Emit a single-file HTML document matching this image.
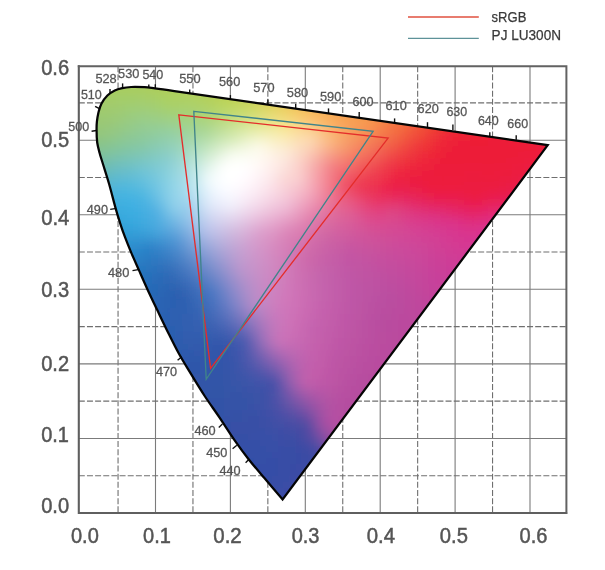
<!DOCTYPE html>
<html><head><meta charset="utf-8"><title>CIE 1976 chromaticity</title>
<style>
html,body{margin:0;padding:0;background:#fff;}
svg{display:block;font-family:"Liberation Sans",sans-serif;will-change:transform;}
.gs{stroke:#7b7b7b;stroke-width:1.1;fill:none}
.gd{stroke:#6f6f6f;stroke-width:1.1;fill:none;stroke-dasharray:6 2.15}
</style></head><body>
<svg width="605" height="570" viewBox="0 0 605 570">
<defs>
<clipPath id="hs"><path d="M174.4 91.1C171.2 90.6 160.0 88.9 155.0 88.3C150.0 87.7 148.6 87.4 144.6 87.2C140.6 87.0 134.9 86.8 131.2 87.0C127.5 87.2 125.0 87.5 122.3 88.1C119.6 88.7 117.3 89.2 114.8 90.4C112.3 91.6 109.6 93.3 107.4 95.5C105.2 97.7 102.9 100.8 101.4 103.7C99.9 106.6 99.2 109.7 98.4 112.7C97.7 115.7 97.2 118.6 96.9 121.6C96.6 124.6 96.5 127.0 96.6 130.5C96.6 134.0 96.7 138.8 97.2 142.5C97.7 146.2 98.7 149.5 99.6 153.0C100.5 156.5 101.2 158.3 102.8 163.5C104.4 168.7 107.0 176.6 109.1 184.0C111.2 191.4 113.7 201.4 115.5 207.9C117.3 214.4 118.4 217.8 120.0 222.8C121.6 227.8 123.3 232.7 125.2 237.7C127.1 242.7 128.8 246.9 131.2 252.6C133.6 258.3 137.0 265.7 139.7 271.9C142.4 278.1 144.7 283.4 147.6 289.7C150.5 296.0 153.9 303.1 157.0 309.6C160.1 316.1 162.7 321.7 166.3 328.9C169.9 336.1 174.3 345.3 178.4 352.8C182.5 360.3 186.4 366.4 190.8 373.7C195.2 381.0 200.2 389.2 205.0 396.5C209.8 403.8 214.4 409.9 219.4 417.3C224.4 424.7 230.3 434.1 235.2 441.1C240.1 448.1 243.7 453.0 248.6 459.2C253.5 465.4 258.7 471.4 264.4 478.1C270.1 484.8 279.6 495.9 282.6 499.5L547.7 145.2Z"/></clipPath>
<filter id="bl" x="-5%" y="-5%" width="110%" height="110%"><feGaussianBlur stdDeviation="4"/></filter>
</defs>
<rect width="605" height="570" fill="#fff"/>
<g id="grid">
<line x1="118.05" y1="66.2" x2="118.05" y2="513.0" class="gd"/>
<line x1="155.50" y1="66.2" x2="155.50" y2="513.0" class="gs"/>
<line x1="192.95" y1="66.2" x2="192.95" y2="513.0" class="gd"/>
<line x1="230.40" y1="66.2" x2="230.40" y2="513.0" class="gs"/>
<line x1="267.85" y1="66.2" x2="267.85" y2="513.0" class="gd"/>
<line x1="305.30" y1="66.2" x2="305.30" y2="513.0" class="gs"/>
<line x1="342.75" y1="66.2" x2="342.75" y2="513.0" class="gd"/>
<line x1="380.20" y1="66.2" x2="380.20" y2="513.0" class="gs"/>
<line x1="417.65" y1="66.2" x2="417.65" y2="513.0" class="gd"/>
<line x1="455.10" y1="66.2" x2="455.10" y2="513.0" class="gs"/>
<line x1="492.55" y1="66.2" x2="492.55" y2="513.0" class="gd"/>
<line x1="530.00" y1="66.2" x2="530.00" y2="513.0" class="gs"/>
<line x1="78.8" y1="475.72" x2="566.3" y2="475.72" class="gd"/>
<line x1="78.8" y1="438.44" x2="566.3" y2="438.44" class="gs"/>
<line x1="78.8" y1="401.16" x2="566.3" y2="401.16" class="gd"/>
<line x1="78.8" y1="363.88" x2="566.3" y2="363.88" class="gs"/>
<line x1="78.8" y1="326.60" x2="566.3" y2="326.60" class="gd"/>
<line x1="78.8" y1="289.32" x2="566.3" y2="289.32" class="gs"/>
<line x1="78.8" y1="252.04" x2="566.3" y2="252.04" class="gd"/>
<line x1="78.8" y1="214.76" x2="566.3" y2="214.76" class="gs"/>
<line x1="78.8" y1="177.48" x2="566.3" y2="177.48" class="gd"/>
<line x1="78.8" y1="140.20" x2="566.3" y2="140.20" class="gs"/>
<line x1="78.8" y1="102.92" x2="566.3" y2="102.92" class="gd"/>
</g>
<g clip-path="url(#hs)"><g filter="url(#bl)">
<rect x="116" y="68" width="7" height="7" fill="#abcc55"/>
<rect x="122" y="68" width="7" height="7" fill="#accd55"/>
<rect x="128" y="68" width="7" height="7" fill="#adcd54"/>
<rect x="134" y="68" width="7" height="7" fill="#aecd53"/>
<rect x="140" y="68" width="7" height="7" fill="#aecd52"/>
<rect x="146" y="68" width="7" height="7" fill="#afcd51"/>
<rect x="152" y="68" width="7" height="7" fill="#b0cd50"/>
<rect x="104" y="74" width="7" height="7" fill="#a9cc5a"/>
<rect x="110" y="74" width="7" height="7" fill="#a9cc59"/>
<rect x="116" y="74" width="7" height="7" fill="#aacd59"/>
<rect x="122" y="74" width="7" height="7" fill="#abcd58"/>
<rect x="128" y="74" width="7" height="7" fill="#abcd58"/>
<rect x="134" y="74" width="7" height="7" fill="#accd57"/>
<rect x="140" y="74" width="7" height="7" fill="#adcd56"/>
<rect x="146" y="74" width="7" height="7" fill="#aece55"/>
<rect x="152" y="74" width="7" height="7" fill="#afce54"/>
<rect x="158" y="74" width="7" height="7" fill="#b0ce53"/>
<rect x="164" y="74" width="7" height="7" fill="#b1ce51"/>
<rect x="170" y="74" width="7" height="7" fill="#b2ce50"/>
<rect x="176" y="74" width="7" height="7" fill="#b3ce4f"/>
<rect x="182" y="74" width="7" height="7" fill="#b4ce4e"/>
<rect x="188" y="74" width="7" height="7" fill="#b5ce4d"/>
<rect x="194" y="74" width="7" height="7" fill="#b6ce4b"/>
<rect x="98" y="80" width="7" height="7" fill="#a7cc5e"/>
<rect x="104" y="80" width="7" height="7" fill="#a8cc5d"/>
<rect x="110" y="80" width="7" height="7" fill="#a8cd5d"/>
<rect x="116" y="80" width="7" height="7" fill="#a9cd5d"/>
<rect x="122" y="80" width="7" height="7" fill="#a9cd5d"/>
<rect x="128" y="80" width="7" height="7" fill="#aacd5c"/>
<rect x="134" y="80" width="7" height="7" fill="#aacd5c"/>
<rect x="140" y="80" width="7" height="7" fill="#abce5b"/>
<rect x="146" y="80" width="7" height="7" fill="#acce5a"/>
<rect x="152" y="80" width="7" height="7" fill="#adce59"/>
<rect x="158" y="80" width="7" height="7" fill="#aece57"/>
<rect x="164" y="80" width="7" height="7" fill="#afce56"/>
<rect x="170" y="80" width="7" height="7" fill="#b0ce55"/>
<rect x="176" y="80" width="7" height="7" fill="#b1ce54"/>
<rect x="182" y="80" width="7" height="7" fill="#b2ce53"/>
<rect x="188" y="80" width="7" height="7" fill="#b4ce52"/>
<rect x="194" y="80" width="7" height="7" fill="#b5ce50"/>
<rect x="200" y="80" width="7" height="7" fill="#b6ce4f"/>
<rect x="206" y="80" width="7" height="7" fill="#b8ce4d"/>
<rect x="212" y="80" width="7" height="7" fill="#bace4b"/>
<rect x="218" y="80" width="7" height="7" fill="#bcce49"/>
<rect x="224" y="80" width="7" height="7" fill="#bfce48"/>
<rect x="230" y="80" width="7" height="7" fill="#c1ce47"/>
<rect x="236" y="80" width="7" height="7" fill="#c4cd46"/>
<rect x="92" y="86" width="7" height="7" fill="#a4cb61"/>
<rect x="98" y="86" width="7" height="7" fill="#a6cc61"/>
<rect x="104" y="86" width="7" height="7" fill="#a7cc61"/>
<rect x="110" y="86" width="7" height="7" fill="#a7cd61"/>
<rect x="116" y="86" width="7" height="7" fill="#a7cd61"/>
<rect x="122" y="86" width="7" height="7" fill="#a7cd61"/>
<rect x="128" y="86" width="7" height="7" fill="#a8cd61"/>
<rect x="134" y="86" width="7" height="7" fill="#a8cd61"/>
<rect x="140" y="86" width="7" height="7" fill="#a9ce60"/>
<rect x="146" y="86" width="7" height="7" fill="#aace5f"/>
<rect x="152" y="86" width="7" height="7" fill="#abce5e"/>
<rect x="158" y="86" width="7" height="7" fill="#adcf5c"/>
<rect x="164" y="86" width="7" height="7" fill="#aecf5b"/>
<rect x="170" y="86" width="7" height="7" fill="#afcf5a"/>
<rect x="176" y="86" width="7" height="7" fill="#b0cf59"/>
<rect x="182" y="86" width="7" height="7" fill="#b1cf59"/>
<rect x="188" y="86" width="7" height="7" fill="#b2cf58"/>
<rect x="194" y="86" width="7" height="7" fill="#b3cf56"/>
<rect x="200" y="86" width="7" height="7" fill="#b5cf54"/>
<rect x="206" y="86" width="7" height="7" fill="#b6cf52"/>
<rect x="212" y="86" width="7" height="7" fill="#b9cf50"/>
<rect x="218" y="86" width="7" height="7" fill="#bbd04e"/>
<rect x="224" y="86" width="7" height="7" fill="#bed04d"/>
<rect x="230" y="86" width="7" height="7" fill="#c0d04c"/>
<rect x="236" y="86" width="7" height="7" fill="#c3cf4b"/>
<rect x="242" y="86" width="7" height="7" fill="#c7cf4b"/>
<rect x="248" y="86" width="7" height="7" fill="#cbce4b"/>
<rect x="254" y="86" width="7" height="7" fill="#cfcd4b"/>
<rect x="260" y="86" width="7" height="7" fill="#d4cc4a"/>
<rect x="266" y="86" width="7" height="7" fill="#d8ca49"/>
<rect x="272" y="86" width="7" height="7" fill="#ddc849"/>
<rect x="278" y="86" width="7" height="7" fill="#e1c648"/>
<rect x="86" y="92" width="7" height="7" fill="#a1ca65"/>
<rect x="92" y="92" width="7" height="7" fill="#a3cb65"/>
<rect x="98" y="92" width="7" height="7" fill="#a5cc65"/>
<rect x="104" y="92" width="7" height="7" fill="#a5cc65"/>
<rect x="110" y="92" width="7" height="7" fill="#a5cc65"/>
<rect x="116" y="92" width="7" height="7" fill="#a5cd66"/>
<rect x="122" y="92" width="7" height="7" fill="#a5cd66"/>
<rect x="128" y="92" width="7" height="7" fill="#a5cd66"/>
<rect x="134" y="92" width="7" height="7" fill="#a6cd66"/>
<rect x="140" y="92" width="7" height="7" fill="#a7ce66"/>
<rect x="146" y="92" width="7" height="7" fill="#a8ce65"/>
<rect x="152" y="92" width="7" height="7" fill="#a9cf63"/>
<rect x="158" y="92" width="7" height="7" fill="#abcf61"/>
<rect x="164" y="92" width="7" height="7" fill="#accf5f"/>
<rect x="170" y="92" width="7" height="7" fill="#adcf5f"/>
<rect x="176" y="92" width="7" height="7" fill="#aed05f"/>
<rect x="182" y="92" width="7" height="7" fill="#afd05f"/>
<rect x="188" y="92" width="7" height="7" fill="#b0d05f"/>
<rect x="194" y="92" width="7" height="7" fill="#b1d05d"/>
<rect x="200" y="92" width="7" height="7" fill="#b3d05a"/>
<rect x="206" y="92" width="7" height="7" fill="#b5d058"/>
<rect x="212" y="92" width="7" height="7" fill="#b7d155"/>
<rect x="218" y="92" width="7" height="7" fill="#bad154"/>
<rect x="224" y="92" width="7" height="7" fill="#bdd252"/>
<rect x="230" y="92" width="7" height="7" fill="#c0d252"/>
<rect x="236" y="92" width="7" height="7" fill="#c3d252"/>
<rect x="242" y="92" width="7" height="7" fill="#c6d152"/>
<rect x="248" y="92" width="7" height="7" fill="#cad152"/>
<rect x="254" y="92" width="7" height="7" fill="#cfd052"/>
<rect x="260" y="92" width="7" height="7" fill="#d4cf51"/>
<rect x="266" y="92" width="7" height="7" fill="#d9cd50"/>
<rect x="272" y="92" width="7" height="7" fill="#decb50"/>
<rect x="278" y="92" width="7" height="7" fill="#e3c84f"/>
<rect x="284" y="92" width="7" height="7" fill="#e7c54d"/>
<rect x="290" y="92" width="7" height="7" fill="#eac24c"/>
<rect x="296" y="92" width="7" height="7" fill="#edbe4b"/>
<rect x="302" y="92" width="7" height="7" fill="#f0ba49"/>
<rect x="308" y="92" width="7" height="7" fill="#f2b648"/>
<rect x="314" y="92" width="7" height="7" fill="#f3b246"/>
<rect x="320" y="92" width="7" height="7" fill="#f4af45"/>
<rect x="86" y="98" width="7" height="7" fill="#a0ca68"/>
<rect x="92" y="98" width="7" height="7" fill="#a2cb68"/>
<rect x="98" y="98" width="7" height="7" fill="#a4cc69"/>
<rect x="104" y="98" width="7" height="7" fill="#a4cc69"/>
<rect x="110" y="98" width="7" height="7" fill="#a3cc69"/>
<rect x="116" y="98" width="7" height="7" fill="#a3cc6a"/>
<rect x="122" y="98" width="7" height="7" fill="#a3cd6b"/>
<rect x="128" y="98" width="7" height="7" fill="#a3cd6c"/>
<rect x="134" y="98" width="7" height="7" fill="#a3cd6d"/>
<rect x="140" y="98" width="7" height="7" fill="#a4ce6d"/>
<rect x="146" y="98" width="7" height="7" fill="#a5ce6c"/>
<rect x="152" y="98" width="7" height="7" fill="#a6cf6a"/>
<rect x="158" y="98" width="7" height="7" fill="#a8cf68"/>
<rect x="164" y="98" width="7" height="7" fill="#aad065"/>
<rect x="170" y="98" width="7" height="7" fill="#acd064"/>
<rect x="176" y="98" width="7" height="7" fill="#acd065"/>
<rect x="182" y="98" width="7" height="7" fill="#add066"/>
<rect x="188" y="98" width="7" height="7" fill="#aed066"/>
<rect x="194" y="98" width="7" height="7" fill="#afd164"/>
<rect x="200" y="98" width="7" height="7" fill="#b1d161"/>
<rect x="206" y="98" width="7" height="7" fill="#b3d15e"/>
<rect x="212" y="98" width="7" height="7" fill="#b6d25c"/>
<rect x="218" y="98" width="7" height="7" fill="#b9d35b"/>
<rect x="224" y="98" width="7" height="7" fill="#bcd459"/>
<rect x="230" y="98" width="7" height="7" fill="#bfd459"/>
<rect x="236" y="98" width="7" height="7" fill="#c2d459"/>
<rect x="242" y="98" width="7" height="7" fill="#c6d45a"/>
<rect x="248" y="98" width="7" height="7" fill="#cad45a"/>
<rect x="254" y="98" width="7" height="7" fill="#d0d35a"/>
<rect x="260" y="98" width="7" height="7" fill="#d5d259"/>
<rect x="266" y="98" width="7" height="7" fill="#dbd059"/>
<rect x="272" y="98" width="7" height="7" fill="#e0ce58"/>
<rect x="278" y="98" width="7" height="7" fill="#e5cc57"/>
<rect x="284" y="98" width="7" height="7" fill="#e9c855"/>
<rect x="290" y="98" width="7" height="7" fill="#edc553"/>
<rect x="296" y="98" width="7" height="7" fill="#f0c052"/>
<rect x="302" y="98" width="7" height="7" fill="#f2bc50"/>
<rect x="308" y="98" width="7" height="7" fill="#f4b84e"/>
<rect x="314" y="98" width="7" height="7" fill="#f5b34c"/>
<rect x="320" y="98" width="7" height="7" fill="#f5b04a"/>
<rect x="326" y="98" width="7" height="7" fill="#f6ac48"/>
<rect x="332" y="98" width="7" height="7" fill="#f6a847"/>
<rect x="338" y="98" width="7" height="7" fill="#f6a546"/>
<rect x="344" y="98" width="7" height="7" fill="#f6a245"/>
<rect x="350" y="98" width="7" height="7" fill="#f69f44"/>
<rect x="356" y="98" width="7" height="7" fill="#f69b42"/>
<rect x="362" y="98" width="7" height="7" fill="#f69741"/>
<rect x="80" y="104" width="7" height="7" fill="#9bc86c"/>
<rect x="86" y="104" width="7" height="7" fill="#9ec96b"/>
<rect x="92" y="104" width="7" height="7" fill="#a0ca6b"/>
<rect x="98" y="104" width="7" height="7" fill="#a1cb6c"/>
<rect x="104" y="104" width="7" height="7" fill="#a1cb6d"/>
<rect x="110" y="104" width="7" height="7" fill="#a1cb6e"/>
<rect x="116" y="104" width="7" height="7" fill="#a1cc6f"/>
<rect x="122" y="104" width="7" height="7" fill="#a0cc71"/>
<rect x="128" y="104" width="7" height="7" fill="#a0cd73"/>
<rect x="134" y="104" width="7" height="7" fill="#a0cd74"/>
<rect x="140" y="104" width="7" height="7" fill="#a1ce75"/>
<rect x="146" y="104" width="7" height="7" fill="#a2ce74"/>
<rect x="152" y="104" width="7" height="7" fill="#a3cf72"/>
<rect x="158" y="104" width="7" height="7" fill="#a5cf70"/>
<rect x="164" y="104" width="7" height="7" fill="#a8d06c"/>
<rect x="170" y="104" width="7" height="7" fill="#a9d06b"/>
<rect x="176" y="104" width="7" height="7" fill="#a9d06d"/>
<rect x="182" y="104" width="7" height="7" fill="#aad16d"/>
<rect x="188" y="104" width="7" height="7" fill="#abd16d"/>
<rect x="194" y="104" width="7" height="7" fill="#add16b"/>
<rect x="200" y="104" width="7" height="7" fill="#afd269"/>
<rect x="206" y="104" width="7" height="7" fill="#b2d266"/>
<rect x="212" y="104" width="7" height="7" fill="#b5d365"/>
<rect x="218" y="104" width="7" height="7" fill="#b9d564"/>
<rect x="224" y="104" width="7" height="7" fill="#bcd663"/>
<rect x="230" y="104" width="7" height="7" fill="#c0d763"/>
<rect x="236" y="104" width="7" height="7" fill="#c3d764"/>
<rect x="242" y="104" width="7" height="7" fill="#c6d764"/>
<rect x="248" y="104" width="7" height="7" fill="#cad764"/>
<rect x="254" y="104" width="7" height="7" fill="#d1d764"/>
<rect x="260" y="104" width="7" height="7" fill="#d8d664"/>
<rect x="266" y="104" width="7" height="7" fill="#ded462"/>
<rect x="272" y="104" width="7" height="7" fill="#e3d362"/>
<rect x="278" y="104" width="7" height="7" fill="#e8d061"/>
<rect x="284" y="104" width="7" height="7" fill="#eccc5e"/>
<rect x="290" y="104" width="7" height="7" fill="#f0c85c"/>
<rect x="296" y="104" width="7" height="7" fill="#f3c35b"/>
<rect x="302" y="104" width="7" height="7" fill="#f5be58"/>
<rect x="308" y="104" width="7" height="7" fill="#f6b956"/>
<rect x="314" y="104" width="7" height="7" fill="#f7b553"/>
<rect x="320" y="104" width="7" height="7" fill="#f7b151"/>
<rect x="326" y="104" width="7" height="7" fill="#f7ac4e"/>
<rect x="332" y="104" width="7" height="7" fill="#f7a94c"/>
<rect x="338" y="104" width="7" height="7" fill="#f7a54b"/>
<rect x="344" y="104" width="7" height="7" fill="#f7a249"/>
<rect x="350" y="104" width="7" height="7" fill="#f69f48"/>
<rect x="356" y="104" width="7" height="7" fill="#f69c47"/>
<rect x="362" y="104" width="7" height="7" fill="#f69845"/>
<rect x="368" y="104" width="7" height="7" fill="#f69443"/>
<rect x="374" y="104" width="7" height="7" fill="#f68e41"/>
<rect x="380" y="104" width="7" height="7" fill="#f5883f"/>
<rect x="386" y="104" width="7" height="7" fill="#f5823d"/>
<rect x="392" y="104" width="7" height="7" fill="#f57b3b"/>
<rect x="398" y="104" width="7" height="7" fill="#f47439"/>
<rect x="404" y="104" width="7" height="7" fill="#f46d37"/>
<rect x="80" y="110" width="7" height="7" fill="#99c76f"/>
<rect x="86" y="110" width="7" height="7" fill="#9bc86f"/>
<rect x="92" y="110" width="7" height="7" fill="#9dc96f"/>
<rect x="98" y="110" width="7" height="7" fill="#9eca6f"/>
<rect x="104" y="110" width="7" height="7" fill="#9fca70"/>
<rect x="110" y="110" width="7" height="7" fill="#9eca72"/>
<rect x="116" y="110" width="7" height="7" fill="#9ecb74"/>
<rect x="122" y="110" width="7" height="7" fill="#9dcc77"/>
<rect x="128" y="110" width="7" height="7" fill="#9dcc7a"/>
<rect x="134" y="110" width="7" height="7" fill="#9dcd7d"/>
<rect x="140" y="110" width="7" height="7" fill="#9dcd7e"/>
<rect x="146" y="110" width="7" height="7" fill="#9ece7e"/>
<rect x="152" y="110" width="7" height="7" fill="#9fce7c"/>
<rect x="158" y="110" width="7" height="7" fill="#a1cf7a"/>
<rect x="164" y="110" width="7" height="7" fill="#a3cf78"/>
<rect x="170" y="110" width="7" height="7" fill="#a5d077"/>
<rect x="176" y="110" width="7" height="7" fill="#a6d077"/>
<rect x="182" y="110" width="7" height="7" fill="#a7d177"/>
<rect x="188" y="110" width="7" height="7" fill="#a8d176"/>
<rect x="194" y="110" width="7" height="7" fill="#aad274"/>
<rect x="200" y="110" width="7" height="7" fill="#add372"/>
<rect x="206" y="110" width="7" height="7" fill="#b0d471"/>
<rect x="212" y="110" width="7" height="7" fill="#b4d570"/>
<rect x="218" y="110" width="7" height="7" fill="#b9d770"/>
<rect x="224" y="110" width="7" height="7" fill="#bed870"/>
<rect x="230" y="110" width="7" height="7" fill="#c2da70"/>
<rect x="236" y="110" width="7" height="7" fill="#c6db71"/>
<rect x="242" y="110" width="7" height="7" fill="#cadb71"/>
<rect x="248" y="110" width="7" height="7" fill="#cfdc71"/>
<rect x="254" y="110" width="7" height="7" fill="#d5dc71"/>
<rect x="260" y="110" width="7" height="7" fill="#dbdb71"/>
<rect x="266" y="110" width="7" height="7" fill="#e1da70"/>
<rect x="272" y="110" width="7" height="7" fill="#e7d86f"/>
<rect x="278" y="110" width="7" height="7" fill="#ebd66d"/>
<rect x="284" y="110" width="7" height="7" fill="#efd26a"/>
<rect x="290" y="110" width="7" height="7" fill="#f3cd68"/>
<rect x="296" y="110" width="7" height="7" fill="#f5c866"/>
<rect x="302" y="110" width="7" height="7" fill="#f8c162"/>
<rect x="308" y="110" width="7" height="7" fill="#f9bc5f"/>
<rect x="314" y="110" width="7" height="7" fill="#f9b85c"/>
<rect x="320" y="110" width="7" height="7" fill="#f8b258"/>
<rect x="326" y="110" width="7" height="7" fill="#f8ae55"/>
<rect x="332" y="110" width="7" height="7" fill="#f8a953"/>
<rect x="338" y="110" width="7" height="7" fill="#f7a550"/>
<rect x="344" y="110" width="7" height="7" fill="#f7a24f"/>
<rect x="350" y="110" width="7" height="7" fill="#f79f4d"/>
<rect x="356" y="110" width="7" height="7" fill="#f69c4b"/>
<rect x="362" y="110" width="7" height="7" fill="#f6994a"/>
<rect x="368" y="110" width="7" height="7" fill="#f69448"/>
<rect x="374" y="110" width="7" height="7" fill="#f68e45"/>
<rect x="380" y="110" width="7" height="7" fill="#f58742"/>
<rect x="386" y="110" width="7" height="7" fill="#f58040"/>
<rect x="392" y="110" width="7" height="7" fill="#f5793d"/>
<rect x="398" y="110" width="7" height="7" fill="#f4723b"/>
<rect x="404" y="110" width="7" height="7" fill="#f46b39"/>
<rect x="410" y="110" width="7" height="7" fill="#f36337"/>
<rect x="416" y="110" width="7" height="7" fill="#f25c35"/>
<rect x="422" y="110" width="7" height="7" fill="#f25534"/>
<rect x="428" y="110" width="7" height="7" fill="#f14e33"/>
<rect x="434" y="110" width="7" height="7" fill="#f14732"/>
<rect x="440" y="110" width="7" height="7" fill="#f04132"/>
<rect x="446" y="110" width="7" height="7" fill="#f03c31"/>
<rect x="80" y="116" width="7" height="7" fill="#96c672"/>
<rect x="86" y="116" width="7" height="7" fill="#99c772"/>
<rect x="92" y="116" width="7" height="7" fill="#9ac872"/>
<rect x="98" y="116" width="7" height="7" fill="#9bc973"/>
<rect x="104" y="116" width="7" height="7" fill="#9cc974"/>
<rect x="110" y="116" width="7" height="7" fill="#9bc976"/>
<rect x="116" y="116" width="7" height="7" fill="#9bca7a"/>
<rect x="122" y="116" width="7" height="7" fill="#9acb7d"/>
<rect x="128" y="116" width="7" height="7" fill="#99cc81"/>
<rect x="134" y="116" width="7" height="7" fill="#99cc85"/>
<rect x="140" y="116" width="7" height="7" fill="#99cd88"/>
<rect x="146" y="116" width="7" height="7" fill="#9acd87"/>
<rect x="152" y="116" width="7" height="7" fill="#9bce86"/>
<rect x="158" y="116" width="7" height="7" fill="#9ccf85"/>
<rect x="164" y="116" width="7" height="7" fill="#9ecf84"/>
<rect x="170" y="116" width="7" height="7" fill="#a0d083"/>
<rect x="176" y="116" width="7" height="7" fill="#a2d183"/>
<rect x="182" y="116" width="7" height="7" fill="#a4d182"/>
<rect x="188" y="116" width="7" height="7" fill="#a6d280"/>
<rect x="194" y="116" width="7" height="7" fill="#a8d37f"/>
<rect x="200" y="116" width="7" height="7" fill="#abd47d"/>
<rect x="206" y="116" width="7" height="7" fill="#afd57c"/>
<rect x="212" y="116" width="7" height="7" fill="#b4d77c"/>
<rect x="218" y="116" width="7" height="7" fill="#bad97d"/>
<rect x="224" y="116" width="7" height="7" fill="#c0db7e"/>
<rect x="230" y="116" width="7" height="7" fill="#c5dd7f"/>
<rect x="236" y="116" width="7" height="7" fill="#cadf80"/>
<rect x="242" y="116" width="7" height="7" fill="#cfe081"/>
<rect x="248" y="116" width="7" height="7" fill="#d5e181"/>
<rect x="254" y="116" width="7" height="7" fill="#dae180"/>
<rect x="260" y="116" width="7" height="7" fill="#e0e080"/>
<rect x="266" y="116" width="7" height="7" fill="#e6e07f"/>
<rect x="272" y="116" width="7" height="7" fill="#ebde7e"/>
<rect x="278" y="116" width="7" height="7" fill="#efdc7c"/>
<rect x="284" y="116" width="7" height="7" fill="#f3d97a"/>
<rect x="290" y="116" width="7" height="7" fill="#f5d478"/>
<rect x="296" y="116" width="7" height="7" fill="#f8ce75"/>
<rect x="302" y="116" width="7" height="7" fill="#f9c872"/>
<rect x="308" y="116" width="7" height="7" fill="#fac26e"/>
<rect x="314" y="116" width="7" height="7" fill="#fabc69"/>
<rect x="320" y="116" width="7" height="7" fill="#fab663"/>
<rect x="326" y="116" width="7" height="7" fill="#f9b05e"/>
<rect x="332" y="116" width="7" height="7" fill="#f8aa5a"/>
<rect x="338" y="116" width="7" height="7" fill="#f8a556"/>
<rect x="344" y="116" width="7" height="7" fill="#f7a254"/>
<rect x="350" y="116" width="7" height="7" fill="#f79f52"/>
<rect x="356" y="116" width="7" height="7" fill="#f79c50"/>
<rect x="362" y="116" width="7" height="7" fill="#f6994e"/>
<rect x="368" y="116" width="7" height="7" fill="#f6954c"/>
<rect x="374" y="116" width="7" height="7" fill="#f68d49"/>
<rect x="380" y="116" width="7" height="7" fill="#f58645"/>
<rect x="386" y="116" width="7" height="7" fill="#f57e42"/>
<rect x="392" y="116" width="7" height="7" fill="#f5773f"/>
<rect x="398" y="116" width="7" height="7" fill="#f4703d"/>
<rect x="404" y="116" width="7" height="7" fill="#f3683a"/>
<rect x="410" y="116" width="7" height="7" fill="#f36038"/>
<rect x="416" y="116" width="7" height="7" fill="#f25937"/>
<rect x="422" y="116" width="7" height="7" fill="#f15135"/>
<rect x="428" y="116" width="7" height="7" fill="#f14934"/>
<rect x="434" y="116" width="7" height="7" fill="#f04234"/>
<rect x="440" y="116" width="7" height="7" fill="#f03c33"/>
<rect x="446" y="116" width="7" height="7" fill="#ef3733"/>
<rect x="452" y="116" width="7" height="7" fill="#ef3332"/>
<rect x="458" y="116" width="7" height="7" fill="#ef2f32"/>
<rect x="464" y="116" width="7" height="7" fill="#ef2d32"/>
<rect x="470" y="116" width="7" height="7" fill="#ef2b32"/>
<rect x="476" y="116" width="7" height="7" fill="#ef2932"/>
<rect x="482" y="116" width="7" height="7" fill="#ef2832"/>
<rect x="488" y="116" width="7" height="7" fill="#ef2632"/>
<rect x="80" y="122" width="7" height="7" fill="#93c576"/>
<rect x="86" y="122" width="7" height="7" fill="#96c676"/>
<rect x="92" y="122" width="7" height="7" fill="#98c776"/>
<rect x="98" y="122" width="7" height="7" fill="#99c876"/>
<rect x="104" y="122" width="7" height="7" fill="#99c879"/>
<rect x="110" y="122" width="7" height="7" fill="#98c97c"/>
<rect x="116" y="122" width="7" height="7" fill="#97c97f"/>
<rect x="122" y="122" width="7" height="7" fill="#96ca83"/>
<rect x="128" y="122" width="7" height="7" fill="#96cb87"/>
<rect x="134" y="122" width="7" height="7" fill="#95cb8b"/>
<rect x="140" y="122" width="7" height="7" fill="#95cc8f"/>
<rect x="146" y="122" width="7" height="7" fill="#96cd90"/>
<rect x="152" y="122" width="7" height="7" fill="#97cd90"/>
<rect x="158" y="122" width="7" height="7" fill="#98ce91"/>
<rect x="164" y="122" width="7" height="7" fill="#99cf91"/>
<rect x="170" y="122" width="7" height="7" fill="#9bd091"/>
<rect x="176" y="122" width="7" height="7" fill="#9ed18f"/>
<rect x="182" y="122" width="7" height="7" fill="#a1d28e"/>
<rect x="188" y="122" width="7" height="7" fill="#a4d38c"/>
<rect x="194" y="122" width="7" height="7" fill="#a6d48a"/>
<rect x="200" y="122" width="7" height="7" fill="#a9d589"/>
<rect x="206" y="122" width="7" height="7" fill="#aed788"/>
<rect x="212" y="122" width="7" height="7" fill="#b5da8a"/>
<rect x="218" y="122" width="7" height="7" fill="#bcdc8b"/>
<rect x="224" y="122" width="7" height="7" fill="#c3df8d"/>
<rect x="230" y="122" width="7" height="7" fill="#c9e18f"/>
<rect x="236" y="122" width="7" height="7" fill="#cfe391"/>
<rect x="242" y="122" width="7" height="7" fill="#d5e593"/>
<rect x="248" y="122" width="7" height="7" fill="#dbe693"/>
<rect x="254" y="122" width="7" height="7" fill="#e0e691"/>
<rect x="260" y="122" width="7" height="7" fill="#e6e691"/>
<rect x="266" y="122" width="7" height="7" fill="#ebe692"/>
<rect x="272" y="122" width="7" height="7" fill="#efe590"/>
<rect x="278" y="122" width="7" height="7" fill="#f3e38d"/>
<rect x="284" y="122" width="7" height="7" fill="#f6e08a"/>
<rect x="290" y="122" width="7" height="7" fill="#f8db89"/>
<rect x="296" y="122" width="7" height="7" fill="#f9d587"/>
<rect x="302" y="122" width="7" height="7" fill="#facf84"/>
<rect x="308" y="122" width="7" height="7" fill="#fbc97f"/>
<rect x="314" y="122" width="7" height="7" fill="#fbc379"/>
<rect x="320" y="122" width="7" height="7" fill="#fabc71"/>
<rect x="326" y="122" width="7" height="7" fill="#fab569"/>
<rect x="332" y="122" width="7" height="7" fill="#f9ad63"/>
<rect x="338" y="122" width="7" height="7" fill="#f8a75e"/>
<rect x="344" y="122" width="7" height="7" fill="#f8a35a"/>
<rect x="350" y="122" width="7" height="7" fill="#f79f57"/>
<rect x="356" y="122" width="7" height="7" fill="#f79b55"/>
<rect x="362" y="122" width="7" height="7" fill="#f69852"/>
<rect x="368" y="122" width="7" height="7" fill="#f69450"/>
<rect x="374" y="122" width="7" height="7" fill="#f68b4c"/>
<rect x="380" y="122" width="7" height="7" fill="#f58248"/>
<rect x="386" y="122" width="7" height="7" fill="#f57b45"/>
<rect x="392" y="122" width="7" height="7" fill="#f47341"/>
<rect x="398" y="122" width="7" height="7" fill="#f46c3f"/>
<rect x="404" y="122" width="7" height="7" fill="#f3653c"/>
<rect x="410" y="122" width="7" height="7" fill="#f25c3a"/>
<rect x="416" y="122" width="7" height="7" fill="#f25438"/>
<rect x="422" y="122" width="7" height="7" fill="#f14d36"/>
<rect x="428" y="122" width="7" height="7" fill="#f04535"/>
<rect x="434" y="122" width="7" height="7" fill="#f03d35"/>
<rect x="440" y="122" width="7" height="7" fill="#ef3634"/>
<rect x="446" y="122" width="7" height="7" fill="#ef3134"/>
<rect x="452" y="122" width="7" height="7" fill="#ef2e34"/>
<rect x="458" y="122" width="7" height="7" fill="#ee2b34"/>
<rect x="464" y="122" width="7" height="7" fill="#ee2933"/>
<rect x="470" y="122" width="7" height="7" fill="#ee2733"/>
<rect x="476" y="122" width="7" height="7" fill="#ee2633"/>
<rect x="482" y="122" width="7" height="7" fill="#ee2533"/>
<rect x="488" y="122" width="7" height="7" fill="#ee2433"/>
<rect x="494" y="122" width="7" height="7" fill="#ee2333"/>
<rect x="500" y="122" width="7" height="7" fill="#ee2233"/>
<rect x="506" y="122" width="7" height="7" fill="#ee2133"/>
<rect x="512" y="122" width="7" height="7" fill="#ef2133"/>
<rect x="518" y="122" width="7" height="7" fill="#ef2133"/>
<rect x="524" y="122" width="7" height="7" fill="#ef2133"/>
<rect x="80" y="128" width="7" height="7" fill="#8fc47b"/>
<rect x="86" y="128" width="7" height="7" fill="#92c57a"/>
<rect x="92" y="128" width="7" height="7" fill="#95c679"/>
<rect x="98" y="128" width="7" height="7" fill="#96c77b"/>
<rect x="104" y="128" width="7" height="7" fill="#95c87e"/>
<rect x="110" y="128" width="7" height="7" fill="#94c881"/>
<rect x="116" y="128" width="7" height="7" fill="#93c986"/>
<rect x="122" y="128" width="7" height="7" fill="#92c98a"/>
<rect x="128" y="128" width="7" height="7" fill="#92ca8e"/>
<rect x="134" y="128" width="7" height="7" fill="#91ca92"/>
<rect x="140" y="128" width="7" height="7" fill="#91cb95"/>
<rect x="146" y="128" width="7" height="7" fill="#92cc97"/>
<rect x="152" y="128" width="7" height="7" fill="#92cd9a"/>
<rect x="158" y="128" width="7" height="7" fill="#93ce9c"/>
<rect x="164" y="128" width="7" height="7" fill="#95cf9e"/>
<rect x="170" y="128" width="7" height="7" fill="#97d09e"/>
<rect x="176" y="128" width="7" height="7" fill="#9bd19c"/>
<rect x="182" y="128" width="7" height="7" fill="#9fd39a"/>
<rect x="188" y="128" width="7" height="7" fill="#a3d498"/>
<rect x="194" y="128" width="7" height="7" fill="#a6d596"/>
<rect x="200" y="128" width="7" height="7" fill="#a9d695"/>
<rect x="206" y="128" width="7" height="7" fill="#afd995"/>
<rect x="212" y="128" width="7" height="7" fill="#b8dc98"/>
<rect x="218" y="128" width="7" height="7" fill="#c0e09b"/>
<rect x="224" y="128" width="7" height="7" fill="#c7e29d"/>
<rect x="230" y="128" width="7" height="7" fill="#cee5a0"/>
<rect x="236" y="128" width="7" height="7" fill="#d5e7a3"/>
<rect x="242" y="128" width="7" height="7" fill="#dceaa6"/>
<rect x="248" y="128" width="7" height="7" fill="#e2eba8"/>
<rect x="254" y="128" width="7" height="7" fill="#e7eca8"/>
<rect x="260" y="128" width="7" height="7" fill="#ececa8"/>
<rect x="266" y="128" width="7" height="7" fill="#f0eba7"/>
<rect x="272" y="128" width="7" height="7" fill="#f3eaa4"/>
<rect x="278" y="128" width="7" height="7" fill="#f6e9a0"/>
<rect x="284" y="128" width="7" height="7" fill="#f9e69c"/>
<rect x="290" y="128" width="7" height="7" fill="#fae09b"/>
<rect x="296" y="128" width="7" height="7" fill="#fbdb99"/>
<rect x="302" y="128" width="7" height="7" fill="#fbd697"/>
<rect x="308" y="128" width="7" height="7" fill="#fcd092"/>
<rect x="314" y="128" width="7" height="7" fill="#fbc98a"/>
<rect x="320" y="128" width="7" height="7" fill="#fbc17f"/>
<rect x="326" y="128" width="7" height="7" fill="#fab974"/>
<rect x="332" y="128" width="7" height="7" fill="#f9b16c"/>
<rect x="338" y="128" width="7" height="7" fill="#f9a965"/>
<rect x="344" y="128" width="7" height="7" fill="#f8a360"/>
<rect x="350" y="128" width="7" height="7" fill="#f79d5c"/>
<rect x="356" y="128" width="7" height="7" fill="#f69859"/>
<rect x="362" y="128" width="7" height="7" fill="#f69356"/>
<rect x="368" y="128" width="7" height="7" fill="#f58d52"/>
<rect x="374" y="128" width="7" height="7" fill="#f5854f"/>
<rect x="380" y="128" width="7" height="7" fill="#f57d4a"/>
<rect x="386" y="128" width="7" height="7" fill="#f47547"/>
<rect x="392" y="128" width="7" height="7" fill="#f46e43"/>
<rect x="398" y="128" width="7" height="7" fill="#f36740"/>
<rect x="404" y="128" width="7" height="7" fill="#f3603d"/>
<rect x="410" y="128" width="7" height="7" fill="#f2573b"/>
<rect x="416" y="128" width="7" height="7" fill="#f14f38"/>
<rect x="422" y="128" width="7" height="7" fill="#f04837"/>
<rect x="428" y="128" width="7" height="7" fill="#f03f36"/>
<rect x="434" y="128" width="7" height="7" fill="#ef3736"/>
<rect x="440" y="128" width="7" height="7" fill="#ee3036"/>
<rect x="446" y="128" width="7" height="7" fill="#ee2c35"/>
<rect x="452" y="128" width="7" height="7" fill="#ee2935"/>
<rect x="458" y="128" width="7" height="7" fill="#ee2635"/>
<rect x="464" y="128" width="7" height="7" fill="#ee2535"/>
<rect x="470" y="128" width="7" height="7" fill="#ee2434"/>
<rect x="476" y="128" width="7" height="7" fill="#ee2334"/>
<rect x="482" y="128" width="7" height="7" fill="#ee2234"/>
<rect x="488" y="128" width="7" height="7" fill="#ee2135"/>
<rect x="494" y="128" width="7" height="7" fill="#ee2035"/>
<rect x="500" y="128" width="7" height="7" fill="#ee2035"/>
<rect x="506" y="128" width="7" height="7" fill="#ee1f35"/>
<rect x="512" y="128" width="7" height="7" fill="#ee1f35"/>
<rect x="518" y="128" width="7" height="7" fill="#ee1f35"/>
<rect x="524" y="128" width="7" height="7" fill="#ee1f35"/>
<rect x="530" y="128" width="7" height="7" fill="#ee1f35"/>
<rect x="536" y="128" width="7" height="7" fill="#ee1f36"/>
<rect x="542" y="128" width="7" height="7" fill="#ee1f36"/>
<rect x="548" y="128" width="7" height="7" fill="#ee1f37"/>
<rect x="80" y="134" width="7" height="7" fill="#8bc381"/>
<rect x="86" y="134" width="7" height="7" fill="#8ec480"/>
<rect x="92" y="134" width="7" height="7" fill="#91c57f"/>
<rect x="98" y="134" width="7" height="7" fill="#92c680"/>
<rect x="104" y="134" width="7" height="7" fill="#91c784"/>
<rect x="110" y="134" width="7" height="7" fill="#90c788"/>
<rect x="116" y="134" width="7" height="7" fill="#8fc88c"/>
<rect x="122" y="134" width="7" height="7" fill="#8ec891"/>
<rect x="128" y="134" width="7" height="7" fill="#8dc995"/>
<rect x="134" y="134" width="7" height="7" fill="#8dc998"/>
<rect x="140" y="134" width="7" height="7" fill="#8dca9b"/>
<rect x="146" y="134" width="7" height="7" fill="#8ecb9f"/>
<rect x="152" y="134" width="7" height="7" fill="#8fcca2"/>
<rect x="158" y="134" width="7" height="7" fill="#90cda6"/>
<rect x="164" y="134" width="7" height="7" fill="#92cea8"/>
<rect x="170" y="134" width="7" height="7" fill="#95d0a9"/>
<rect x="176" y="134" width="7" height="7" fill="#9ad2a8"/>
<rect x="182" y="134" width="7" height="7" fill="#9fd4a6"/>
<rect x="188" y="134" width="7" height="7" fill="#a4d6a5"/>
<rect x="194" y="134" width="7" height="7" fill="#a9d8a3"/>
<rect x="200" y="134" width="7" height="7" fill="#aedaa3"/>
<rect x="206" y="134" width="7" height="7" fill="#b5dda4"/>
<rect x="212" y="134" width="7" height="7" fill="#bee1a8"/>
<rect x="218" y="134" width="7" height="7" fill="#c7e4ab"/>
<rect x="224" y="134" width="7" height="7" fill="#cee7ae"/>
<rect x="230" y="134" width="7" height="7" fill="#d4e9b1"/>
<rect x="236" y="134" width="7" height="7" fill="#dcecb6"/>
<rect x="242" y="134" width="7" height="7" fill="#e3efbc"/>
<rect x="248" y="134" width="7" height="7" fill="#eaf1c0"/>
<rect x="254" y="134" width="7" height="7" fill="#eff2c2"/>
<rect x="260" y="134" width="7" height="7" fill="#f3f1c1"/>
<rect x="266" y="134" width="7" height="7" fill="#f5f0bd"/>
<rect x="272" y="134" width="7" height="7" fill="#f7eeb8"/>
<rect x="278" y="134" width="7" height="7" fill="#f9ecb4"/>
<rect x="284" y="134" width="7" height="7" fill="#fae8b0"/>
<rect x="290" y="134" width="7" height="7" fill="#fbe3ac"/>
<rect x="296" y="134" width="7" height="7" fill="#fcdeaa"/>
<rect x="302" y="134" width="7" height="7" fill="#fcdaa8"/>
<rect x="308" y="134" width="7" height="7" fill="#fcd6a6"/>
<rect x="314" y="134" width="7" height="7" fill="#fccd9a"/>
<rect x="320" y="134" width="7" height="7" fill="#fbc38b"/>
<rect x="326" y="134" width="7" height="7" fill="#fabb7e"/>
<rect x="332" y="134" width="7" height="7" fill="#f9b273"/>
<rect x="338" y="134" width="7" height="7" fill="#f9a86b"/>
<rect x="344" y="134" width="7" height="7" fill="#f8a065"/>
<rect x="350" y="134" width="7" height="7" fill="#f79960"/>
<rect x="356" y="134" width="7" height="7" fill="#f6925c"/>
<rect x="362" y="134" width="7" height="7" fill="#f58c59"/>
<rect x="368" y="134" width="7" height="7" fill="#f58555"/>
<rect x="374" y="134" width="7" height="7" fill="#f47e51"/>
<rect x="380" y="134" width="7" height="7" fill="#f4764c"/>
<rect x="386" y="134" width="7" height="7" fill="#f36f48"/>
<rect x="392" y="134" width="7" height="7" fill="#f36745"/>
<rect x="398" y="134" width="7" height="7" fill="#f25f41"/>
<rect x="404" y="134" width="7" height="7" fill="#f2573e"/>
<rect x="410" y="134" width="7" height="7" fill="#f14e3c"/>
<rect x="416" y="134" width="7" height="7" fill="#f04839"/>
<rect x="422" y="134" width="7" height="7" fill="#f04138"/>
<rect x="428" y="134" width="7" height="7" fill="#ef3937"/>
<rect x="434" y="134" width="7" height="7" fill="#ee3037"/>
<rect x="440" y="134" width="7" height="7" fill="#ee2a37"/>
<rect x="446" y="134" width="7" height="7" fill="#ee2737"/>
<rect x="452" y="134" width="7" height="7" fill="#ed2436"/>
<rect x="458" y="134" width="7" height="7" fill="#ed2236"/>
<rect x="464" y="134" width="7" height="7" fill="#ed2136"/>
<rect x="470" y="134" width="7" height="7" fill="#ed2135"/>
<rect x="476" y="134" width="7" height="7" fill="#ee2035"/>
<rect x="482" y="134" width="7" height="7" fill="#ee2035"/>
<rect x="488" y="134" width="7" height="7" fill="#ed1f36"/>
<rect x="494" y="134" width="7" height="7" fill="#ed1e36"/>
<rect x="500" y="134" width="7" height="7" fill="#ed1e36"/>
<rect x="506" y="134" width="7" height="7" fill="#ee1e36"/>
<rect x="512" y="134" width="7" height="7" fill="#ee1e36"/>
<rect x="518" y="134" width="7" height="7" fill="#ee1e36"/>
<rect x="524" y="134" width="7" height="7" fill="#ee1e36"/>
<rect x="530" y="134" width="7" height="7" fill="#ee1e36"/>
<rect x="536" y="134" width="7" height="7" fill="#ee1e37"/>
<rect x="542" y="134" width="7" height="7" fill="#ee1e38"/>
<rect x="548" y="134" width="7" height="7" fill="#ed1e38"/>
<rect x="554" y="134" width="7" height="7" fill="#ed1f39"/>
<rect x="80" y="140" width="7" height="7" fill="#86c187"/>
<rect x="86" y="140" width="7" height="7" fill="#88c387"/>
<rect x="92" y="140" width="7" height="7" fill="#8ac488"/>
<rect x="98" y="140" width="7" height="7" fill="#8bc589"/>
<rect x="104" y="140" width="7" height="7" fill="#8bc58c"/>
<rect x="110" y="140" width="7" height="7" fill="#8ac690"/>
<rect x="116" y="140" width="7" height="7" fill="#89c794"/>
<rect x="122" y="140" width="7" height="7" fill="#89c799"/>
<rect x="128" y="140" width="7" height="7" fill="#88c79c"/>
<rect x="134" y="140" width="7" height="7" fill="#89c89f"/>
<rect x="140" y="140" width="7" height="7" fill="#89c9a2"/>
<rect x="146" y="140" width="7" height="7" fill="#8acaa7"/>
<rect x="152" y="140" width="7" height="7" fill="#8bcbab"/>
<rect x="158" y="140" width="7" height="7" fill="#8dcdaf"/>
<rect x="164" y="140" width="7" height="7" fill="#90ceb2"/>
<rect x="170" y="140" width="7" height="7" fill="#94d1b3"/>
<rect x="176" y="140" width="7" height="7" fill="#9ad3b3"/>
<rect x="182" y="140" width="7" height="7" fill="#a0d6b2"/>
<rect x="188" y="140" width="7" height="7" fill="#a7d9b1"/>
<rect x="194" y="140" width="7" height="7" fill="#aedcb1"/>
<rect x="200" y="140" width="7" height="7" fill="#b5dfb1"/>
<rect x="206" y="140" width="7" height="7" fill="#bee2b4"/>
<rect x="212" y="140" width="7" height="7" fill="#c7e6b8"/>
<rect x="218" y="140" width="7" height="7" fill="#d0e9bd"/>
<rect x="224" y="140" width="7" height="7" fill="#d8ecc1"/>
<rect x="230" y="140" width="7" height="7" fill="#deefc5"/>
<rect x="236" y="140" width="7" height="7" fill="#e5f2cb"/>
<rect x="242" y="140" width="7" height="7" fill="#ecf4d1"/>
<rect x="248" y="140" width="7" height="7" fill="#f1f6d6"/>
<rect x="254" y="140" width="7" height="7" fill="#f7f7dc"/>
<rect x="260" y="140" width="7" height="7" fill="#f9f6d9"/>
<rect x="266" y="140" width="7" height="7" fill="#faf3d1"/>
<rect x="272" y="140" width="7" height="7" fill="#faf0cb"/>
<rect x="278" y="140" width="7" height="7" fill="#fbedc5"/>
<rect x="284" y="140" width="7" height="7" fill="#fbe9c1"/>
<rect x="290" y="140" width="7" height="7" fill="#fce4bc"/>
<rect x="296" y="140" width="7" height="7" fill="#fcdfb8"/>
<rect x="302" y="140" width="7" height="7" fill="#fcdab4"/>
<rect x="308" y="140" width="7" height="7" fill="#fcd5b1"/>
<rect x="314" y="140" width="7" height="7" fill="#fbcba3"/>
<rect x="320" y="140" width="7" height="7" fill="#fac093"/>
<rect x="326" y="140" width="7" height="7" fill="#fab885"/>
<rect x="332" y="140" width="7" height="7" fill="#f9ae79"/>
<rect x="338" y="140" width="7" height="7" fill="#f8a470"/>
<rect x="344" y="140" width="7" height="7" fill="#f79b69"/>
<rect x="350" y="140" width="7" height="7" fill="#f69363"/>
<rect x="356" y="140" width="7" height="7" fill="#f58b5f"/>
<rect x="362" y="140" width="7" height="7" fill="#f5845b"/>
<rect x="368" y="140" width="7" height="7" fill="#f47d57"/>
<rect x="374" y="140" width="7" height="7" fill="#f37553"/>
<rect x="380" y="140" width="7" height="7" fill="#f36d4e"/>
<rect x="386" y="140" width="7" height="7" fill="#f36549"/>
<rect x="392" y="140" width="7" height="7" fill="#f25d45"/>
<rect x="398" y="140" width="7" height="7" fill="#f15542"/>
<rect x="404" y="140" width="7" height="7" fill="#f14d3f"/>
<rect x="410" y="140" width="7" height="7" fill="#f0443c"/>
<rect x="416" y="140" width="7" height="7" fill="#f03e3a"/>
<rect x="422" y="140" width="7" height="7" fill="#ef3939"/>
<rect x="428" y="140" width="7" height="7" fill="#ef3338"/>
<rect x="434" y="140" width="7" height="7" fill="#ee2c38"/>
<rect x="440" y="140" width="7" height="7" fill="#ee2737"/>
<rect x="446" y="140" width="7" height="7" fill="#ed2437"/>
<rect x="452" y="140" width="7" height="7" fill="#ed2137"/>
<rect x="458" y="140" width="7" height="7" fill="#ed1f37"/>
<rect x="464" y="140" width="7" height="7" fill="#ed1f37"/>
<rect x="470" y="140" width="7" height="7" fill="#ed1f36"/>
<rect x="476" y="140" width="7" height="7" fill="#ed1f36"/>
<rect x="482" y="140" width="7" height="7" fill="#ed1e36"/>
<rect x="488" y="140" width="7" height="7" fill="#ed1d37"/>
<rect x="494" y="140" width="7" height="7" fill="#ed1c38"/>
<rect x="500" y="140" width="7" height="7" fill="#ed1c38"/>
<rect x="506" y="140" width="7" height="7" fill="#ed1c37"/>
<rect x="512" y="140" width="7" height="7" fill="#ee1d37"/>
<rect x="518" y="140" width="7" height="7" fill="#ee1d37"/>
<rect x="524" y="140" width="7" height="7" fill="#ee1d37"/>
<rect x="530" y="140" width="7" height="7" fill="#ee1d38"/>
<rect x="536" y="140" width="7" height="7" fill="#ed1d39"/>
<rect x="542" y="140" width="7" height="7" fill="#ed1d39"/>
<rect x="548" y="140" width="7" height="7" fill="#ed1d3a"/>
<rect x="554" y="140" width="7" height="7" fill="#ed1e3b"/>
<rect x="80" y="146" width="7" height="7" fill="#80c08e"/>
<rect x="86" y="146" width="7" height="7" fill="#82c18f"/>
<rect x="92" y="146" width="7" height="7" fill="#84c290"/>
<rect x="98" y="146" width="7" height="7" fill="#84c393"/>
<rect x="104" y="146" width="7" height="7" fill="#84c496"/>
<rect x="110" y="146" width="7" height="7" fill="#84c599"/>
<rect x="116" y="146" width="7" height="7" fill="#83c59e"/>
<rect x="122" y="146" width="7" height="7" fill="#83c6a2"/>
<rect x="128" y="146" width="7" height="7" fill="#83c6a6"/>
<rect x="134" y="146" width="7" height="7" fill="#83c7a8"/>
<rect x="140" y="146" width="7" height="7" fill="#84c8ab"/>
<rect x="146" y="146" width="7" height="7" fill="#86c9b0"/>
<rect x="152" y="146" width="7" height="7" fill="#88cbb5"/>
<rect x="158" y="146" width="7" height="7" fill="#8accb9"/>
<rect x="164" y="146" width="7" height="7" fill="#8ecebc"/>
<rect x="170" y="146" width="7" height="7" fill="#93d1be"/>
<rect x="176" y="146" width="7" height="7" fill="#9ad4be"/>
<rect x="182" y="146" width="7" height="7" fill="#a2d8be"/>
<rect x="188" y="146" width="7" height="7" fill="#abdbbd"/>
<rect x="194" y="146" width="7" height="7" fill="#b4dfbe"/>
<rect x="200" y="146" width="7" height="7" fill="#bde3be"/>
<rect x="206" y="146" width="7" height="7" fill="#c7e7c2"/>
<rect x="212" y="146" width="7" height="7" fill="#d2ebc8"/>
<rect x="218" y="146" width="7" height="7" fill="#dbefcf"/>
<rect x="224" y="146" width="7" height="7" fill="#e4f3d6"/>
<rect x="230" y="146" width="7" height="7" fill="#ecf6dc"/>
<rect x="236" y="146" width="7" height="7" fill="#f0f7df"/>
<rect x="242" y="146" width="7" height="7" fill="#f4f8e3"/>
<rect x="248" y="146" width="7" height="7" fill="#f8f9e7"/>
<rect x="254" y="146" width="7" height="7" fill="#fbfaea"/>
<rect x="260" y="146" width="7" height="7" fill="#fdf8e7"/>
<rect x="266" y="146" width="7" height="7" fill="#fdf5df"/>
<rect x="272" y="146" width="7" height="7" fill="#fcf1d9"/>
<rect x="278" y="146" width="7" height="7" fill="#fcedd4"/>
<rect x="284" y="146" width="7" height="7" fill="#fce9cf"/>
<rect x="290" y="146" width="7" height="7" fill="#fce3c8"/>
<rect x="296" y="146" width="7" height="7" fill="#fcdcc1"/>
<rect x="302" y="146" width="7" height="7" fill="#fbd5ba"/>
<rect x="308" y="146" width="7" height="7" fill="#fbcdb2"/>
<rect x="314" y="146" width="7" height="7" fill="#fac3a5"/>
<rect x="320" y="146" width="7" height="7" fill="#f9b897"/>
<rect x="326" y="146" width="7" height="7" fill="#f9ae89"/>
<rect x="332" y="146" width="7" height="7" fill="#f8a47d"/>
<rect x="338" y="146" width="7" height="7" fill="#f79c73"/>
<rect x="344" y="146" width="7" height="7" fill="#f7946b"/>
<rect x="350" y="146" width="7" height="7" fill="#f68b66"/>
<rect x="356" y="146" width="7" height="7" fill="#f58261"/>
<rect x="362" y="146" width="7" height="7" fill="#f47b5d"/>
<rect x="368" y="146" width="7" height="7" fill="#f3745a"/>
<rect x="374" y="146" width="7" height="7" fill="#f26b54"/>
<rect x="380" y="146" width="7" height="7" fill="#f2634f"/>
<rect x="386" y="146" width="7" height="7" fill="#f25a4a"/>
<rect x="392" y="146" width="7" height="7" fill="#f15246"/>
<rect x="398" y="146" width="7" height="7" fill="#f14b42"/>
<rect x="404" y="146" width="7" height="7" fill="#f0433f"/>
<rect x="410" y="146" width="7" height="7" fill="#ef3c3c"/>
<rect x="416" y="146" width="7" height="7" fill="#ef363b"/>
<rect x="422" y="146" width="7" height="7" fill="#ef3239"/>
<rect x="428" y="146" width="7" height="7" fill="#ee2d39"/>
<rect x="434" y="146" width="7" height="7" fill="#ee2838"/>
<rect x="440" y="146" width="7" height="7" fill="#ed2438"/>
<rect x="446" y="146" width="7" height="7" fill="#ed2138"/>
<rect x="452" y="146" width="7" height="7" fill="#ed1f38"/>
<rect x="458" y="146" width="7" height="7" fill="#ed1e38"/>
<rect x="464" y="146" width="7" height="7" fill="#ed1e37"/>
<rect x="470" y="146" width="7" height="7" fill="#ed1e37"/>
<rect x="476" y="146" width="7" height="7" fill="#ed1e37"/>
<rect x="482" y="146" width="7" height="7" fill="#ed1d37"/>
<rect x="488" y="146" width="7" height="7" fill="#ed1c38"/>
<rect x="494" y="146" width="7" height="7" fill="#ed1c38"/>
<rect x="500" y="146" width="7" height="7" fill="#ed1b38"/>
<rect x="506" y="146" width="7" height="7" fill="#ed1c38"/>
<rect x="512" y="146" width="7" height="7" fill="#ed1c38"/>
<rect x="518" y="146" width="7" height="7" fill="#ed1c38"/>
<rect x="524" y="146" width="7" height="7" fill="#ed1c39"/>
<rect x="530" y="146" width="7" height="7" fill="#ed1c39"/>
<rect x="536" y="146" width="7" height="7" fill="#ed1c3a"/>
<rect x="542" y="146" width="7" height="7" fill="#ed1c3b"/>
<rect x="548" y="146" width="7" height="7" fill="#ec1d3c"/>
<rect x="554" y="146" width="7" height="7" fill="#ec1d3d"/>
<rect x="80" y="152" width="7" height="7" fill="#7abe96"/>
<rect x="86" y="152" width="7" height="7" fill="#7bbf98"/>
<rect x="92" y="152" width="7" height="7" fill="#7dc09a"/>
<rect x="98" y="152" width="7" height="7" fill="#7ec19c"/>
<rect x="104" y="152" width="7" height="7" fill="#7ec2a0"/>
<rect x="110" y="152" width="7" height="7" fill="#7dc3a4"/>
<rect x="116" y="152" width="7" height="7" fill="#7dc3a9"/>
<rect x="122" y="152" width="7" height="7" fill="#7dc4ad"/>
<rect x="128" y="152" width="7" height="7" fill="#7dc5b0"/>
<rect x="134" y="152" width="7" height="7" fill="#7ec6b4"/>
<rect x="140" y="152" width="7" height="7" fill="#7fc7b7"/>
<rect x="146" y="152" width="7" height="7" fill="#81c8bb"/>
<rect x="152" y="152" width="7" height="7" fill="#84cabf"/>
<rect x="158" y="152" width="7" height="7" fill="#87ccc3"/>
<rect x="164" y="152" width="7" height="7" fill="#8bcec6"/>
<rect x="170" y="152" width="7" height="7" fill="#92d1c8"/>
<rect x="176" y="152" width="7" height="7" fill="#9bd5c8"/>
<rect x="182" y="152" width="7" height="7" fill="#a4dac9"/>
<rect x="188" y="152" width="7" height="7" fill="#afdec9"/>
<rect x="194" y="152" width="7" height="7" fill="#bae3ca"/>
<rect x="200" y="152" width="7" height="7" fill="#c5e7cc"/>
<rect x="206" y="152" width="7" height="7" fill="#d1ecd0"/>
<rect x="212" y="152" width="7" height="7" fill="#dcf0d8"/>
<rect x="218" y="152" width="7" height="7" fill="#e6f4e0"/>
<rect x="224" y="152" width="7" height="7" fill="#eff8e8"/>
<rect x="230" y="152" width="7" height="7" fill="#f7fbef"/>
<rect x="236" y="152" width="7" height="7" fill="#f8fcef"/>
<rect x="242" y="152" width="7" height="7" fill="#fafcf0"/>
<rect x="248" y="152" width="7" height="7" fill="#fcfbf1"/>
<rect x="254" y="152" width="7" height="7" fill="#fdfaf1"/>
<rect x="260" y="152" width="7" height="7" fill="#fef8ed"/>
<rect x="266" y="152" width="7" height="7" fill="#fef4e8"/>
<rect x="272" y="152" width="7" height="7" fill="#fdf0e2"/>
<rect x="278" y="152" width="7" height="7" fill="#fdecdd"/>
<rect x="284" y="152" width="7" height="7" fill="#fce7d8"/>
<rect x="290" y="152" width="7" height="7" fill="#fce0cf"/>
<rect x="296" y="152" width="7" height="7" fill="#fbd8c6"/>
<rect x="302" y="152" width="7" height="7" fill="#fbcfbc"/>
<rect x="308" y="152" width="7" height="7" fill="#fac4b2"/>
<rect x="314" y="152" width="7" height="7" fill="#f9b8a6"/>
<rect x="320" y="152" width="7" height="7" fill="#f8ac98"/>
<rect x="326" y="152" width="7" height="7" fill="#f7a18b"/>
<rect x="332" y="152" width="7" height="7" fill="#f69880"/>
<rect x="338" y="152" width="7" height="7" fill="#f69075"/>
<rect x="344" y="152" width="7" height="7" fill="#f5886d"/>
<rect x="350" y="152" width="7" height="7" fill="#f58067"/>
<rect x="356" y="152" width="7" height="7" fill="#f47761"/>
<rect x="362" y="152" width="7" height="7" fill="#f3705d"/>
<rect x="368" y="152" width="7" height="7" fill="#f26959"/>
<rect x="374" y="152" width="7" height="7" fill="#f16054"/>
<rect x="380" y="152" width="7" height="7" fill="#f1574f"/>
<rect x="386" y="152" width="7" height="7" fill="#f14f4a"/>
<rect x="392" y="152" width="7" height="7" fill="#f04745"/>
<rect x="398" y="152" width="7" height="7" fill="#f04042"/>
<rect x="404" y="152" width="7" height="7" fill="#ef3a3f"/>
<rect x="410" y="152" width="7" height="7" fill="#ee343c"/>
<rect x="416" y="152" width="7" height="7" fill="#ee2f3b"/>
<rect x="422" y="152" width="7" height="7" fill="#ee2c3a"/>
<rect x="428" y="152" width="7" height="7" fill="#ee2839"/>
<rect x="434" y="152" width="7" height="7" fill="#ee2439"/>
<rect x="440" y="152" width="7" height="7" fill="#ed2238"/>
<rect x="446" y="152" width="7" height="7" fill="#ed1f38"/>
<rect x="452" y="152" width="7" height="7" fill="#ed1e38"/>
<rect x="458" y="152" width="7" height="7" fill="#ed1d38"/>
<rect x="464" y="152" width="7" height="7" fill="#ed1d38"/>
<rect x="470" y="152" width="7" height="7" fill="#ed1d38"/>
<rect x="476" y="152" width="7" height="7" fill="#ed1d38"/>
<rect x="482" y="152" width="7" height="7" fill="#ed1c38"/>
<rect x="488" y="152" width="7" height="7" fill="#ed1c38"/>
<rect x="494" y="152" width="7" height="7" fill="#ed1b38"/>
<rect x="500" y="152" width="7" height="7" fill="#ed1b39"/>
<rect x="506" y="152" width="7" height="7" fill="#ed1b39"/>
<rect x="512" y="152" width="7" height="7" fill="#ed1c39"/>
<rect x="518" y="152" width="7" height="7" fill="#ed1c3a"/>
<rect x="524" y="152" width="7" height="7" fill="#ed1c3a"/>
<rect x="530" y="152" width="7" height="7" fill="#ed1c3b"/>
<rect x="536" y="152" width="7" height="7" fill="#ec1c3c"/>
<rect x="542" y="152" width="7" height="7" fill="#ec1c3e"/>
<rect x="548" y="152" width="7" height="7" fill="#ec1d3f"/>
<rect x="554" y="152" width="7" height="7" fill="#eb1d40"/>
<rect x="86" y="158" width="7" height="7" fill="#74bda0"/>
<rect x="92" y="158" width="7" height="7" fill="#75bea3"/>
<rect x="98" y="158" width="7" height="7" fill="#76bfa6"/>
<rect x="104" y="158" width="7" height="7" fill="#76c0aa"/>
<rect x="110" y="158" width="7" height="7" fill="#76c0b0"/>
<rect x="116" y="158" width="7" height="7" fill="#76c1b4"/>
<rect x="122" y="158" width="7" height="7" fill="#76c2b8"/>
<rect x="128" y="158" width="7" height="7" fill="#76c3bc"/>
<rect x="134" y="158" width="7" height="7" fill="#78c4bf"/>
<rect x="140" y="158" width="7" height="7" fill="#7ac6c2"/>
<rect x="146" y="158" width="7" height="7" fill="#7dc8c6"/>
<rect x="152" y="158" width="7" height="7" fill="#80cac9"/>
<rect x="158" y="158" width="7" height="7" fill="#84cccc"/>
<rect x="164" y="158" width="7" height="7" fill="#89ced0"/>
<rect x="170" y="158" width="7" height="7" fill="#91d1d1"/>
<rect x="176" y="158" width="7" height="7" fill="#9bd6d2"/>
<rect x="182" y="158" width="7" height="7" fill="#a6dbd3"/>
<rect x="188" y="158" width="7" height="7" fill="#b2e0d4"/>
<rect x="194" y="158" width="7" height="7" fill="#bfe6d6"/>
<rect x="200" y="158" width="7" height="7" fill="#cdebda"/>
<rect x="206" y="158" width="7" height="7" fill="#daf0df"/>
<rect x="212" y="158" width="7" height="7" fill="#e5f5e6"/>
<rect x="218" y="158" width="7" height="7" fill="#f0f9ee"/>
<rect x="224" y="158" width="7" height="7" fill="#f8fcf4"/>
<rect x="230" y="158" width="7" height="7" fill="#fcfef8"/>
<rect x="236" y="158" width="7" height="7" fill="#fdfef9"/>
<rect x="242" y="158" width="7" height="7" fill="#fdfef9"/>
<rect x="248" y="158" width="7" height="7" fill="#fefcf7"/>
<rect x="254" y="158" width="7" height="7" fill="#fefaf5"/>
<rect x="260" y="158" width="7" height="7" fill="#fff7f1"/>
<rect x="266" y="158" width="7" height="7" fill="#fef3ec"/>
<rect x="272" y="158" width="7" height="7" fill="#feeee6"/>
<rect x="278" y="158" width="7" height="7" fill="#fde9e0"/>
<rect x="284" y="158" width="7" height="7" fill="#fce3da"/>
<rect x="290" y="158" width="7" height="7" fill="#fcdcd1"/>
<rect x="296" y="158" width="7" height="7" fill="#fbd3c8"/>
<rect x="302" y="158" width="7" height="7" fill="#fac8be"/>
<rect x="308" y="158" width="7" height="7" fill="#f8bbb2"/>
<rect x="314" y="158" width="7" height="7" fill="#f7aea5"/>
<rect x="320" y="158" width="7" height="7" fill="#f6a199"/>
<rect x="326" y="158" width="7" height="7" fill="#f5938c"/>
<rect x="332" y="158" width="7" height="7" fill="#f58980"/>
<rect x="338" y="158" width="7" height="7" fill="#f48276"/>
<rect x="344" y="158" width="7" height="7" fill="#f47b6e"/>
<rect x="350" y="158" width="7" height="7" fill="#f37367"/>
<rect x="356" y="158" width="7" height="7" fill="#f36b61"/>
<rect x="362" y="158" width="7" height="7" fill="#f2645c"/>
<rect x="368" y="158" width="7" height="7" fill="#f15c57"/>
<rect x="374" y="158" width="7" height="7" fill="#f15452"/>
<rect x="380" y="158" width="7" height="7" fill="#f04b4e"/>
<rect x="386" y="158" width="7" height="7" fill="#f04349"/>
<rect x="392" y="158" width="7" height="7" fill="#ef3c45"/>
<rect x="398" y="158" width="7" height="7" fill="#ef3741"/>
<rect x="404" y="158" width="7" height="7" fill="#ee313e"/>
<rect x="410" y="158" width="7" height="7" fill="#ee2d3c"/>
<rect x="416" y="158" width="7" height="7" fill="#ee293b"/>
<rect x="422" y="158" width="7" height="7" fill="#ee263a"/>
<rect x="428" y="158" width="7" height="7" fill="#ed243a"/>
<rect x="434" y="158" width="7" height="7" fill="#ed213a"/>
<rect x="440" y="158" width="7" height="7" fill="#ed1f39"/>
<rect x="446" y="158" width="7" height="7" fill="#ed1e39"/>
<rect x="452" y="158" width="7" height="7" fill="#ed1d39"/>
<rect x="458" y="158" width="7" height="7" fill="#ed1c39"/>
<rect x="464" y="158" width="7" height="7" fill="#ed1c39"/>
<rect x="470" y="158" width="7" height="7" fill="#ed1c39"/>
<rect x="476" y="158" width="7" height="7" fill="#ed1c39"/>
<rect x="482" y="158" width="7" height="7" fill="#ed1c39"/>
<rect x="488" y="158" width="7" height="7" fill="#ed1b39"/>
<rect x="494" y="158" width="7" height="7" fill="#ed1b39"/>
<rect x="500" y="158" width="7" height="7" fill="#ed1b39"/>
<rect x="506" y="158" width="7" height="7" fill="#ed1b3a"/>
<rect x="512" y="158" width="7" height="7" fill="#ed1c3a"/>
<rect x="518" y="158" width="7" height="7" fill="#ed1c3b"/>
<rect x="524" y="158" width="7" height="7" fill="#ec1c3c"/>
<rect x="530" y="158" width="7" height="7" fill="#ec1c3e"/>
<rect x="536" y="158" width="7" height="7" fill="#ec1c3f"/>
<rect x="542" y="158" width="7" height="7" fill="#eb1c40"/>
<rect x="548" y="158" width="7" height="7" fill="#eb1c41"/>
<rect x="554" y="158" width="7" height="7" fill="#eb1d42"/>
<rect x="86" y="164" width="7" height="7" fill="#6dbba9"/>
<rect x="92" y="164" width="7" height="7" fill="#6ebcac"/>
<rect x="98" y="164" width="7" height="7" fill="#6ebdb0"/>
<rect x="104" y="164" width="7" height="7" fill="#6ebdb5"/>
<rect x="110" y="164" width="7" height="7" fill="#6ebebb"/>
<rect x="116" y="164" width="7" height="7" fill="#6ebfc0"/>
<rect x="122" y="164" width="7" height="7" fill="#6ec0c3"/>
<rect x="128" y="164" width="7" height="7" fill="#6fc1c6"/>
<rect x="134" y="164" width="7" height="7" fill="#71c3ca"/>
<rect x="140" y="164" width="7" height="7" fill="#74c5cd"/>
<rect x="146" y="164" width="7" height="7" fill="#78c7cf"/>
<rect x="152" y="164" width="7" height="7" fill="#7dc9d2"/>
<rect x="158" y="164" width="7" height="7" fill="#82ccd4"/>
<rect x="164" y="164" width="7" height="7" fill="#89cfd7"/>
<rect x="170" y="164" width="7" height="7" fill="#92d3d8"/>
<rect x="176" y="164" width="7" height="7" fill="#9cd7da"/>
<rect x="182" y="164" width="7" height="7" fill="#a8dddb"/>
<rect x="188" y="164" width="7" height="7" fill="#b5e2dd"/>
<rect x="194" y="164" width="7" height="7" fill="#c4e8e1"/>
<rect x="200" y="164" width="7" height="7" fill="#d4efe5"/>
<rect x="206" y="164" width="7" height="7" fill="#e2f4eb"/>
<rect x="212" y="164" width="7" height="7" fill="#edf9f1"/>
<rect x="218" y="164" width="7" height="7" fill="#f8fcf9"/>
<rect x="224" y="164" width="7" height="7" fill="#fffffe"/>
<rect x="230" y="164" width="7" height="7" fill="#fffffe"/>
<rect x="236" y="164" width="7" height="7" fill="#fffffe"/>
<rect x="242" y="164" width="7" height="7" fill="#fffefe"/>
<rect x="248" y="164" width="7" height="7" fill="#fffcfb"/>
<rect x="254" y="164" width="7" height="7" fill="#fff9f7"/>
<rect x="260" y="164" width="7" height="7" fill="#fef5f3"/>
<rect x="266" y="164" width="7" height="7" fill="#fef0ed"/>
<rect x="272" y="164" width="7" height="7" fill="#feebe7"/>
<rect x="278" y="164" width="7" height="7" fill="#fde5e0"/>
<rect x="284" y="164" width="7" height="7" fill="#fcdfd9"/>
<rect x="290" y="164" width="7" height="7" fill="#fbd8d2"/>
<rect x="296" y="164" width="7" height="7" fill="#facfca"/>
<rect x="302" y="164" width="7" height="7" fill="#f9c3bf"/>
<rect x="308" y="164" width="7" height="7" fill="#f7b4b2"/>
<rect x="314" y="164" width="7" height="7" fill="#f6a6a6"/>
<rect x="320" y="164" width="7" height="7" fill="#f59799"/>
<rect x="326" y="164" width="7" height="7" fill="#f3878b"/>
<rect x="332" y="164" width="7" height="7" fill="#f37d80"/>
<rect x="338" y="164" width="7" height="7" fill="#f37676"/>
<rect x="344" y="164" width="7" height="7" fill="#f36f6e"/>
<rect x="350" y="164" width="7" height="7" fill="#f26767"/>
<rect x="356" y="164" width="7" height="7" fill="#f15f5f"/>
<rect x="362" y="164" width="7" height="7" fill="#f15759"/>
<rect x="368" y="164" width="7" height="7" fill="#f05054"/>
<rect x="374" y="164" width="7" height="7" fill="#f04850"/>
<rect x="380" y="164" width="7" height="7" fill="#ef404c"/>
<rect x="386" y="164" width="7" height="7" fill="#ef3848"/>
<rect x="392" y="164" width="7" height="7" fill="#ee3344"/>
<rect x="398" y="164" width="7" height="7" fill="#ee2e41"/>
<rect x="404" y="164" width="7" height="7" fill="#ee2a3e"/>
<rect x="410" y="164" width="7" height="7" fill="#ed273d"/>
<rect x="416" y="164" width="7" height="7" fill="#ed243c"/>
<rect x="422" y="164" width="7" height="7" fill="#ed223b"/>
<rect x="428" y="164" width="7" height="7" fill="#ed203b"/>
<rect x="434" y="164" width="7" height="7" fill="#ed1f3b"/>
<rect x="440" y="164" width="7" height="7" fill="#ed1d3a"/>
<rect x="446" y="164" width="7" height="7" fill="#ed1c3a"/>
<rect x="452" y="164" width="7" height="7" fill="#ed1c3a"/>
<rect x="458" y="164" width="7" height="7" fill="#ed1c3a"/>
<rect x="464" y="164" width="7" height="7" fill="#ed1c3b"/>
<rect x="470" y="164" width="7" height="7" fill="#ed1c3b"/>
<rect x="476" y="164" width="7" height="7" fill="#ed1c3a"/>
<rect x="482" y="164" width="7" height="7" fill="#ed1b3a"/>
<rect x="488" y="164" width="7" height="7" fill="#ed1b3a"/>
<rect x="494" y="164" width="7" height="7" fill="#ed1b3a"/>
<rect x="500" y="164" width="7" height="7" fill="#ed1b3b"/>
<rect x="506" y="164" width="7" height="7" fill="#ed1b3b"/>
<rect x="512" y="164" width="7" height="7" fill="#ec1c3c"/>
<rect x="518" y="164" width="7" height="7" fill="#ec1c3d"/>
<rect x="524" y="164" width="7" height="7" fill="#ec1c3f"/>
<rect x="530" y="164" width="7" height="7" fill="#eb1c40"/>
<rect x="536" y="164" width="7" height="7" fill="#eb1c42"/>
<rect x="542" y="164" width="7" height="7" fill="#eb1c43"/>
<rect x="548" y="164" width="7" height="7" fill="#ea1d44"/>
<rect x="86" y="170" width="7" height="7" fill="#66b8b1"/>
<rect x="92" y="170" width="7" height="7" fill="#66b9b5"/>
<rect x="98" y="170" width="7" height="7" fill="#66baba"/>
<rect x="104" y="170" width="7" height="7" fill="#66bbc0"/>
<rect x="110" y="170" width="7" height="7" fill="#65bbc5"/>
<rect x="116" y="170" width="7" height="7" fill="#65bcc9"/>
<rect x="122" y="170" width="7" height="7" fill="#66bdcc"/>
<rect x="128" y="170" width="7" height="7" fill="#67bfcf"/>
<rect x="134" y="170" width="7" height="7" fill="#6ac1d3"/>
<rect x="140" y="170" width="7" height="7" fill="#6ec3d7"/>
<rect x="146" y="170" width="7" height="7" fill="#73c5d7"/>
<rect x="152" y="170" width="7" height="7" fill="#79c8d9"/>
<rect x="158" y="170" width="7" height="7" fill="#80ccda"/>
<rect x="164" y="170" width="7" height="7" fill="#89d0dc"/>
<rect x="170" y="170" width="7" height="7" fill="#92d4de"/>
<rect x="176" y="170" width="7" height="7" fill="#9dd8e0"/>
<rect x="182" y="170" width="7" height="7" fill="#a8dde2"/>
<rect x="188" y="170" width="7" height="7" fill="#b6e3e4"/>
<rect x="194" y="170" width="7" height="7" fill="#c7eae9"/>
<rect x="200" y="170" width="7" height="7" fill="#daf1ee"/>
<rect x="206" y="170" width="7" height="7" fill="#e9f7f4"/>
<rect x="212" y="170" width="7" height="7" fill="#f3fbf9"/>
<rect x="218" y="170" width="7" height="7" fill="#fbfefd"/>
<rect x="224" y="170" width="7" height="7" fill="#ffffff"/>
<rect x="230" y="170" width="7" height="7" fill="#ffffff"/>
<rect x="236" y="170" width="7" height="7" fill="#ffffff"/>
<rect x="242" y="170" width="7" height="7" fill="#fffdff"/>
<rect x="248" y="170" width="7" height="7" fill="#fffafc"/>
<rect x="254" y="170" width="7" height="7" fill="#fef6f8"/>
<rect x="260" y="170" width="7" height="7" fill="#fef2f3"/>
<rect x="266" y="170" width="7" height="7" fill="#feeded"/>
<rect x="272" y="170" width="7" height="7" fill="#fde7e6"/>
<rect x="278" y="170" width="7" height="7" fill="#fce1de"/>
<rect x="284" y="170" width="7" height="7" fill="#fbdbd8"/>
<rect x="290" y="170" width="7" height="7" fill="#fbd5d2"/>
<rect x="296" y="170" width="7" height="7" fill="#facdcc"/>
<rect x="302" y="170" width="7" height="7" fill="#f8c1c1"/>
<rect x="308" y="170" width="7" height="7" fill="#f7b2b4"/>
<rect x="314" y="170" width="7" height="7" fill="#f6a2a7"/>
<rect x="320" y="170" width="7" height="7" fill="#f5939a"/>
<rect x="326" y="170" width="7" height="7" fill="#f3838c"/>
<rect x="332" y="170" width="7" height="7" fill="#f3767f"/>
<rect x="338" y="170" width="7" height="7" fill="#f26c74"/>
<rect x="344" y="170" width="7" height="7" fill="#f1646c"/>
<rect x="350" y="170" width="7" height="7" fill="#f15b65"/>
<rect x="356" y="170" width="7" height="7" fill="#f0525c"/>
<rect x="362" y="170" width="7" height="7" fill="#f04b56"/>
<rect x="368" y="170" width="7" height="7" fill="#ef4452"/>
<rect x="374" y="170" width="7" height="7" fill="#ef3e4f"/>
<rect x="380" y="170" width="7" height="7" fill="#ef374b"/>
<rect x="386" y="170" width="7" height="7" fill="#ee3046"/>
<rect x="392" y="170" width="7" height="7" fill="#ee2b43"/>
<rect x="398" y="170" width="7" height="7" fill="#ed2741"/>
<rect x="404" y="170" width="7" height="7" fill="#ed243f"/>
<rect x="410" y="170" width="7" height="7" fill="#ed223d"/>
<rect x="416" y="170" width="7" height="7" fill="#ed203d"/>
<rect x="422" y="170" width="7" height="7" fill="#ed1f3c"/>
<rect x="428" y="170" width="7" height="7" fill="#ed1d3c"/>
<rect x="434" y="170" width="7" height="7" fill="#ed1c3b"/>
<rect x="440" y="170" width="7" height="7" fill="#ed1c3b"/>
<rect x="446" y="170" width="7" height="7" fill="#ed1b3a"/>
<rect x="452" y="170" width="7" height="7" fill="#ed1b3b"/>
<rect x="458" y="170" width="7" height="7" fill="#ed1b3b"/>
<rect x="464" y="170" width="7" height="7" fill="#ec1c3d"/>
<rect x="470" y="170" width="7" height="7" fill="#ec1c3d"/>
<rect x="476" y="170" width="7" height="7" fill="#ec1b3c"/>
<rect x="482" y="170" width="7" height="7" fill="#ed1b3b"/>
<rect x="488" y="170" width="7" height="7" fill="#ed1b3b"/>
<rect x="494" y="170" width="7" height="7" fill="#ed1b3c"/>
<rect x="500" y="170" width="7" height="7" fill="#ec1b3c"/>
<rect x="506" y="170" width="7" height="7" fill="#ec1b3e"/>
<rect x="512" y="170" width="7" height="7" fill="#ec1c3f"/>
<rect x="518" y="170" width="7" height="7" fill="#eb1c40"/>
<rect x="524" y="170" width="7" height="7" fill="#eb1c42"/>
<rect x="530" y="170" width="7" height="7" fill="#ea1c44"/>
<rect x="536" y="170" width="7" height="7" fill="#ea1c45"/>
<rect x="542" y="170" width="7" height="7" fill="#ea1d46"/>
<rect x="92" y="176" width="7" height="7" fill="#5fb7bd"/>
<rect x="98" y="176" width="7" height="7" fill="#5eb7c3"/>
<rect x="104" y="176" width="7" height="7" fill="#5db8c9"/>
<rect x="110" y="176" width="7" height="7" fill="#5db9ce"/>
<rect x="116" y="176" width="7" height="7" fill="#5cbad2"/>
<rect x="122" y="176" width="7" height="7" fill="#5dbbd4"/>
<rect x="128" y="176" width="7" height="7" fill="#5fbcd7"/>
<rect x="134" y="176" width="7" height="7" fill="#62bed9"/>
<rect x="140" y="176" width="7" height="7" fill="#67c1db"/>
<rect x="146" y="176" width="7" height="7" fill="#6dc4dd"/>
<rect x="152" y="176" width="7" height="7" fill="#75c7de"/>
<rect x="158" y="176" width="7" height="7" fill="#7ecbdf"/>
<rect x="164" y="176" width="7" height="7" fill="#88d0e1"/>
<rect x="170" y="176" width="7" height="7" fill="#92d4e3"/>
<rect x="176" y="176" width="7" height="7" fill="#9dd9e4"/>
<rect x="182" y="176" width="7" height="7" fill="#a8dde7"/>
<rect x="188" y="176" width="7" height="7" fill="#b5e2e9"/>
<rect x="194" y="176" width="7" height="7" fill="#c8eaee"/>
<rect x="200" y="176" width="7" height="7" fill="#dff3f5"/>
<rect x="206" y="176" width="7" height="7" fill="#eef9fa"/>
<rect x="212" y="176" width="7" height="7" fill="#f6fcfd"/>
<rect x="218" y="176" width="7" height="7" fill="#fbfeff"/>
<rect x="224" y="176" width="7" height="7" fill="#ffffff"/>
<rect x="230" y="176" width="7" height="7" fill="#ffffff"/>
<rect x="236" y="176" width="7" height="7" fill="#fffdff"/>
<rect x="242" y="176" width="7" height="7" fill="#fffbfe"/>
<rect x="248" y="176" width="7" height="7" fill="#fff7fb"/>
<rect x="254" y="176" width="7" height="7" fill="#fef3f7"/>
<rect x="260" y="176" width="7" height="7" fill="#fdeef2"/>
<rect x="266" y="176" width="7" height="7" fill="#fde9ec"/>
<rect x="272" y="176" width="7" height="7" fill="#fce2e4"/>
<rect x="278" y="176" width="7" height="7" fill="#fbdbdc"/>
<rect x="284" y="176" width="7" height="7" fill="#fad5d4"/>
<rect x="290" y="176" width="7" height="7" fill="#fad1d2"/>
<rect x="296" y="176" width="7" height="7" fill="#f9cdcf"/>
<rect x="302" y="176" width="7" height="7" fill="#f8bec3"/>
<rect x="308" y="176" width="7" height="7" fill="#f6afb7"/>
<rect x="314" y="176" width="7" height="7" fill="#f5a0a9"/>
<rect x="320" y="176" width="7" height="7" fill="#f4909b"/>
<rect x="326" y="176" width="7" height="7" fill="#f3818d"/>
<rect x="332" y="176" width="7" height="7" fill="#f2727e"/>
<rect x="338" y="176" width="7" height="7" fill="#f16471"/>
<rect x="344" y="176" width="7" height="7" fill="#f05867"/>
<rect x="350" y="176" width="7" height="7" fill="#f04f5f"/>
<rect x="356" y="176" width="7" height="7" fill="#ef4657"/>
<rect x="362" y="176" width="7" height="7" fill="#ef3f52"/>
<rect x="368" y="176" width="7" height="7" fill="#ee3b50"/>
<rect x="374" y="176" width="7" height="7" fill="#ee374e"/>
<rect x="380" y="176" width="7" height="7" fill="#ee304a"/>
<rect x="386" y="176" width="7" height="7" fill="#ed2946"/>
<rect x="392" y="176" width="7" height="7" fill="#ed2443"/>
<rect x="398" y="176" width="7" height="7" fill="#ed2242"/>
<rect x="404" y="176" width="7" height="7" fill="#ec2041"/>
<rect x="410" y="176" width="7" height="7" fill="#ec1e3f"/>
<rect x="416" y="176" width="7" height="7" fill="#ec1e3f"/>
<rect x="422" y="176" width="7" height="7" fill="#ed1d3e"/>
<rect x="428" y="176" width="7" height="7" fill="#ed1c3c"/>
<rect x="434" y="176" width="7" height="7" fill="#ed1b3c"/>
<rect x="440" y="176" width="7" height="7" fill="#ed1b3b"/>
<rect x="446" y="176" width="7" height="7" fill="#ed1b3c"/>
<rect x="452" y="176" width="7" height="7" fill="#ed1b3c"/>
<rect x="458" y="176" width="7" height="7" fill="#ed1b3d"/>
<rect x="464" y="176" width="7" height="7" fill="#ec1b3e"/>
<rect x="470" y="176" width="7" height="7" fill="#ec1b3e"/>
<rect x="476" y="176" width="7" height="7" fill="#ec1b3d"/>
<rect x="482" y="176" width="7" height="7" fill="#ec1b3d"/>
<rect x="488" y="176" width="7" height="7" fill="#ec1b3d"/>
<rect x="494" y="176" width="7" height="7" fill="#ec1b3e"/>
<rect x="500" y="176" width="7" height="7" fill="#ec1b3f"/>
<rect x="506" y="176" width="7" height="7" fill="#eb1b40"/>
<rect x="512" y="176" width="7" height="7" fill="#eb1c42"/>
<rect x="518" y="176" width="7" height="7" fill="#ea1c44"/>
<rect x="524" y="176" width="7" height="7" fill="#ea1d46"/>
<rect x="530" y="176" width="7" height="7" fill="#ea1d48"/>
<rect x="536" y="176" width="7" height="7" fill="#e91d49"/>
<rect x="92" y="182" width="7" height="7" fill="#57b4c4"/>
<rect x="98" y="182" width="7" height="7" fill="#57b5ca"/>
<rect x="104" y="182" width="7" height="7" fill="#55b6d1"/>
<rect x="110" y="182" width="7" height="7" fill="#54b6d6"/>
<rect x="116" y="182" width="7" height="7" fill="#54b7d9"/>
<rect x="122" y="182" width="7" height="7" fill="#54b8db"/>
<rect x="128" y="182" width="7" height="7" fill="#56badc"/>
<rect x="134" y="182" width="7" height="7" fill="#5abbdd"/>
<rect x="140" y="182" width="7" height="7" fill="#5fbedf"/>
<rect x="146" y="182" width="7" height="7" fill="#67c1e0"/>
<rect x="152" y="182" width="7" height="7" fill="#70c5e1"/>
<rect x="158" y="182" width="7" height="7" fill="#7bcae3"/>
<rect x="164" y="182" width="7" height="7" fill="#86cfe4"/>
<rect x="170" y="182" width="7" height="7" fill="#91d4e6"/>
<rect x="176" y="182" width="7" height="7" fill="#9cd8e8"/>
<rect x="182" y="182" width="7" height="7" fill="#a8ddea"/>
<rect x="188" y="182" width="7" height="7" fill="#b5e2ed"/>
<rect x="194" y="182" width="7" height="7" fill="#c8e9f2"/>
<rect x="200" y="182" width="7" height="7" fill="#dcf1f8"/>
<rect x="206" y="182" width="7" height="7" fill="#ebf7fc"/>
<rect x="212" y="182" width="7" height="7" fill="#f4fafe"/>
<rect x="218" y="182" width="7" height="7" fill="#fafcff"/>
<rect x="224" y="182" width="7" height="7" fill="#fdfeff"/>
<rect x="230" y="182" width="7" height="7" fill="#fefdff"/>
<rect x="236" y="182" width="7" height="7" fill="#fefbfe"/>
<rect x="242" y="182" width="7" height="7" fill="#fef8fc"/>
<rect x="248" y="182" width="7" height="7" fill="#fef4f9"/>
<rect x="254" y="182" width="7" height="7" fill="#fdeff5"/>
<rect x="260" y="182" width="7" height="7" fill="#fceaf0"/>
<rect x="266" y="182" width="7" height="7" fill="#fbe4ea"/>
<rect x="272" y="182" width="7" height="7" fill="#fbdee3"/>
<rect x="278" y="182" width="7" height="7" fill="#fad7dc"/>
<rect x="284" y="182" width="7" height="7" fill="#f9d1d6"/>
<rect x="290" y="182" width="7" height="7" fill="#f8ccd2"/>
<rect x="296" y="182" width="7" height="7" fill="#f7c5cd"/>
<rect x="302" y="182" width="7" height="7" fill="#f6bac4"/>
<rect x="308" y="182" width="7" height="7" fill="#f5acb9"/>
<rect x="314" y="182" width="7" height="7" fill="#f49dab"/>
<rect x="320" y="182" width="7" height="7" fill="#f38e9d"/>
<rect x="326" y="182" width="7" height="7" fill="#f27f8e"/>
<rect x="332" y="182" width="7" height="7" fill="#f16f7f"/>
<rect x="338" y="182" width="7" height="7" fill="#f05d6f"/>
<rect x="344" y="182" width="7" height="7" fill="#ef4f63"/>
<rect x="350" y="182" width="7" height="7" fill="#ee475d"/>
<rect x="356" y="182" width="7" height="7" fill="#ed3c54"/>
<rect x="362" y="182" width="7" height="7" fill="#ed3751"/>
<rect x="368" y="182" width="7" height="7" fill="#ed3551"/>
<rect x="374" y="182" width="7" height="7" fill="#ed314f"/>
<rect x="380" y="182" width="7" height="7" fill="#ed2c4c"/>
<rect x="386" y="182" width="7" height="7" fill="#ec2548"/>
<rect x="392" y="182" width="7" height="7" fill="#ec2045"/>
<rect x="398" y="182" width="7" height="7" fill="#eb2146"/>
<rect x="404" y="182" width="7" height="7" fill="#eb2046"/>
<rect x="410" y="182" width="7" height="7" fill="#eb1f45"/>
<rect x="416" y="182" width="7" height="7" fill="#eb1e43"/>
<rect x="422" y="182" width="7" height="7" fill="#ec1d41"/>
<rect x="428" y="182" width="7" height="7" fill="#ed1b3e"/>
<rect x="434" y="182" width="7" height="7" fill="#ed1b3d"/>
<rect x="440" y="182" width="7" height="7" fill="#ed1b3d"/>
<rect x="446" y="182" width="7" height="7" fill="#ed1b3e"/>
<rect x="452" y="182" width="7" height="7" fill="#ed1b3e"/>
<rect x="458" y="182" width="7" height="7" fill="#ec1b3e"/>
<rect x="464" y="182" width="7" height="7" fill="#ec1b3f"/>
<rect x="470" y="182" width="7" height="7" fill="#ec1b3f"/>
<rect x="476" y="182" width="7" height="7" fill="#ec1b3f"/>
<rect x="482" y="182" width="7" height="7" fill="#ec1b3f"/>
<rect x="488" y="182" width="7" height="7" fill="#ec1b40"/>
<rect x="494" y="182" width="7" height="7" fill="#ec1b40"/>
<rect x="500" y="182" width="7" height="7" fill="#eb1c42"/>
<rect x="506" y="182" width="7" height="7" fill="#eb1c45"/>
<rect x="512" y="182" width="7" height="7" fill="#ea1c47"/>
<rect x="518" y="182" width="7" height="7" fill="#e91d49"/>
<rect x="524" y="182" width="7" height="7" fill="#e91d4b"/>
<rect x="530" y="182" width="7" height="7" fill="#e81d4c"/>
<rect x="536" y="182" width="7" height="7" fill="#e81e4d"/>
<rect x="92" y="188" width="7" height="7" fill="#51b1c9"/>
<rect x="98" y="188" width="7" height="7" fill="#50b2cf"/>
<rect x="104" y="188" width="7" height="7" fill="#4eb3d6"/>
<rect x="110" y="188" width="7" height="7" fill="#4db4dd"/>
<rect x="116" y="188" width="7" height="7" fill="#4bb5de"/>
<rect x="122" y="188" width="7" height="7" fill="#4bb6df"/>
<rect x="128" y="188" width="7" height="7" fill="#4db7e0"/>
<rect x="134" y="188" width="7" height="7" fill="#51b8e0"/>
<rect x="140" y="188" width="7" height="7" fill="#57bae1"/>
<rect x="146" y="188" width="7" height="7" fill="#60bee1"/>
<rect x="152" y="188" width="7" height="7" fill="#6bc2e3"/>
<rect x="158" y="188" width="7" height="7" fill="#78c8e4"/>
<rect x="164" y="188" width="7" height="7" fill="#85cee6"/>
<rect x="170" y="188" width="7" height="7" fill="#90d3e8"/>
<rect x="176" y="188" width="7" height="7" fill="#9bd7ea"/>
<rect x="182" y="188" width="7" height="7" fill="#a6dbec"/>
<rect x="188" y="188" width="7" height="7" fill="#b4e0ef"/>
<rect x="194" y="188" width="7" height="7" fill="#c5e6f4"/>
<rect x="200" y="188" width="7" height="7" fill="#d7edf8"/>
<rect x="206" y="188" width="7" height="7" fill="#e6f3fc"/>
<rect x="212" y="188" width="7" height="7" fill="#f0f7fe"/>
<rect x="218" y="188" width="7" height="7" fill="#f6f9ff"/>
<rect x="224" y="188" width="7" height="7" fill="#fafaff"/>
<rect x="230" y="188" width="7" height="7" fill="#fbf9fe"/>
<rect x="236" y="188" width="7" height="7" fill="#fcf7fd"/>
<rect x="242" y="188" width="7" height="7" fill="#fcf3fa"/>
<rect x="248" y="188" width="7" height="7" fill="#fceff7"/>
<rect x="254" y="188" width="7" height="7" fill="#fbeaf3"/>
<rect x="260" y="188" width="7" height="7" fill="#fae5ee"/>
<rect x="266" y="188" width="7" height="7" fill="#fadfe9"/>
<rect x="272" y="188" width="7" height="7" fill="#f9d9e3"/>
<rect x="278" y="188" width="7" height="7" fill="#f8d3dd"/>
<rect x="284" y="188" width="7" height="7" fill="#f7ccd7"/>
<rect x="290" y="188" width="7" height="7" fill="#f6c5d1"/>
<rect x="296" y="188" width="7" height="7" fill="#f5bdcb"/>
<rect x="302" y="188" width="7" height="7" fill="#f5b3c3"/>
<rect x="308" y="188" width="7" height="7" fill="#f4a8ba"/>
<rect x="314" y="188" width="7" height="7" fill="#f29aad"/>
<rect x="320" y="188" width="7" height="7" fill="#f18b9f"/>
<rect x="326" y="188" width="7" height="7" fill="#f07d91"/>
<rect x="332" y="188" width="7" height="7" fill="#ef6d83"/>
<rect x="338" y="188" width="7" height="7" fill="#ee5e76"/>
<rect x="344" y="188" width="7" height="7" fill="#ed516c"/>
<rect x="350" y="188" width="7" height="7" fill="#ec4865"/>
<rect x="356" y="188" width="7" height="7" fill="#ec3f5d"/>
<rect x="362" y="188" width="7" height="7" fill="#ec3859"/>
<rect x="368" y="188" width="7" height="7" fill="#eb3457"/>
<rect x="374" y="188" width="7" height="7" fill="#eb3055"/>
<rect x="380" y="188" width="7" height="7" fill="#eb2c52"/>
<rect x="386" y="188" width="7" height="7" fill="#eb2750"/>
<rect x="392" y="188" width="7" height="7" fill="#ea244f"/>
<rect x="398" y="188" width="7" height="7" fill="#ea2350"/>
<rect x="404" y="188" width="7" height="7" fill="#e9224f"/>
<rect x="410" y="188" width="7" height="7" fill="#ea214e"/>
<rect x="416" y="188" width="7" height="7" fill="#ea204b"/>
<rect x="422" y="188" width="7" height="7" fill="#eb1e47"/>
<rect x="428" y="188" width="7" height="7" fill="#ec1c42"/>
<rect x="434" y="188" width="7" height="7" fill="#ec1c40"/>
<rect x="440" y="188" width="7" height="7" fill="#ec1c42"/>
<rect x="446" y="188" width="7" height="7" fill="#ec1c43"/>
<rect x="452" y="188" width="7" height="7" fill="#ec1c42"/>
<rect x="458" y="188" width="7" height="7" fill="#ec1c42"/>
<rect x="464" y="188" width="7" height="7" fill="#ec1b41"/>
<rect x="470" y="188" width="7" height="7" fill="#ec1b41"/>
<rect x="476" y="188" width="7" height="7" fill="#ec1b41"/>
<rect x="482" y="188" width="7" height="7" fill="#ec1b43"/>
<rect x="488" y="188" width="7" height="7" fill="#eb1c45"/>
<rect x="494" y="188" width="7" height="7" fill="#eb1c45"/>
<rect x="500" y="188" width="7" height="7" fill="#ea1c47"/>
<rect x="506" y="188" width="7" height="7" fill="#e91d4a"/>
<rect x="512" y="188" width="7" height="7" fill="#e91d4d"/>
<rect x="518" y="188" width="7" height="7" fill="#e81e4f"/>
<rect x="524" y="188" width="7" height="7" fill="#e81e50"/>
<rect x="530" y="188" width="7" height="7" fill="#e71e51"/>
<rect x="92" y="194" width="7" height="7" fill="#4bafcc"/>
<rect x="98" y="194" width="7" height="7" fill="#49afd2"/>
<rect x="104" y="194" width="7" height="7" fill="#48b0d8"/>
<rect x="110" y="194" width="7" height="7" fill="#46b1dd"/>
<rect x="116" y="194" width="7" height="7" fill="#44b2e0"/>
<rect x="122" y="194" width="7" height="7" fill="#44b3e1"/>
<rect x="128" y="194" width="7" height="7" fill="#46b4e1"/>
<rect x="134" y="194" width="7" height="7" fill="#49b4e1"/>
<rect x="140" y="194" width="7" height="7" fill="#4eb6e1"/>
<rect x="146" y="194" width="7" height="7" fill="#58b9e2"/>
<rect x="152" y="194" width="7" height="7" fill="#65bee3"/>
<rect x="158" y="194" width="7" height="7" fill="#74c5e5"/>
<rect x="164" y="194" width="7" height="7" fill="#83cce7"/>
<rect x="170" y="194" width="7" height="7" fill="#8fd1e9"/>
<rect x="176" y="194" width="7" height="7" fill="#99d5eb"/>
<rect x="182" y="194" width="7" height="7" fill="#a1d7ed"/>
<rect x="188" y="194" width="7" height="7" fill="#aedbef"/>
<rect x="194" y="194" width="7" height="7" fill="#c0e1f3"/>
<rect x="200" y="194" width="7" height="7" fill="#d3e8f7"/>
<rect x="206" y="194" width="7" height="7" fill="#e1eefb"/>
<rect x="212" y="194" width="7" height="7" fill="#ebf2fd"/>
<rect x="218" y="194" width="7" height="7" fill="#f1f4fe"/>
<rect x="224" y="194" width="7" height="7" fill="#f5f6fe"/>
<rect x="230" y="194" width="7" height="7" fill="#f7f5fd"/>
<rect x="236" y="194" width="7" height="7" fill="#f9f2fb"/>
<rect x="242" y="194" width="7" height="7" fill="#f9eef8"/>
<rect x="248" y="194" width="7" height="7" fill="#f9e9f4"/>
<rect x="254" y="194" width="7" height="7" fill="#f8e4f0"/>
<rect x="260" y="194" width="7" height="7" fill="#f8dfeb"/>
<rect x="266" y="194" width="7" height="7" fill="#f7d9e6"/>
<rect x="272" y="194" width="7" height="7" fill="#f6d3e1"/>
<rect x="278" y="194" width="7" height="7" fill="#f5cddc"/>
<rect x="284" y="194" width="7" height="7" fill="#f4c6d7"/>
<rect x="290" y="194" width="7" height="7" fill="#f4bed0"/>
<rect x="296" y="194" width="7" height="7" fill="#f3b5c9"/>
<rect x="302" y="194" width="7" height="7" fill="#f2acc1"/>
<rect x="308" y="194" width="7" height="7" fill="#f1a1b9"/>
<rect x="314" y="194" width="7" height="7" fill="#ef94ad"/>
<rect x="320" y="194" width="7" height="7" fill="#ee87a1"/>
<rect x="326" y="194" width="7" height="7" fill="#ed7a95"/>
<rect x="332" y="194" width="7" height="7" fill="#ec6d8a"/>
<rect x="338" y="194" width="7" height="7" fill="#eb6181"/>
<rect x="344" y="194" width="7" height="7" fill="#ea587a"/>
<rect x="350" y="194" width="7" height="7" fill="#ea5074"/>
<rect x="356" y="194" width="7" height="7" fill="#ea466c"/>
<rect x="362" y="194" width="7" height="7" fill="#e93e66"/>
<rect x="368" y="194" width="7" height="7" fill="#e93861"/>
<rect x="374" y="194" width="7" height="7" fill="#ea335d"/>
<rect x="380" y="194" width="7" height="7" fill="#e92f5c"/>
<rect x="386" y="194" width="7" height="7" fill="#e92d5d"/>
<rect x="392" y="194" width="7" height="7" fill="#e82b5d"/>
<rect x="398" y="194" width="7" height="7" fill="#e72a5d"/>
<rect x="404" y="194" width="7" height="7" fill="#e7285b"/>
<rect x="410" y="194" width="7" height="7" fill="#e72559"/>
<rect x="416" y="194" width="7" height="7" fill="#e82456"/>
<rect x="422" y="194" width="7" height="7" fill="#e82252"/>
<rect x="428" y="194" width="7" height="7" fill="#e9204d"/>
<rect x="434" y="194" width="7" height="7" fill="#ea1f4b"/>
<rect x="440" y="194" width="7" height="7" fill="#ea1f4c"/>
<rect x="446" y="194" width="7" height="7" fill="#ea1f4c"/>
<rect x="452" y="194" width="7" height="7" fill="#ea1e4b"/>
<rect x="458" y="194" width="7" height="7" fill="#ea1e49"/>
<rect x="464" y="194" width="7" height="7" fill="#eb1d47"/>
<rect x="470" y="194" width="7" height="7" fill="#eb1c44"/>
<rect x="476" y="194" width="7" height="7" fill="#eb1c45"/>
<rect x="482" y="194" width="7" height="7" fill="#ea1d4a"/>
<rect x="488" y="194" width="7" height="7" fill="#ea1e4d"/>
<rect x="494" y="194" width="7" height="7" fill="#e91e4f"/>
<rect x="500" y="194" width="7" height="7" fill="#e81e51"/>
<rect x="506" y="194" width="7" height="7" fill="#e81e53"/>
<rect x="512" y="194" width="7" height="7" fill="#e71f55"/>
<rect x="518" y="194" width="7" height="7" fill="#e71f56"/>
<rect x="524" y="194" width="7" height="7" fill="#e61f57"/>
<rect x="98" y="200" width="7" height="7" fill="#44add3"/>
<rect x="104" y="200" width="7" height="7" fill="#42add9"/>
<rect x="110" y="200" width="7" height="7" fill="#41aedd"/>
<rect x="116" y="200" width="7" height="7" fill="#40afe0"/>
<rect x="122" y="200" width="7" height="7" fill="#40b0e1"/>
<rect x="128" y="200" width="7" height="7" fill="#41b1e2"/>
<rect x="134" y="200" width="7" height="7" fill="#44b1e2"/>
<rect x="140" y="200" width="7" height="7" fill="#48b2e1"/>
<rect x="146" y="200" width="7" height="7" fill="#51b5e2"/>
<rect x="152" y="200" width="7" height="7" fill="#5db9e3"/>
<rect x="158" y="200" width="7" height="7" fill="#6dc0e5"/>
<rect x="164" y="200" width="7" height="7" fill="#7ec8e7"/>
<rect x="170" y="200" width="7" height="7" fill="#8dcfe9"/>
<rect x="176" y="200" width="7" height="7" fill="#97d3eb"/>
<rect x="182" y="200" width="7" height="7" fill="#9ad2ec"/>
<rect x="188" y="200" width="7" height="7" fill="#a5d4ee"/>
<rect x="194" y="200" width="7" height="7" fill="#badcf2"/>
<rect x="200" y="200" width="7" height="7" fill="#cfe3f6"/>
<rect x="206" y="200" width="7" height="7" fill="#dee9f9"/>
<rect x="212" y="200" width="7" height="7" fill="#e6ecfb"/>
<rect x="218" y="200" width="7" height="7" fill="#eceefb"/>
<rect x="224" y="200" width="7" height="7" fill="#f0f0fc"/>
<rect x="230" y="200" width="7" height="7" fill="#f3f1fb"/>
<rect x="236" y="200" width="7" height="7" fill="#f4ecf8"/>
<rect x="242" y="200" width="7" height="7" fill="#f5e7f4"/>
<rect x="248" y="200" width="7" height="7" fill="#f5e2f0"/>
<rect x="254" y="200" width="7" height="7" fill="#f5ddec"/>
<rect x="260" y="200" width="7" height="7" fill="#f5d7e7"/>
<rect x="266" y="200" width="7" height="7" fill="#f4d1e3"/>
<rect x="272" y="200" width="7" height="7" fill="#f3cbdf"/>
<rect x="278" y="200" width="7" height="7" fill="#f2c6db"/>
<rect x="284" y="200" width="7" height="7" fill="#f1c0d6"/>
<rect x="290" y="200" width="7" height="7" fill="#f0b6cf"/>
<rect x="296" y="200" width="7" height="7" fill="#efadc6"/>
<rect x="302" y="200" width="7" height="7" fill="#eea2be"/>
<rect x="308" y="200" width="7" height="7" fill="#ed98b5"/>
<rect x="314" y="200" width="7" height="7" fill="#eb8dac"/>
<rect x="320" y="200" width="7" height="7" fill="#ea82a3"/>
<rect x="326" y="200" width="7" height="7" fill="#e97799"/>
<rect x="332" y="200" width="7" height="7" fill="#e86d91"/>
<rect x="338" y="200" width="7" height="7" fill="#e7648a"/>
<rect x="344" y="200" width="7" height="7" fill="#e75c85"/>
<rect x="350" y="200" width="7" height="7" fill="#e75681"/>
<rect x="356" y="200" width="7" height="7" fill="#e74d7a"/>
<rect x="362" y="200" width="7" height="7" fill="#e74473"/>
<rect x="368" y="200" width="7" height="7" fill="#e73d6e"/>
<rect x="374" y="200" width="7" height="7" fill="#e7396b"/>
<rect x="380" y="200" width="7" height="7" fill="#e6376a"/>
<rect x="386" y="200" width="7" height="7" fill="#e5376c"/>
<rect x="392" y="200" width="7" height="7" fill="#e4366d"/>
<rect x="398" y="200" width="7" height="7" fill="#e4336c"/>
<rect x="404" y="200" width="7" height="7" fill="#e42f69"/>
<rect x="410" y="200" width="7" height="7" fill="#e42b67"/>
<rect x="416" y="200" width="7" height="7" fill="#e52964"/>
<rect x="422" y="200" width="7" height="7" fill="#e52761"/>
<rect x="428" y="200" width="7" height="7" fill="#e6265d"/>
<rect x="434" y="200" width="7" height="7" fill="#e6245b"/>
<rect x="440" y="200" width="7" height="7" fill="#e7235a"/>
<rect x="446" y="200" width="7" height="7" fill="#e72258"/>
<rect x="452" y="200" width="7" height="7" fill="#e72156"/>
<rect x="458" y="200" width="7" height="7" fill="#e82054"/>
<rect x="464" y="200" width="7" height="7" fill="#e91f51"/>
<rect x="470" y="200" width="7" height="7" fill="#ea1e4d"/>
<rect x="476" y="200" width="7" height="7" fill="#ea1e4e"/>
<rect x="482" y="200" width="7" height="7" fill="#e82054"/>
<rect x="488" y="200" width="7" height="7" fill="#e72159"/>
<rect x="494" y="200" width="7" height="7" fill="#e7215c"/>
<rect x="500" y="200" width="7" height="7" fill="#e6205c"/>
<rect x="506" y="200" width="7" height="7" fill="#e6205d"/>
<rect x="512" y="200" width="7" height="7" fill="#e5215d"/>
<rect x="518" y="200" width="7" height="7" fill="#e5215d"/>
<rect x="98" y="206" width="7" height="7" fill="#3faad4"/>
<rect x="104" y="206" width="7" height="7" fill="#3eaad8"/>
<rect x="110" y="206" width="7" height="7" fill="#3dabdc"/>
<rect x="116" y="206" width="7" height="7" fill="#3cacde"/>
<rect x="122" y="206" width="7" height="7" fill="#3cade0"/>
<rect x="128" y="206" width="7" height="7" fill="#3eaee1"/>
<rect x="134" y="206" width="7" height="7" fill="#40afe1"/>
<rect x="140" y="206" width="7" height="7" fill="#45afe1"/>
<rect x="146" y="206" width="7" height="7" fill="#4bb0e1"/>
<rect x="152" y="206" width="7" height="7" fill="#54b2e2"/>
<rect x="158" y="206" width="7" height="7" fill="#63b9e4"/>
<rect x="164" y="206" width="7" height="7" fill="#76c2e6"/>
<rect x="170" y="206" width="7" height="7" fill="#87cae9"/>
<rect x="176" y="206" width="7" height="7" fill="#93ceea"/>
<rect x="182" y="206" width="7" height="7" fill="#94cceb"/>
<rect x="188" y="206" width="7" height="7" fill="#a0cfed"/>
<rect x="194" y="206" width="7" height="7" fill="#b4d6f0"/>
<rect x="200" y="206" width="7" height="7" fill="#c9ddf4"/>
<rect x="206" y="206" width="7" height="7" fill="#d7e2f6"/>
<rect x="212" y="206" width="7" height="7" fill="#e0e4f7"/>
<rect x="218" y="206" width="7" height="7" fill="#e5e6f8"/>
<rect x="224" y="206" width="7" height="7" fill="#eae8f8"/>
<rect x="230" y="206" width="7" height="7" fill="#ede8f7"/>
<rect x="236" y="206" width="7" height="7" fill="#efe3f3"/>
<rect x="242" y="206" width="7" height="7" fill="#f0deef"/>
<rect x="248" y="206" width="7" height="7" fill="#f0d8eb"/>
<rect x="254" y="206" width="7" height="7" fill="#f1d3e7"/>
<rect x="260" y="206" width="7" height="7" fill="#f0cde2"/>
<rect x="266" y="206" width="7" height="7" fill="#f0c7de"/>
<rect x="272" y="206" width="7" height="7" fill="#efc1da"/>
<rect x="278" y="206" width="7" height="7" fill="#eebcd7"/>
<rect x="284" y="206" width="7" height="7" fill="#eeb6d2"/>
<rect x="290" y="206" width="7" height="7" fill="#ecacca"/>
<rect x="296" y="206" width="7" height="7" fill="#eba2c2"/>
<rect x="302" y="206" width="7" height="7" fill="#ea98ba"/>
<rect x="308" y="206" width="7" height="7" fill="#e98eb2"/>
<rect x="314" y="206" width="7" height="7" fill="#e785aa"/>
<rect x="320" y="206" width="7" height="7" fill="#e57ca3"/>
<rect x="326" y="206" width="7" height="7" fill="#e4739d"/>
<rect x="332" y="206" width="7" height="7" fill="#e36b97"/>
<rect x="338" y="206" width="7" height="7" fill="#e36592"/>
<rect x="344" y="206" width="7" height="7" fill="#e35f8e"/>
<rect x="350" y="206" width="7" height="7" fill="#e3598b"/>
<rect x="356" y="206" width="7" height="7" fill="#e35185"/>
<rect x="362" y="206" width="7" height="7" fill="#e3497f"/>
<rect x="368" y="206" width="7" height="7" fill="#e3437b"/>
<rect x="374" y="206" width="7" height="7" fill="#e33f79"/>
<rect x="380" y="206" width="7" height="7" fill="#e23e7a"/>
<rect x="386" y="206" width="7" height="7" fill="#e0417d"/>
<rect x="392" y="206" width="7" height="7" fill="#df427e"/>
<rect x="398" y="206" width="7" height="7" fill="#e03c7a"/>
<rect x="404" y="206" width="7" height="7" fill="#e03778"/>
<rect x="410" y="206" width="7" height="7" fill="#e13376"/>
<rect x="416" y="206" width="7" height="7" fill="#e13073"/>
<rect x="422" y="206" width="7" height="7" fill="#e12e70"/>
<rect x="428" y="206" width="7" height="7" fill="#e22c6e"/>
<rect x="434" y="206" width="7" height="7" fill="#e22a6c"/>
<rect x="440" y="206" width="7" height="7" fill="#e3296a"/>
<rect x="446" y="206" width="7" height="7" fill="#e42767"/>
<rect x="452" y="206" width="7" height="7" fill="#e52564"/>
<rect x="458" y="206" width="7" height="7" fill="#e52462"/>
<rect x="464" y="206" width="7" height="7" fill="#e6235f"/>
<rect x="470" y="206" width="7" height="7" fill="#e7225c"/>
<rect x="476" y="206" width="7" height="7" fill="#e7225e"/>
<rect x="482" y="206" width="7" height="7" fill="#e62463"/>
<rect x="488" y="206" width="7" height="7" fill="#e52568"/>
<rect x="494" y="206" width="7" height="7" fill="#e4256c"/>
<rect x="500" y="206" width="7" height="7" fill="#e4246b"/>
<rect x="506" y="206" width="7" height="7" fill="#e42469"/>
<rect x="512" y="206" width="7" height="7" fill="#e32367"/>
<rect x="518" y="206" width="7" height="7" fill="#e32366"/>
<rect x="98" y="212" width="7" height="7" fill="#3ba6d3"/>
<rect x="104" y="212" width="7" height="7" fill="#3aa7d7"/>
<rect x="110" y="212" width="7" height="7" fill="#39a8da"/>
<rect x="116" y="212" width="7" height="7" fill="#39a9dd"/>
<rect x="122" y="212" width="7" height="7" fill="#39abdf"/>
<rect x="128" y="212" width="7" height="7" fill="#3bace0"/>
<rect x="134" y="212" width="7" height="7" fill="#3eace1"/>
<rect x="140" y="212" width="7" height="7" fill="#42ade1"/>
<rect x="146" y="212" width="7" height="7" fill="#47ade1"/>
<rect x="152" y="212" width="7" height="7" fill="#4eaee1"/>
<rect x="158" y="212" width="7" height="7" fill="#5cb4e2"/>
<rect x="164" y="212" width="7" height="7" fill="#6cbbe4"/>
<rect x="170" y="212" width="7" height="7" fill="#7bc1e6"/>
<rect x="176" y="212" width="7" height="7" fill="#87c5e8"/>
<rect x="182" y="212" width="7" height="7" fill="#91c6e9"/>
<rect x="188" y="212" width="7" height="7" fill="#9ecaeb"/>
<rect x="194" y="212" width="7" height="7" fill="#afcfee"/>
<rect x="200" y="212" width="7" height="7" fill="#c1d5f1"/>
<rect x="206" y="212" width="7" height="7" fill="#cfd9f3"/>
<rect x="212" y="212" width="7" height="7" fill="#d8dbf4"/>
<rect x="218" y="212" width="7" height="7" fill="#deddf3"/>
<rect x="224" y="212" width="7" height="7" fill="#e3ddf2"/>
<rect x="230" y="212" width="7" height="7" fill="#e6dbf0"/>
<rect x="236" y="212" width="7" height="7" fill="#e8d7ed"/>
<rect x="242" y="212" width="7" height="7" fill="#ead2e9"/>
<rect x="248" y="212" width="7" height="7" fill="#ebcce5"/>
<rect x="254" y="212" width="7" height="7" fill="#ebc7e1"/>
<rect x="260" y="212" width="7" height="7" fill="#ebc1dd"/>
<rect x="266" y="212" width="7" height="7" fill="#ebbbd8"/>
<rect x="272" y="212" width="7" height="7" fill="#ebb5d4"/>
<rect x="278" y="212" width="7" height="7" fill="#eaafd0"/>
<rect x="284" y="212" width="7" height="7" fill="#e9a9cb"/>
<rect x="290" y="212" width="7" height="7" fill="#e8a1c4"/>
<rect x="296" y="212" width="7" height="7" fill="#e798bd"/>
<rect x="302" y="212" width="7" height="7" fill="#e68eb5"/>
<rect x="308" y="212" width="7" height="7" fill="#e485ae"/>
<rect x="314" y="212" width="7" height="7" fill="#e27da8"/>
<rect x="320" y="212" width="7" height="7" fill="#e176a3"/>
<rect x="326" y="212" width="7" height="7" fill="#df709f"/>
<rect x="332" y="212" width="7" height="7" fill="#df6a9b"/>
<rect x="338" y="212" width="7" height="7" fill="#de6498"/>
<rect x="344" y="212" width="7" height="7" fill="#de6095"/>
<rect x="350" y="212" width="7" height="7" fill="#de5c94"/>
<rect x="356" y="212" width="7" height="7" fill="#de548e"/>
<rect x="362" y="212" width="7" height="7" fill="#df4e89"/>
<rect x="368" y="212" width="7" height="7" fill="#df4886"/>
<rect x="374" y="212" width="7" height="7" fill="#df4485"/>
<rect x="380" y="212" width="7" height="7" fill="#df4485"/>
<rect x="386" y="212" width="7" height="7" fill="#dd4687"/>
<rect x="392" y="212" width="7" height="7" fill="#dc4687"/>
<rect x="398" y="212" width="7" height="7" fill="#dc4185"/>
<rect x="404" y="212" width="7" height="7" fill="#dd3d84"/>
<rect x="410" y="212" width="7" height="7" fill="#dd3a84"/>
<rect x="416" y="212" width="7" height="7" fill="#dd3680"/>
<rect x="422" y="212" width="7" height="7" fill="#de347f"/>
<rect x="428" y="212" width="7" height="7" fill="#de327f"/>
<rect x="434" y="212" width="7" height="7" fill="#de307d"/>
<rect x="440" y="212" width="7" height="7" fill="#df2e7a"/>
<rect x="446" y="212" width="7" height="7" fill="#e02d77"/>
<rect x="452" y="212" width="7" height="7" fill="#e12b75"/>
<rect x="458" y="212" width="7" height="7" fill="#e22a71"/>
<rect x="464" y="212" width="7" height="7" fill="#e3286e"/>
<rect x="470" y="212" width="7" height="7" fill="#e3276c"/>
<rect x="476" y="212" width="7" height="7" fill="#e3276d"/>
<rect x="482" y="212" width="7" height="7" fill="#e32872"/>
<rect x="488" y="212" width="7" height="7" fill="#e22977"/>
<rect x="494" y="212" width="7" height="7" fill="#e12a7c"/>
<rect x="500" y="212" width="7" height="7" fill="#e12878"/>
<rect x="506" y="212" width="7" height="7" fill="#e12773"/>
<rect x="512" y="212" width="7" height="7" fill="#e12670"/>
<rect x="104" y="218" width="7" height="7" fill="#37a4d5"/>
<rect x="110" y="218" width="7" height="7" fill="#36a5d8"/>
<rect x="116" y="218" width="7" height="7" fill="#36a6db"/>
<rect x="122" y="218" width="7" height="7" fill="#37a8dd"/>
<rect x="128" y="218" width="7" height="7" fill="#38a9df"/>
<rect x="134" y="218" width="7" height="7" fill="#3ba9df"/>
<rect x="140" y="218" width="7" height="7" fill="#3faadf"/>
<rect x="146" y="218" width="7" height="7" fill="#45abe0"/>
<rect x="152" y="218" width="7" height="7" fill="#4cace0"/>
<rect x="158" y="218" width="7" height="7" fill="#57afe1"/>
<rect x="164" y="218" width="7" height="7" fill="#63b3e2"/>
<rect x="170" y="218" width="7" height="7" fill="#70b8e3"/>
<rect x="176" y="218" width="7" height="7" fill="#7dbbe5"/>
<rect x="182" y="218" width="7" height="7" fill="#8abfe7"/>
<rect x="188" y="218" width="7" height="7" fill="#99c3e9"/>
<rect x="194" y="218" width="7" height="7" fill="#a9c8ec"/>
<rect x="200" y="218" width="7" height="7" fill="#bacdee"/>
<rect x="206" y="218" width="7" height="7" fill="#c7d0ef"/>
<rect x="212" y="218" width="7" height="7" fill="#d0d2ef"/>
<rect x="218" y="218" width="7" height="7" fill="#d6d2ee"/>
<rect x="224" y="218" width="7" height="7" fill="#dbd1ec"/>
<rect x="230" y="218" width="7" height="7" fill="#dfcfea"/>
<rect x="236" y="218" width="7" height="7" fill="#e1cbe7"/>
<rect x="242" y="218" width="7" height="7" fill="#e3c6e3"/>
<rect x="248" y="218" width="7" height="7" fill="#e5c0df"/>
<rect x="254" y="218" width="7" height="7" fill="#e6bada"/>
<rect x="260" y="218" width="7" height="7" fill="#e6b4d6"/>
<rect x="266" y="218" width="7" height="7" fill="#e6aed2"/>
<rect x="272" y="218" width="7" height="7" fill="#e6a9ce"/>
<rect x="278" y="218" width="7" height="7" fill="#e5a2c9"/>
<rect x="284" y="218" width="7" height="7" fill="#e49cc4"/>
<rect x="290" y="218" width="7" height="7" fill="#e495be"/>
<rect x="296" y="218" width="7" height="7" fill="#e28db8"/>
<rect x="302" y="218" width="7" height="7" fill="#e185b2"/>
<rect x="308" y="218" width="7" height="7" fill="#e07dab"/>
<rect x="314" y="218" width="7" height="7" fill="#de77a7"/>
<rect x="320" y="218" width="7" height="7" fill="#dc71a4"/>
<rect x="326" y="218" width="7" height="7" fill="#db6ca1"/>
<rect x="332" y="218" width="7" height="7" fill="#da679e"/>
<rect x="338" y="218" width="7" height="7" fill="#da639b"/>
<rect x="344" y="218" width="7" height="7" fill="#da5f9a"/>
<rect x="350" y="218" width="7" height="7" fill="#da5b97"/>
<rect x="356" y="218" width="7" height="7" fill="#da5694"/>
<rect x="362" y="218" width="7" height="7" fill="#db5090"/>
<rect x="368" y="218" width="7" height="7" fill="#db4c8e"/>
<rect x="374" y="218" width="7" height="7" fill="#db498d"/>
<rect x="380" y="218" width="7" height="7" fill="#db488d"/>
<rect x="386" y="218" width="7" height="7" fill="#da488d"/>
<rect x="392" y="218" width="7" height="7" fill="#d9478d"/>
<rect x="398" y="218" width="7" height="7" fill="#d9448c"/>
<rect x="404" y="218" width="7" height="7" fill="#d9418c"/>
<rect x="410" y="218" width="7" height="7" fill="#da3e8b"/>
<rect x="416" y="218" width="7" height="7" fill="#da3b8a"/>
<rect x="422" y="218" width="7" height="7" fill="#da3989"/>
<rect x="428" y="218" width="7" height="7" fill="#da378a"/>
<rect x="434" y="218" width="7" height="7" fill="#db3589"/>
<rect x="440" y="218" width="7" height="7" fill="#dc3386"/>
<rect x="446" y="218" width="7" height="7" fill="#dc3285"/>
<rect x="452" y="218" width="7" height="7" fill="#dd3186"/>
<rect x="458" y="218" width="7" height="7" fill="#de2f80"/>
<rect x="464" y="218" width="7" height="7" fill="#df2d7c"/>
<rect x="470" y="218" width="7" height="7" fill="#e02c7b"/>
<rect x="476" y="218" width="7" height="7" fill="#e02d7d"/>
<rect x="482" y="218" width="7" height="7" fill="#df2d80"/>
<rect x="488" y="218" width="7" height="7" fill="#df2d82"/>
<rect x="494" y="218" width="7" height="7" fill="#df2c83"/>
<rect x="500" y="218" width="7" height="7" fill="#df2b80"/>
<rect x="506" y="218" width="7" height="7" fill="#df297c"/>
<rect x="104" y="224" width="7" height="7" fill="#33a0d3"/>
<rect x="110" y="224" width="7" height="7" fill="#33a1d6"/>
<rect x="116" y="224" width="7" height="7" fill="#33a2d8"/>
<rect x="122" y="224" width="7" height="7" fill="#34a3da"/>
<rect x="128" y="224" width="7" height="7" fill="#36a4dc"/>
<rect x="134" y="224" width="7" height="7" fill="#39a5dc"/>
<rect x="140" y="224" width="7" height="7" fill="#3da7dd"/>
<rect x="146" y="224" width="7" height="7" fill="#42a7dd"/>
<rect x="152" y="224" width="7" height="7" fill="#49a8de"/>
<rect x="158" y="224" width="7" height="7" fill="#51aadf"/>
<rect x="164" y="224" width="7" height="7" fill="#5bacdf"/>
<rect x="170" y="224" width="7" height="7" fill="#66aee0"/>
<rect x="176" y="224" width="7" height="7" fill="#73b1e1"/>
<rect x="182" y="224" width="7" height="7" fill="#81b6e3"/>
<rect x="188" y="224" width="7" height="7" fill="#91bbe6"/>
<rect x="194" y="224" width="7" height="7" fill="#a2c0e8"/>
<rect x="200" y="224" width="7" height="7" fill="#b3c5eb"/>
<rect x="206" y="224" width="7" height="7" fill="#c0c8ec"/>
<rect x="212" y="224" width="7" height="7" fill="#c8c8eb"/>
<rect x="218" y="224" width="7" height="7" fill="#cec8e9"/>
<rect x="224" y="224" width="7" height="7" fill="#d3c6e6"/>
<rect x="230" y="224" width="7" height="7" fill="#d7c3e3"/>
<rect x="236" y="224" width="7" height="7" fill="#dabfe0"/>
<rect x="242" y="224" width="7" height="7" fill="#ddbadd"/>
<rect x="248" y="224" width="7" height="7" fill="#dfb4d9"/>
<rect x="254" y="224" width="7" height="7" fill="#e0add4"/>
<rect x="260" y="224" width="7" height="7" fill="#e1a7d0"/>
<rect x="266" y="224" width="7" height="7" fill="#e2a3cc"/>
<rect x="272" y="224" width="7" height="7" fill="#e19dc8"/>
<rect x="278" y="224" width="7" height="7" fill="#e196c3"/>
<rect x="284" y="224" width="7" height="7" fill="#e08fbd"/>
<rect x="290" y="224" width="7" height="7" fill="#df8ab9"/>
<rect x="296" y="224" width="7" height="7" fill="#de84b5"/>
<rect x="302" y="224" width="7" height="7" fill="#dd7eb0"/>
<rect x="308" y="224" width="7" height="7" fill="#db78ab"/>
<rect x="314" y="224" width="7" height="7" fill="#d972a7"/>
<rect x="320" y="224" width="7" height="7" fill="#d86da4"/>
<rect x="326" y="224" width="7" height="7" fill="#d669a2"/>
<rect x="332" y="224" width="7" height="7" fill="#d665a0"/>
<rect x="338" y="224" width="7" height="7" fill="#d5619e"/>
<rect x="344" y="224" width="7" height="7" fill="#d55d9c"/>
<rect x="350" y="224" width="7" height="7" fill="#d55a9a"/>
<rect x="356" y="224" width="7" height="7" fill="#d65698"/>
<rect x="362" y="224" width="7" height="7" fill="#d65295"/>
<rect x="368" y="224" width="7" height="7" fill="#d74f93"/>
<rect x="374" y="224" width="7" height="7" fill="#d74d92"/>
<rect x="380" y="224" width="7" height="7" fill="#d74b92"/>
<rect x="386" y="224" width="7" height="7" fill="#d64a92"/>
<rect x="392" y="224" width="7" height="7" fill="#d64992"/>
<rect x="398" y="224" width="7" height="7" fill="#d64691"/>
<rect x="404" y="224" width="7" height="7" fill="#d64491"/>
<rect x="410" y="224" width="7" height="7" fill="#d74190"/>
<rect x="416" y="224" width="7" height="7" fill="#d73f90"/>
<rect x="422" y="224" width="7" height="7" fill="#d73d8f"/>
<rect x="428" y="224" width="7" height="7" fill="#d73b8f"/>
<rect x="434" y="224" width="7" height="7" fill="#d8398e"/>
<rect x="440" y="224" width="7" height="7" fill="#d9378d"/>
<rect x="446" y="224" width="7" height="7" fill="#d9368d"/>
<rect x="452" y="224" width="7" height="7" fill="#da348d"/>
<rect x="458" y="224" width="7" height="7" fill="#db3389"/>
<rect x="464" y="224" width="7" height="7" fill="#dc3187"/>
<rect x="470" y="224" width="7" height="7" fill="#dc3186"/>
<rect x="476" y="224" width="7" height="7" fill="#dc3188"/>
<rect x="482" y="224" width="7" height="7" fill="#dc328c"/>
<rect x="488" y="224" width="7" height="7" fill="#dd308a"/>
<rect x="494" y="224" width="7" height="7" fill="#dd2f88"/>
<rect x="500" y="224" width="7" height="7" fill="#dd2d85"/>
<rect x="104" y="230" width="7" height="7" fill="#319cd1"/>
<rect x="110" y="230" width="7" height="7" fill="#309cd3"/>
<rect x="116" y="230" width="7" height="7" fill="#319dd5"/>
<rect x="122" y="230" width="7" height="7" fill="#319dd7"/>
<rect x="128" y="230" width="7" height="7" fill="#339ed8"/>
<rect x="134" y="230" width="7" height="7" fill="#359ed8"/>
<rect x="140" y="230" width="7" height="7" fill="#399fd9"/>
<rect x="146" y="230" width="7" height="7" fill="#3ea0d9"/>
<rect x="152" y="230" width="7" height="7" fill="#43a1da"/>
<rect x="158" y="230" width="7" height="7" fill="#4ba3db"/>
<rect x="164" y="230" width="7" height="7" fill="#52a2da"/>
<rect x="170" y="230" width="7" height="7" fill="#5ba3db"/>
<rect x="176" y="230" width="7" height="7" fill="#68a7dc"/>
<rect x="182" y="230" width="7" height="7" fill="#77acdf"/>
<rect x="188" y="230" width="7" height="7" fill="#88b1e1"/>
<rect x="194" y="230" width="7" height="7" fill="#9ab7e4"/>
<rect x="200" y="230" width="7" height="7" fill="#abbce7"/>
<rect x="206" y="230" width="7" height="7" fill="#b8bfe8"/>
<rect x="212" y="230" width="7" height="7" fill="#bfbfe6"/>
<rect x="218" y="230" width="7" height="7" fill="#c6bee4"/>
<rect x="224" y="230" width="7" height="7" fill="#cbbbe1"/>
<rect x="230" y="230" width="7" height="7" fill="#cfb8dd"/>
<rect x="236" y="230" width="7" height="7" fill="#d4b5db"/>
<rect x="242" y="230" width="7" height="7" fill="#d7b0d8"/>
<rect x="248" y="230" width="7" height="7" fill="#daaad4"/>
<rect x="254" y="230" width="7" height="7" fill="#dba2ce"/>
<rect x="260" y="230" width="7" height="7" fill="#dc9dcb"/>
<rect x="266" y="230" width="7" height="7" fill="#dd99c7"/>
<rect x="272" y="230" width="7" height="7" fill="#dd94c3"/>
<rect x="278" y="230" width="7" height="7" fill="#dd8dbe"/>
<rect x="284" y="230" width="7" height="7" fill="#db86b8"/>
<rect x="290" y="230" width="7" height="7" fill="#db82b5"/>
<rect x="296" y="230" width="7" height="7" fill="#da7eb2"/>
<rect x="302" y="230" width="7" height="7" fill="#d978ae"/>
<rect x="308" y="230" width="7" height="7" fill="#d773ab"/>
<rect x="314" y="230" width="7" height="7" fill="#d56ea8"/>
<rect x="320" y="230" width="7" height="7" fill="#d36aa5"/>
<rect x="326" y="230" width="7" height="7" fill="#d166a3"/>
<rect x="332" y="230" width="7" height="7" fill="#d162a2"/>
<rect x="338" y="230" width="7" height="7" fill="#d15fa0"/>
<rect x="344" y="230" width="7" height="7" fill="#d15c9e"/>
<rect x="350" y="230" width="7" height="7" fill="#d1599c"/>
<rect x="356" y="230" width="7" height="7" fill="#d2569a"/>
<rect x="362" y="230" width="7" height="7" fill="#d25399"/>
<rect x="368" y="230" width="7" height="7" fill="#d25197"/>
<rect x="374" y="230" width="7" height="7" fill="#d34f96"/>
<rect x="380" y="230" width="7" height="7" fill="#d34d95"/>
<rect x="386" y="230" width="7" height="7" fill="#d34c95"/>
<rect x="392" y="230" width="7" height="7" fill="#d34a95"/>
<rect x="398" y="230" width="7" height="7" fill="#d34895"/>
<rect x="404" y="230" width="7" height="7" fill="#d34695"/>
<rect x="410" y="230" width="7" height="7" fill="#d44494"/>
<rect x="416" y="230" width="7" height="7" fill="#d44294"/>
<rect x="422" y="230" width="7" height="7" fill="#d44093"/>
<rect x="428" y="230" width="7" height="7" fill="#d53f92"/>
<rect x="434" y="230" width="7" height="7" fill="#d53d92"/>
<rect x="440" y="230" width="7" height="7" fill="#d63a91"/>
<rect x="446" y="230" width="7" height="7" fill="#d73990"/>
<rect x="452" y="230" width="7" height="7" fill="#d8378f"/>
<rect x="458" y="230" width="7" height="7" fill="#d9358e"/>
<rect x="464" y="230" width="7" height="7" fill="#d9348d"/>
<rect x="470" y="230" width="7" height="7" fill="#da348d"/>
<rect x="476" y="230" width="7" height="7" fill="#da338e"/>
<rect x="482" y="230" width="7" height="7" fill="#da338f"/>
<rect x="488" y="230" width="7" height="7" fill="#da328e"/>
<rect x="494" y="230" width="7" height="7" fill="#db308c"/>
<rect x="500" y="230" width="7" height="7" fill="#db2f89"/>
<rect x="104" y="236" width="7" height="7" fill="#2e97cf"/>
<rect x="110" y="236" width="7" height="7" fill="#2e97d0"/>
<rect x="116" y="236" width="7" height="7" fill="#2e97d2"/>
<rect x="122" y="236" width="7" height="7" fill="#2f97d3"/>
<rect x="128" y="236" width="7" height="7" fill="#3097d3"/>
<rect x="134" y="236" width="7" height="7" fill="#3196d3"/>
<rect x="140" y="236" width="7" height="7" fill="#3495d3"/>
<rect x="146" y="236" width="7" height="7" fill="#3794d2"/>
<rect x="152" y="236" width="7" height="7" fill="#3c95d3"/>
<rect x="158" y="236" width="7" height="7" fill="#4297d4"/>
<rect x="164" y="236" width="7" height="7" fill="#4997d4"/>
<rect x="170" y="236" width="7" height="7" fill="#4f98d5"/>
<rect x="176" y="236" width="7" height="7" fill="#5d9cd7"/>
<rect x="182" y="236" width="7" height="7" fill="#6da2da"/>
<rect x="188" y="236" width="7" height="7" fill="#7ea8dd"/>
<rect x="194" y="236" width="7" height="7" fill="#8faedf"/>
<rect x="200" y="236" width="7" height="7" fill="#9fb2e1"/>
<rect x="206" y="236" width="7" height="7" fill="#acb5e2"/>
<rect x="212" y="236" width="7" height="7" fill="#b5b6e1"/>
<rect x="218" y="236" width="7" height="7" fill="#bcb5e0"/>
<rect x="224" y="236" width="7" height="7" fill="#c3b3dd"/>
<rect x="230" y="236" width="7" height="7" fill="#c9b0da"/>
<rect x="236" y="236" width="7" height="7" fill="#ceadd7"/>
<rect x="242" y="236" width="7" height="7" fill="#d2a8d4"/>
<rect x="248" y="236" width="7" height="7" fill="#d5a3d0"/>
<rect x="254" y="236" width="7" height="7" fill="#d79dcc"/>
<rect x="260" y="236" width="7" height="7" fill="#d998c8"/>
<rect x="266" y="236" width="7" height="7" fill="#da93c5"/>
<rect x="272" y="236" width="7" height="7" fill="#da8ec0"/>
<rect x="278" y="236" width="7" height="7" fill="#d988bc"/>
<rect x="284" y="236" width="7" height="7" fill="#d982b7"/>
<rect x="290" y="236" width="7" height="7" fill="#d87db4"/>
<rect x="296" y="236" width="7" height="7" fill="#d779b0"/>
<rect x="302" y="236" width="7" height="7" fill="#d574ad"/>
<rect x="308" y="236" width="7" height="7" fill="#d46faa"/>
<rect x="314" y="236" width="7" height="7" fill="#d16ba8"/>
<rect x="320" y="236" width="7" height="7" fill="#cf67a6"/>
<rect x="326" y="236" width="7" height="7" fill="#cd63a4"/>
<rect x="332" y="236" width="7" height="7" fill="#cd60a3"/>
<rect x="338" y="236" width="7" height="7" fill="#cd5da1"/>
<rect x="344" y="236" width="7" height="7" fill="#cd5aa0"/>
<rect x="350" y="236" width="7" height="7" fill="#cd589e"/>
<rect x="356" y="236" width="7" height="7" fill="#ce559d"/>
<rect x="362" y="236" width="7" height="7" fill="#ce539b"/>
<rect x="368" y="236" width="7" height="7" fill="#cf529a"/>
<rect x="374" y="236" width="7" height="7" fill="#cf5099"/>
<rect x="380" y="236" width="7" height="7" fill="#cf4f98"/>
<rect x="386" y="236" width="7" height="7" fill="#d04d98"/>
<rect x="392" y="236" width="7" height="7" fill="#d04b98"/>
<rect x="398" y="236" width="7" height="7" fill="#d04998"/>
<rect x="404" y="236" width="7" height="7" fill="#d14797"/>
<rect x="410" y="236" width="7" height="7" fill="#d14597"/>
<rect x="416" y="236" width="7" height="7" fill="#d14496"/>
<rect x="422" y="236" width="7" height="7" fill="#d24295"/>
<rect x="428" y="236" width="7" height="7" fill="#d24194"/>
<rect x="434" y="236" width="7" height="7" fill="#d33f94"/>
<rect x="440" y="236" width="7" height="7" fill="#d43d93"/>
<rect x="446" y="236" width="7" height="7" fill="#d53b92"/>
<rect x="452" y="236" width="7" height="7" fill="#d63991"/>
<rect x="458" y="236" width="7" height="7" fill="#d73790"/>
<rect x="464" y="236" width="7" height="7" fill="#d73690"/>
<rect x="470" y="236" width="7" height="7" fill="#d83591"/>
<rect x="476" y="236" width="7" height="7" fill="#d83591"/>
<rect x="482" y="236" width="7" height="7" fill="#d83491"/>
<rect x="488" y="236" width="7" height="7" fill="#d93390"/>
<rect x="494" y="236" width="7" height="7" fill="#d9318e"/>
<rect x="110" y="242" width="7" height="7" fill="#2c92cd"/>
<rect x="116" y="242" width="7" height="7" fill="#2c92ce"/>
<rect x="122" y="242" width="7" height="7" fill="#2c91cf"/>
<rect x="128" y="242" width="7" height="7" fill="#2d8fcf"/>
<rect x="134" y="242" width="7" height="7" fill="#2e8dce"/>
<rect x="140" y="242" width="7" height="7" fill="#2e8acd"/>
<rect x="146" y="242" width="7" height="7" fill="#2f87cb"/>
<rect x="152" y="242" width="7" height="7" fill="#3489cc"/>
<rect x="158" y="242" width="7" height="7" fill="#3b8bcd"/>
<rect x="164" y="242" width="7" height="7" fill="#428dce"/>
<rect x="170" y="242" width="7" height="7" fill="#498fd0"/>
<rect x="176" y="242" width="7" height="7" fill="#5593d2"/>
<rect x="182" y="242" width="7" height="7" fill="#6499d5"/>
<rect x="188" y="242" width="7" height="7" fill="#749fd7"/>
<rect x="194" y="242" width="7" height="7" fill="#84a5da"/>
<rect x="200" y="242" width="7" height="7" fill="#93a9dc"/>
<rect x="206" y="242" width="7" height="7" fill="#9facdd"/>
<rect x="212" y="242" width="7" height="7" fill="#aaaddd"/>
<rect x="218" y="242" width="7" height="7" fill="#b3addb"/>
<rect x="224" y="242" width="7" height="7" fill="#bbabd9"/>
<rect x="230" y="242" width="7" height="7" fill="#c2a9d7"/>
<rect x="236" y="242" width="7" height="7" fill="#c8a6d4"/>
<rect x="242" y="242" width="7" height="7" fill="#cda3d2"/>
<rect x="248" y="242" width="7" height="7" fill="#d19ece"/>
<rect x="254" y="242" width="7" height="7" fill="#d499cb"/>
<rect x="260" y="242" width="7" height="7" fill="#d594c7"/>
<rect x="266" y="242" width="7" height="7" fill="#d790c3"/>
<rect x="272" y="242" width="7" height="7" fill="#d78abf"/>
<rect x="278" y="242" width="7" height="7" fill="#d785bb"/>
<rect x="284" y="242" width="7" height="7" fill="#d67fb7"/>
<rect x="290" y="242" width="7" height="7" fill="#d57ab3"/>
<rect x="296" y="242" width="7" height="7" fill="#d475b0"/>
<rect x="302" y="242" width="7" height="7" fill="#d371ad"/>
<rect x="308" y="242" width="7" height="7" fill="#d16caa"/>
<rect x="314" y="242" width="7" height="7" fill="#ce68a8"/>
<rect x="320" y="242" width="7" height="7" fill="#cc65a7"/>
<rect x="326" y="242" width="7" height="7" fill="#cb61a5"/>
<rect x="332" y="242" width="7" height="7" fill="#ca5ea4"/>
<rect x="338" y="242" width="7" height="7" fill="#c95ca3"/>
<rect x="344" y="242" width="7" height="7" fill="#c959a1"/>
<rect x="350" y="242" width="7" height="7" fill="#c957a0"/>
<rect x="356" y="242" width="7" height="7" fill="#ca559f"/>
<rect x="362" y="242" width="7" height="7" fill="#cb539d"/>
<rect x="368" y="242" width="7" height="7" fill="#cb529c"/>
<rect x="374" y="242" width="7" height="7" fill="#cc519b"/>
<rect x="380" y="242" width="7" height="7" fill="#cc4f9a"/>
<rect x="386" y="242" width="7" height="7" fill="#cd4e9a"/>
<rect x="392" y="242" width="7" height="7" fill="#cd4c9a"/>
<rect x="398" y="242" width="7" height="7" fill="#ce4a9a"/>
<rect x="404" y="242" width="7" height="7" fill="#ce4899"/>
<rect x="410" y="242" width="7" height="7" fill="#ce4799"/>
<rect x="416" y="242" width="7" height="7" fill="#cf4598"/>
<rect x="422" y="242" width="7" height="7" fill="#cf4497"/>
<rect x="428" y="242" width="7" height="7" fill="#d04296"/>
<rect x="434" y="242" width="7" height="7" fill="#d14095"/>
<rect x="440" y="242" width="7" height="7" fill="#d23e94"/>
<rect x="446" y="242" width="7" height="7" fill="#d33c93"/>
<rect x="452" y="242" width="7" height="7" fill="#d43a91"/>
<rect x="458" y="242" width="7" height="7" fill="#d53992"/>
<rect x="464" y="242" width="7" height="7" fill="#d53893"/>
<rect x="470" y="242" width="7" height="7" fill="#d63793"/>
<rect x="476" y="242" width="7" height="7" fill="#d63693"/>
<rect x="482" y="242" width="7" height="7" fill="#d63593"/>
<rect x="488" y="242" width="7" height="7" fill="#d73492"/>
<rect x="110" y="248" width="7" height="7" fill="#2a8eca"/>
<rect x="116" y="248" width="7" height="7" fill="#2a8ccb"/>
<rect x="122" y="248" width="7" height="7" fill="#2a8bcb"/>
<rect x="128" y="248" width="7" height="7" fill="#2b89cb"/>
<rect x="134" y="248" width="7" height="7" fill="#2b87ca"/>
<rect x="140" y="248" width="7" height="7" fill="#2b83c8"/>
<rect x="146" y="248" width="7" height="7" fill="#2c80c6"/>
<rect x="152" y="248" width="7" height="7" fill="#3080c7"/>
<rect x="158" y="248" width="7" height="7" fill="#3682c8"/>
<rect x="164" y="248" width="7" height="7" fill="#3d84c9"/>
<rect x="170" y="248" width="7" height="7" fill="#4587cb"/>
<rect x="176" y="248" width="7" height="7" fill="#508bcd"/>
<rect x="182" y="248" width="7" height="7" fill="#5d91cf"/>
<rect x="188" y="248" width="7" height="7" fill="#6b96d2"/>
<rect x="194" y="248" width="7" height="7" fill="#799cd5"/>
<rect x="200" y="248" width="7" height="7" fill="#87a0d7"/>
<rect x="206" y="248" width="7" height="7" fill="#94a3d8"/>
<rect x="212" y="248" width="7" height="7" fill="#9fa4d8"/>
<rect x="218" y="248" width="7" height="7" fill="#aaa5d7"/>
<rect x="224" y="248" width="7" height="7" fill="#b3a5d6"/>
<rect x="230" y="248" width="7" height="7" fill="#bca3d4"/>
<rect x="236" y="248" width="7" height="7" fill="#c3a1d2"/>
<rect x="242" y="248" width="7" height="7" fill="#c99ed0"/>
<rect x="248" y="248" width="7" height="7" fill="#cd9acd"/>
<rect x="254" y="248" width="7" height="7" fill="#d196ca"/>
<rect x="260" y="248" width="7" height="7" fill="#d392c6"/>
<rect x="266" y="248" width="7" height="7" fill="#d48dc3"/>
<rect x="272" y="248" width="7" height="7" fill="#d588bf"/>
<rect x="278" y="248" width="7" height="7" fill="#d583bb"/>
<rect x="284" y="248" width="7" height="7" fill="#d47eb7"/>
<rect x="290" y="248" width="7" height="7" fill="#d378b3"/>
<rect x="296" y="248" width="7" height="7" fill="#d273af"/>
<rect x="302" y="248" width="7" height="7" fill="#d06eac"/>
<rect x="308" y="248" width="7" height="7" fill="#ce6aaa"/>
<rect x="314" y="248" width="7" height="7" fill="#cc66a8"/>
<rect x="320" y="248" width="7" height="7" fill="#ca63a7"/>
<rect x="326" y="248" width="7" height="7" fill="#c960a6"/>
<rect x="332" y="248" width="7" height="7" fill="#c75da5"/>
<rect x="338" y="248" width="7" height="7" fill="#c75aa4"/>
<rect x="344" y="248" width="7" height="7" fill="#c658a3"/>
<rect x="350" y="248" width="7" height="7" fill="#c655a2"/>
<rect x="356" y="248" width="7" height="7" fill="#c754a0"/>
<rect x="362" y="248" width="7" height="7" fill="#c7539f"/>
<rect x="368" y="248" width="7" height="7" fill="#c8529e"/>
<rect x="374" y="248" width="7" height="7" fill="#c9519d"/>
<rect x="380" y="248" width="7" height="7" fill="#c94f9c"/>
<rect x="386" y="248" width="7" height="7" fill="#ca4e9c"/>
<rect x="392" y="248" width="7" height="7" fill="#ca4c9c"/>
<rect x="398" y="248" width="7" height="7" fill="#cb4b9b"/>
<rect x="404" y="248" width="7" height="7" fill="#cc499b"/>
<rect x="410" y="248" width="7" height="7" fill="#cc479a"/>
<rect x="416" y="248" width="7" height="7" fill="#cd4699"/>
<rect x="422" y="248" width="7" height="7" fill="#cd4498"/>
<rect x="428" y="248" width="7" height="7" fill="#ce4397"/>
<rect x="434" y="248" width="7" height="7" fill="#cf4196"/>
<rect x="440" y="248" width="7" height="7" fill="#d03f95"/>
<rect x="446" y="248" width="7" height="7" fill="#d13d94"/>
<rect x="452" y="248" width="7" height="7" fill="#d23b94"/>
<rect x="458" y="248" width="7" height="7" fill="#d33a94"/>
<rect x="464" y="248" width="7" height="7" fill="#d33994"/>
<rect x="470" y="248" width="7" height="7" fill="#d43894"/>
<rect x="476" y="248" width="7" height="7" fill="#d43794"/>
<rect x="482" y="248" width="7" height="7" fill="#d53594"/>
<rect x="116" y="254" width="7" height="7" fill="#2888c8"/>
<rect x="122" y="254" width="7" height="7" fill="#2886c8"/>
<rect x="128" y="254" width="7" height="7" fill="#2984c7"/>
<rect x="134" y="254" width="7" height="7" fill="#2a82c6"/>
<rect x="140" y="254" width="7" height="7" fill="#2a7ec5"/>
<rect x="146" y="254" width="7" height="7" fill="#2b7cc3"/>
<rect x="152" y="254" width="7" height="7" fill="#2e7bc3"/>
<rect x="158" y="254" width="7" height="7" fill="#337bc3"/>
<rect x="164" y="254" width="7" height="7" fill="#397dc4"/>
<rect x="170" y="254" width="7" height="7" fill="#4080c5"/>
<rect x="176" y="254" width="7" height="7" fill="#4a84c8"/>
<rect x="182" y="254" width="7" height="7" fill="#5688ca"/>
<rect x="188" y="254" width="7" height="7" fill="#628ecd"/>
<rect x="194" y="254" width="7" height="7" fill="#6f93d0"/>
<rect x="200" y="254" width="7" height="7" fill="#7c97d2"/>
<rect x="206" y="254" width="7" height="7" fill="#899ad3"/>
<rect x="212" y="254" width="7" height="7" fill="#959dd4"/>
<rect x="218" y="254" width="7" height="7" fill="#a09ed4"/>
<rect x="224" y="254" width="7" height="7" fill="#ac9ed3"/>
<rect x="230" y="254" width="7" height="7" fill="#b69ed2"/>
<rect x="236" y="254" width="7" height="7" fill="#bf9dd0"/>
<rect x="242" y="254" width="7" height="7" fill="#c59bce"/>
<rect x="248" y="254" width="7" height="7" fill="#ca98cc"/>
<rect x="254" y="254" width="7" height="7" fill="#ce94c9"/>
<rect x="260" y="254" width="7" height="7" fill="#d090c6"/>
<rect x="266" y="254" width="7" height="7" fill="#d28cc3"/>
<rect x="272" y="254" width="7" height="7" fill="#d287bf"/>
<rect x="278" y="254" width="7" height="7" fill="#d382bb"/>
<rect x="284" y="254" width="7" height="7" fill="#d27db7"/>
<rect x="290" y="254" width="7" height="7" fill="#d277b3"/>
<rect x="296" y="254" width="7" height="7" fill="#d071af"/>
<rect x="302" y="254" width="7" height="7" fill="#cf6cac"/>
<rect x="308" y="254" width="7" height="7" fill="#cc68a9"/>
<rect x="314" y="254" width="7" height="7" fill="#ca65a9"/>
<rect x="320" y="254" width="7" height="7" fill="#c862a8"/>
<rect x="326" y="254" width="7" height="7" fill="#c75fa7"/>
<rect x="332" y="254" width="7" height="7" fill="#c55da6"/>
<rect x="338" y="254" width="7" height="7" fill="#c45aa5"/>
<rect x="344" y="254" width="7" height="7" fill="#c357a4"/>
<rect x="350" y="254" width="7" height="7" fill="#c355a3"/>
<rect x="356" y="254" width="7" height="7" fill="#c454a2"/>
<rect x="362" y="254" width="7" height="7" fill="#c553a1"/>
<rect x="368" y="254" width="7" height="7" fill="#c552a0"/>
<rect x="374" y="254" width="7" height="7" fill="#c6509f"/>
<rect x="380" y="254" width="7" height="7" fill="#c74f9e"/>
<rect x="386" y="254" width="7" height="7" fill="#c74e9d"/>
<rect x="392" y="254" width="7" height="7" fill="#c84c9d"/>
<rect x="398" y="254" width="7" height="7" fill="#c94b9c"/>
<rect x="404" y="254" width="7" height="7" fill="#c9499c"/>
<rect x="410" y="254" width="7" height="7" fill="#ca489b"/>
<rect x="416" y="254" width="7" height="7" fill="#cb469a"/>
<rect x="422" y="254" width="7" height="7" fill="#cb4499"/>
<rect x="428" y="254" width="7" height="7" fill="#cc4398"/>
<rect x="434" y="254" width="7" height="7" fill="#cd4197"/>
<rect x="440" y="254" width="7" height="7" fill="#ce3f97"/>
<rect x="446" y="254" width="7" height="7" fill="#cf3d96"/>
<rect x="452" y="254" width="7" height="7" fill="#d03c95"/>
<rect x="458" y="254" width="7" height="7" fill="#d13b95"/>
<rect x="464" y="254" width="7" height="7" fill="#d13995"/>
<rect x="470" y="254" width="7" height="7" fill="#d23896"/>
<rect x="476" y="254" width="7" height="7" fill="#d33795"/>
<rect x="482" y="254" width="7" height="7" fill="#d33695"/>
<rect x="116" y="260" width="7" height="7" fill="#2783c5"/>
<rect x="122" y="260" width="7" height="7" fill="#2782c5"/>
<rect x="128" y="260" width="7" height="7" fill="#287fc4"/>
<rect x="134" y="260" width="7" height="7" fill="#297dc3"/>
<rect x="140" y="260" width="7" height="7" fill="#2a7bc2"/>
<rect x="146" y="260" width="7" height="7" fill="#2a78c0"/>
<rect x="152" y="260" width="7" height="7" fill="#2d76bf"/>
<rect x="158" y="260" width="7" height="7" fill="#3075bf"/>
<rect x="164" y="260" width="7" height="7" fill="#3576bf"/>
<rect x="170" y="260" width="7" height="7" fill="#3c78c0"/>
<rect x="176" y="260" width="7" height="7" fill="#447cc3"/>
<rect x="182" y="260" width="7" height="7" fill="#4e81c5"/>
<rect x="188" y="260" width="7" height="7" fill="#5986c8"/>
<rect x="194" y="260" width="7" height="7" fill="#658bcb"/>
<rect x="200" y="260" width="7" height="7" fill="#718fcd"/>
<rect x="206" y="260" width="7" height="7" fill="#7e93cf"/>
<rect x="212" y="260" width="7" height="7" fill="#8a96d0"/>
<rect x="218" y="260" width="7" height="7" fill="#9798d1"/>
<rect x="224" y="260" width="7" height="7" fill="#a499d1"/>
<rect x="230" y="260" width="7" height="7" fill="#b09ad0"/>
<rect x="236" y="260" width="7" height="7" fill="#bb99cf"/>
<rect x="242" y="260" width="7" height="7" fill="#c298cd"/>
<rect x="248" y="260" width="7" height="7" fill="#c795cb"/>
<rect x="254" y="260" width="7" height="7" fill="#cb92c8"/>
<rect x="260" y="260" width="7" height="7" fill="#ce8fc6"/>
<rect x="266" y="260" width="7" height="7" fill="#d08bc3"/>
<rect x="272" y="260" width="7" height="7" fill="#d187c0"/>
<rect x="278" y="260" width="7" height="7" fill="#d182bc"/>
<rect x="284" y="260" width="7" height="7" fill="#d17cb8"/>
<rect x="290" y="260" width="7" height="7" fill="#d076b4"/>
<rect x="296" y="260" width="7" height="7" fill="#cf71b0"/>
<rect x="302" y="260" width="7" height="7" fill="#cd6cad"/>
<rect x="308" y="260" width="7" height="7" fill="#cb68ab"/>
<rect x="314" y="260" width="7" height="7" fill="#c965aa"/>
<rect x="320" y="260" width="7" height="7" fill="#c762a9"/>
<rect x="326" y="260" width="7" height="7" fill="#c55fa8"/>
<rect x="332" y="260" width="7" height="7" fill="#c45ca7"/>
<rect x="338" y="260" width="7" height="7" fill="#c35aa6"/>
<rect x="344" y="260" width="7" height="7" fill="#c257a5"/>
<rect x="350" y="260" width="7" height="7" fill="#c255a4"/>
<rect x="356" y="260" width="7" height="7" fill="#c254a3"/>
<rect x="362" y="260" width="7" height="7" fill="#c353a2"/>
<rect x="368" y="260" width="7" height="7" fill="#c351a1"/>
<rect x="374" y="260" width="7" height="7" fill="#c450a0"/>
<rect x="380" y="260" width="7" height="7" fill="#c44f9f"/>
<rect x="386" y="260" width="7" height="7" fill="#c54e9e"/>
<rect x="392" y="260" width="7" height="7" fill="#c64d9e"/>
<rect x="398" y="260" width="7" height="7" fill="#c64b9d"/>
<rect x="404" y="260" width="7" height="7" fill="#c7499c"/>
<rect x="410" y="260" width="7" height="7" fill="#c8489c"/>
<rect x="416" y="260" width="7" height="7" fill="#c9469b"/>
<rect x="422" y="260" width="7" height="7" fill="#ca449a"/>
<rect x="428" y="260" width="7" height="7" fill="#ca4399"/>
<rect x="434" y="260" width="7" height="7" fill="#cb4198"/>
<rect x="440" y="260" width="7" height="7" fill="#cc3f98"/>
<rect x="446" y="260" width="7" height="7" fill="#cd3e97"/>
<rect x="452" y="260" width="7" height="7" fill="#ce3c97"/>
<rect x="458" y="260" width="7" height="7" fill="#cf3b97"/>
<rect x="464" y="260" width="7" height="7" fill="#d03a96"/>
<rect x="470" y="260" width="7" height="7" fill="#d03996"/>
<rect x="476" y="260" width="7" height="7" fill="#d13896"/>
<rect x="116" y="266" width="7" height="7" fill="#267fc2"/>
<rect x="122" y="266" width="7" height="7" fill="#267dc2"/>
<rect x="128" y="266" width="7" height="7" fill="#277bc1"/>
<rect x="134" y="266" width="7" height="7" fill="#2879c0"/>
<rect x="140" y="266" width="7" height="7" fill="#2876bf"/>
<rect x="146" y="266" width="7" height="7" fill="#2974bd"/>
<rect x="152" y="266" width="7" height="7" fill="#2b72bc"/>
<rect x="158" y="266" width="7" height="7" fill="#2e70bb"/>
<rect x="164" y="266" width="7" height="7" fill="#316fba"/>
<rect x="170" y="266" width="7" height="7" fill="#3771bb"/>
<rect x="176" y="266" width="7" height="7" fill="#3f75be"/>
<rect x="182" y="266" width="7" height="7" fill="#4779c1"/>
<rect x="188" y="266" width="7" height="7" fill="#517ec4"/>
<rect x="194" y="266" width="7" height="7" fill="#5c83c7"/>
<rect x="200" y="266" width="7" height="7" fill="#6787c9"/>
<rect x="206" y="266" width="7" height="7" fill="#738ccb"/>
<rect x="212" y="266" width="7" height="7" fill="#808fcd"/>
<rect x="218" y="266" width="7" height="7" fill="#8d92ce"/>
<rect x="224" y="266" width="7" height="7" fill="#9b94ce"/>
<rect x="230" y="266" width="7" height="7" fill="#aa96ce"/>
<rect x="236" y="266" width="7" height="7" fill="#b796cd"/>
<rect x="242" y="266" width="7" height="7" fill="#bf95cc"/>
<rect x="248" y="266" width="7" height="7" fill="#c493ca"/>
<rect x="254" y="266" width="7" height="7" fill="#c991c8"/>
<rect x="260" y="266" width="7" height="7" fill="#cc8dc5"/>
<rect x="266" y="266" width="7" height="7" fill="#ce8ac3"/>
<rect x="272" y="266" width="7" height="7" fill="#cf86c0"/>
<rect x="278" y="266" width="7" height="7" fill="#d081bc"/>
<rect x="284" y="266" width="7" height="7" fill="#d07bb8"/>
<rect x="290" y="266" width="7" height="7" fill="#cf76b5"/>
<rect x="296" y="266" width="7" height="7" fill="#ce71b1"/>
<rect x="302" y="266" width="7" height="7" fill="#cc6caf"/>
<rect x="308" y="266" width="7" height="7" fill="#ca69ac"/>
<rect x="314" y="266" width="7" height="7" fill="#c765ab"/>
<rect x="320" y="266" width="7" height="7" fill="#c563aa"/>
<rect x="326" y="266" width="7" height="7" fill="#c460a9"/>
<rect x="332" y="266" width="7" height="7" fill="#c35da8"/>
<rect x="338" y="266" width="7" height="7" fill="#c25aa7"/>
<rect x="344" y="266" width="7" height="7" fill="#c158a6"/>
<rect x="350" y="266" width="7" height="7" fill="#c156a4"/>
<rect x="356" y="266" width="7" height="7" fill="#c154a3"/>
<rect x="362" y="266" width="7" height="7" fill="#c153a2"/>
<rect x="368" y="266" width="7" height="7" fill="#c152a2"/>
<rect x="374" y="266" width="7" height="7" fill="#c250a1"/>
<rect x="380" y="266" width="7" height="7" fill="#c24fa0"/>
<rect x="386" y="266" width="7" height="7" fill="#c34e9f"/>
<rect x="392" y="266" width="7" height="7" fill="#c34d9e"/>
<rect x="398" y="266" width="7" height="7" fill="#c44b9e"/>
<rect x="404" y="266" width="7" height="7" fill="#c54a9d"/>
<rect x="410" y="266" width="7" height="7" fill="#c6489c"/>
<rect x="416" y="266" width="7" height="7" fill="#c7469b"/>
<rect x="422" y="266" width="7" height="7" fill="#c8459b"/>
<rect x="428" y="266" width="7" height="7" fill="#c9439a"/>
<rect x="434" y="266" width="7" height="7" fill="#ca4199"/>
<rect x="440" y="266" width="7" height="7" fill="#cb4098"/>
<rect x="446" y="266" width="7" height="7" fill="#cc3e98"/>
<rect x="452" y="266" width="7" height="7" fill="#cc3d98"/>
<rect x="458" y="266" width="7" height="7" fill="#cd3c98"/>
<rect x="464" y="266" width="7" height="7" fill="#ce3a97"/>
<rect x="470" y="266" width="7" height="7" fill="#cf3997"/>
<rect x="122" y="272" width="7" height="7" fill="#257ac0"/>
<rect x="128" y="272" width="7" height="7" fill="#2678bf"/>
<rect x="134" y="272" width="7" height="7" fill="#2675be"/>
<rect x="140" y="272" width="7" height="7" fill="#2773bc"/>
<rect x="146" y="272" width="7" height="7" fill="#2870bb"/>
<rect x="152" y="272" width="7" height="7" fill="#2a6eba"/>
<rect x="158" y="272" width="7" height="7" fill="#2c6cb8"/>
<rect x="164" y="272" width="7" height="7" fill="#2f6bb7"/>
<rect x="170" y="272" width="7" height="7" fill="#336cb8"/>
<rect x="176" y="272" width="7" height="7" fill="#3a6fba"/>
<rect x="182" y="272" width="7" height="7" fill="#4173bd"/>
<rect x="188" y="272" width="7" height="7" fill="#4977c0"/>
<rect x="194" y="272" width="7" height="7" fill="#527cc3"/>
<rect x="200" y="272" width="7" height="7" fill="#5c81c6"/>
<rect x="206" y="272" width="7" height="7" fill="#6885c8"/>
<rect x="212" y="272" width="7" height="7" fill="#7489ca"/>
<rect x="218" y="272" width="7" height="7" fill="#838dcc"/>
<rect x="224" y="272" width="7" height="7" fill="#928fcd"/>
<rect x="230" y="272" width="7" height="7" fill="#a192cd"/>
<rect x="236" y="272" width="7" height="7" fill="#af93cc"/>
<rect x="242" y="272" width="7" height="7" fill="#b993cb"/>
<rect x="248" y="272" width="7" height="7" fill="#c091ca"/>
<rect x="254" y="272" width="7" height="7" fill="#c68fc8"/>
<rect x="260" y="272" width="7" height="7" fill="#ca8cc5"/>
<rect x="266" y="272" width="7" height="7" fill="#cd88c3"/>
<rect x="272" y="272" width="7" height="7" fill="#cf84c0"/>
<rect x="278" y="272" width="7" height="7" fill="#d080bc"/>
<rect x="284" y="272" width="7" height="7" fill="#d07bb9"/>
<rect x="290" y="272" width="7" height="7" fill="#cf76b6"/>
<rect x="296" y="272" width="7" height="7" fill="#ce71b3"/>
<rect x="302" y="272" width="7" height="7" fill="#cc6db0"/>
<rect x="308" y="272" width="7" height="7" fill="#c969ae"/>
<rect x="314" y="272" width="7" height="7" fill="#c666ad"/>
<rect x="320" y="272" width="7" height="7" fill="#c463ac"/>
<rect x="326" y="272" width="7" height="7" fill="#c360aa"/>
<rect x="332" y="272" width="7" height="7" fill="#c25da9"/>
<rect x="338" y="272" width="7" height="7" fill="#c15aa7"/>
<rect x="344" y="272" width="7" height="7" fill="#c158a6"/>
<rect x="350" y="272" width="7" height="7" fill="#c056a5"/>
<rect x="356" y="272" width="7" height="7" fill="#c054a4"/>
<rect x="362" y="272" width="7" height="7" fill="#c053a3"/>
<rect x="368" y="272" width="7" height="7" fill="#c052a2"/>
<rect x="374" y="272" width="7" height="7" fill="#c051a1"/>
<rect x="380" y="272" width="7" height="7" fill="#c04fa0"/>
<rect x="386" y="272" width="7" height="7" fill="#c14ea0"/>
<rect x="392" y="272" width="7" height="7" fill="#c14d9f"/>
<rect x="398" y="272" width="7" height="7" fill="#c24b9e"/>
<rect x="404" y="272" width="7" height="7" fill="#c34a9d"/>
<rect x="410" y="272" width="7" height="7" fill="#c4489d"/>
<rect x="416" y="272" width="7" height="7" fill="#c5469c"/>
<rect x="422" y="272" width="7" height="7" fill="#c6449b"/>
<rect x="428" y="272" width="7" height="7" fill="#c7439a"/>
<rect x="434" y="272" width="7" height="7" fill="#c8419a"/>
<rect x="440" y="272" width="7" height="7" fill="#c94099"/>
<rect x="446" y="272" width="7" height="7" fill="#ca3e99"/>
<rect x="452" y="272" width="7" height="7" fill="#cb3d98"/>
<rect x="458" y="272" width="7" height="7" fill="#cc3c98"/>
<rect x="464" y="272" width="7" height="7" fill="#cd3b98"/>
<rect x="122" y="278" width="7" height="7" fill="#2477be"/>
<rect x="128" y="278" width="7" height="7" fill="#2574bd"/>
<rect x="134" y="278" width="7" height="7" fill="#2672bc"/>
<rect x="140" y="278" width="7" height="7" fill="#2670ba"/>
<rect x="146" y="278" width="7" height="7" fill="#276db9"/>
<rect x="152" y="278" width="7" height="7" fill="#296bb8"/>
<rect x="158" y="278" width="7" height="7" fill="#2a69b6"/>
<rect x="164" y="278" width="7" height="7" fill="#2d68b5"/>
<rect x="170" y="278" width="7" height="7" fill="#3068b5"/>
<rect x="176" y="278" width="7" height="7" fill="#356ab6"/>
<rect x="182" y="278" width="7" height="7" fill="#3b6db9"/>
<rect x="188" y="278" width="7" height="7" fill="#4271bc"/>
<rect x="194" y="278" width="7" height="7" fill="#4a76bf"/>
<rect x="200" y="278" width="7" height="7" fill="#527bc2"/>
<rect x="206" y="278" width="7" height="7" fill="#5c7fc5"/>
<rect x="212" y="278" width="7" height="7" fill="#6984c8"/>
<rect x="218" y="278" width="7" height="7" fill="#7888ca"/>
<rect x="224" y="278" width="7" height="7" fill="#888bcb"/>
<rect x="230" y="278" width="7" height="7" fill="#988ecc"/>
<rect x="236" y="278" width="7" height="7" fill="#a690cb"/>
<rect x="242" y="278" width="7" height="7" fill="#b290cb"/>
<rect x="248" y="278" width="7" height="7" fill="#bc8fc9"/>
<rect x="254" y="278" width="7" height="7" fill="#c38ec7"/>
<rect x="260" y="278" width="7" height="7" fill="#c88bc5"/>
<rect x="266" y="278" width="7" height="7" fill="#cc87c2"/>
<rect x="272" y="278" width="7" height="7" fill="#ce83c0"/>
<rect x="278" y="278" width="7" height="7" fill="#cf7fbc"/>
<rect x="284" y="278" width="7" height="7" fill="#d07ab9"/>
<rect x="290" y="278" width="7" height="7" fill="#cf75b6"/>
<rect x="296" y="278" width="7" height="7" fill="#cd71b4"/>
<rect x="302" y="278" width="7" height="7" fill="#cb6db1"/>
<rect x="308" y="278" width="7" height="7" fill="#c969af"/>
<rect x="314" y="278" width="7" height="7" fill="#c666ae"/>
<rect x="320" y="278" width="7" height="7" fill="#c463ac"/>
<rect x="326" y="278" width="7" height="7" fill="#c360ab"/>
<rect x="332" y="278" width="7" height="7" fill="#c25da9"/>
<rect x="338" y="278" width="7" height="7" fill="#c15ba8"/>
<rect x="344" y="278" width="7" height="7" fill="#c058a7"/>
<rect x="350" y="278" width="7" height="7" fill="#bf56a6"/>
<rect x="356" y="278" width="7" height="7" fill="#bf55a4"/>
<rect x="362" y="278" width="7" height="7" fill="#bf53a3"/>
<rect x="368" y="278" width="7" height="7" fill="#bf52a3"/>
<rect x="374" y="278" width="7" height="7" fill="#be51a2"/>
<rect x="380" y="278" width="7" height="7" fill="#bf4fa1"/>
<rect x="386" y="278" width="7" height="7" fill="#bf4ea0"/>
<rect x="392" y="278" width="7" height="7" fill="#bf4d9f"/>
<rect x="398" y="278" width="7" height="7" fill="#c04b9f"/>
<rect x="404" y="278" width="7" height="7" fill="#c24a9e"/>
<rect x="410" y="278" width="7" height="7" fill="#c3489d"/>
<rect x="416" y="278" width="7" height="7" fill="#c4469c"/>
<rect x="422" y="278" width="7" height="7" fill="#c5449b"/>
<rect x="428" y="278" width="7" height="7" fill="#c6439b"/>
<rect x="434" y="278" width="7" height="7" fill="#c7419a"/>
<rect x="440" y="278" width="7" height="7" fill="#c8409a"/>
<rect x="446" y="278" width="7" height="7" fill="#c93f99"/>
<rect x="452" y="278" width="7" height="7" fill="#ca3d99"/>
<rect x="458" y="278" width="7" height="7" fill="#ca3c99"/>
<rect x="464" y="278" width="7" height="7" fill="#cb3b98"/>
<rect x="128" y="284" width="7" height="7" fill="#2472bb"/>
<rect x="134" y="284" width="7" height="7" fill="#256fba"/>
<rect x="140" y="284" width="7" height="7" fill="#266db9"/>
<rect x="146" y="284" width="7" height="7" fill="#276bb8"/>
<rect x="152" y="284" width="7" height="7" fill="#2869b6"/>
<rect x="158" y="284" width="7" height="7" fill="#2a67b5"/>
<rect x="164" y="284" width="7" height="7" fill="#2b65b4"/>
<rect x="170" y="284" width="7" height="7" fill="#2e64b3"/>
<rect x="176" y="284" width="7" height="7" fill="#3165b3"/>
<rect x="182" y="284" width="7" height="7" fill="#3567b5"/>
<rect x="188" y="284" width="7" height="7" fill="#3b6cb8"/>
<rect x="194" y="284" width="7" height="7" fill="#4270bc"/>
<rect x="200" y="284" width="7" height="7" fill="#4975c0"/>
<rect x="206" y="284" width="7" height="7" fill="#507ac3"/>
<rect x="212" y="284" width="7" height="7" fill="#5d7ec6"/>
<rect x="218" y="284" width="7" height="7" fill="#6d83c8"/>
<rect x="224" y="284" width="7" height="7" fill="#7e87ca"/>
<rect x="230" y="284" width="7" height="7" fill="#8f8bcb"/>
<rect x="236" y="284" width="7" height="7" fill="#9e8dcb"/>
<rect x="242" y="284" width="7" height="7" fill="#ac8eca"/>
<rect x="248" y="284" width="7" height="7" fill="#b78ec9"/>
<rect x="254" y="284" width="7" height="7" fill="#c08cc7"/>
<rect x="260" y="284" width="7" height="7" fill="#c78ac5"/>
<rect x="266" y="284" width="7" height="7" fill="#cb86c2"/>
<rect x="272" y="284" width="7" height="7" fill="#ce82bf"/>
<rect x="278" y="284" width="7" height="7" fill="#cf7ebc"/>
<rect x="284" y="284" width="7" height="7" fill="#d079ba"/>
<rect x="290" y="284" width="7" height="7" fill="#cf75b7"/>
<rect x="296" y="284" width="7" height="7" fill="#cd71b4"/>
<rect x="302" y="284" width="7" height="7" fill="#cb6db2"/>
<rect x="308" y="284" width="7" height="7" fill="#c969b0"/>
<rect x="314" y="284" width="7" height="7" fill="#c766ae"/>
<rect x="320" y="284" width="7" height="7" fill="#c563ad"/>
<rect x="326" y="284" width="7" height="7" fill="#c360ab"/>
<rect x="332" y="284" width="7" height="7" fill="#c25daa"/>
<rect x="338" y="284" width="7" height="7" fill="#c15ba8"/>
<rect x="344" y="284" width="7" height="7" fill="#c059a7"/>
<rect x="350" y="284" width="7" height="7" fill="#bf56a6"/>
<rect x="356" y="284" width="7" height="7" fill="#be55a5"/>
<rect x="362" y="284" width="7" height="7" fill="#be53a4"/>
<rect x="368" y="284" width="7" height="7" fill="#bd52a3"/>
<rect x="374" y="284" width="7" height="7" fill="#bd51a2"/>
<rect x="380" y="284" width="7" height="7" fill="#bd50a1"/>
<rect x="386" y="284" width="7" height="7" fill="#bd4ea0"/>
<rect x="392" y="284" width="7" height="7" fill="#be4da0"/>
<rect x="398" y="284" width="7" height="7" fill="#bf4b9f"/>
<rect x="404" y="284" width="7" height="7" fill="#c04a9e"/>
<rect x="410" y="284" width="7" height="7" fill="#c1489d"/>
<rect x="416" y="284" width="7" height="7" fill="#c3469c"/>
<rect x="422" y="284" width="7" height="7" fill="#c4449b"/>
<rect x="428" y="284" width="7" height="7" fill="#c5439b"/>
<rect x="434" y="284" width="7" height="7" fill="#c6429a"/>
<rect x="440" y="284" width="7" height="7" fill="#c7409a"/>
<rect x="446" y="284" width="7" height="7" fill="#c73f9a"/>
<rect x="452" y="284" width="7" height="7" fill="#c83e9a"/>
<rect x="458" y="284" width="7" height="7" fill="#c93c99"/>
<rect x="128" y="290" width="7" height="7" fill="#246fb9"/>
<rect x="134" y="290" width="7" height="7" fill="#256db9"/>
<rect x="140" y="290" width="7" height="7" fill="#266bb8"/>
<rect x="146" y="290" width="7" height="7" fill="#2769b6"/>
<rect x="152" y="290" width="7" height="7" fill="#2867b5"/>
<rect x="158" y="290" width="7" height="7" fill="#2a65b4"/>
<rect x="164" y="290" width="7" height="7" fill="#2b63b2"/>
<rect x="170" y="290" width="7" height="7" fill="#2c61b1"/>
<rect x="176" y="290" width="7" height="7" fill="#2d60b0"/>
<rect x="182" y="290" width="7" height="7" fill="#3163b2"/>
<rect x="188" y="290" width="7" height="7" fill="#3767b6"/>
<rect x="194" y="290" width="7" height="7" fill="#3c6cb9"/>
<rect x="200" y="290" width="7" height="7" fill="#4271bd"/>
<rect x="206" y="290" width="7" height="7" fill="#4775c1"/>
<rect x="212" y="290" width="7" height="7" fill="#537ac4"/>
<rect x="218" y="290" width="7" height="7" fill="#647fc6"/>
<rect x="224" y="290" width="7" height="7" fill="#7684c8"/>
<rect x="230" y="290" width="7" height="7" fill="#8788ca"/>
<rect x="236" y="290" width="7" height="7" fill="#978bca"/>
<rect x="242" y="290" width="7" height="7" fill="#a78dca"/>
<rect x="248" y="290" width="7" height="7" fill="#b48dc9"/>
<rect x="254" y="290" width="7" height="7" fill="#be8cc7"/>
<rect x="260" y="290" width="7" height="7" fill="#c589c5"/>
<rect x="266" y="290" width="7" height="7" fill="#cb85c2"/>
<rect x="272" y="290" width="7" height="7" fill="#ce80bf"/>
<rect x="278" y="290" width="7" height="7" fill="#cf7cbc"/>
<rect x="284" y="290" width="7" height="7" fill="#d078ba"/>
<rect x="290" y="290" width="7" height="7" fill="#cf74b7"/>
<rect x="296" y="290" width="7" height="7" fill="#ce70b5"/>
<rect x="302" y="290" width="7" height="7" fill="#cc6db2"/>
<rect x="308" y="290" width="7" height="7" fill="#c969b0"/>
<rect x="314" y="290" width="7" height="7" fill="#c766af"/>
<rect x="320" y="290" width="7" height="7" fill="#c563ad"/>
<rect x="326" y="290" width="7" height="7" fill="#c460ab"/>
<rect x="332" y="290" width="7" height="7" fill="#c25daa"/>
<rect x="338" y="290" width="7" height="7" fill="#c15ba8"/>
<rect x="344" y="290" width="7" height="7" fill="#c059a7"/>
<rect x="350" y="290" width="7" height="7" fill="#bf57a6"/>
<rect x="356" y="290" width="7" height="7" fill="#be55a5"/>
<rect x="362" y="290" width="7" height="7" fill="#bd53a4"/>
<rect x="368" y="290" width="7" height="7" fill="#bc52a3"/>
<rect x="374" y="290" width="7" height="7" fill="#bc51a2"/>
<rect x="380" y="290" width="7" height="7" fill="#bb50a1"/>
<rect x="386" y="290" width="7" height="7" fill="#bb4fa0"/>
<rect x="392" y="290" width="7" height="7" fill="#bc4da0"/>
<rect x="398" y="290" width="7" height="7" fill="#bd4c9f"/>
<rect x="404" y="290" width="7" height="7" fill="#be4a9e"/>
<rect x="410" y="290" width="7" height="7" fill="#c0489d"/>
<rect x="416" y="290" width="7" height="7" fill="#c1469c"/>
<rect x="422" y="290" width="7" height="7" fill="#c3449b"/>
<rect x="428" y="290" width="7" height="7" fill="#c4439b"/>
<rect x="434" y="290" width="7" height="7" fill="#c5429b"/>
<rect x="440" y="290" width="7" height="7" fill="#c5409a"/>
<rect x="446" y="290" width="7" height="7" fill="#c63f9a"/>
<rect x="452" y="290" width="7" height="7" fill="#c73e9a"/>
<rect x="134" y="296" width="7" height="7" fill="#256bb7"/>
<rect x="140" y="296" width="7" height="7" fill="#2669b7"/>
<rect x="146" y="296" width="7" height="7" fill="#2868b6"/>
<rect x="152" y="296" width="7" height="7" fill="#2966b5"/>
<rect x="158" y="296" width="7" height="7" fill="#2a64b3"/>
<rect x="164" y="296" width="7" height="7" fill="#2b62b2"/>
<rect x="170" y="296" width="7" height="7" fill="#2b60b0"/>
<rect x="176" y="296" width="7" height="7" fill="#2c5fb0"/>
<rect x="182" y="296" width="7" height="7" fill="#2f61b1"/>
<rect x="188" y="296" width="7" height="7" fill="#3465b4"/>
<rect x="194" y="296" width="7" height="7" fill="#3969b7"/>
<rect x="200" y="296" width="7" height="7" fill="#3e6dbb"/>
<rect x="206" y="296" width="7" height="7" fill="#4571be"/>
<rect x="212" y="296" width="7" height="7" fill="#5076c1"/>
<rect x="218" y="296" width="7" height="7" fill="#5e7bc4"/>
<rect x="224" y="296" width="7" height="7" fill="#6f80c7"/>
<rect x="230" y="296" width="7" height="7" fill="#8085c9"/>
<rect x="236" y="296" width="7" height="7" fill="#9188c9"/>
<rect x="242" y="296" width="7" height="7" fill="#a28bc9"/>
<rect x="248" y="296" width="7" height="7" fill="#b18cc9"/>
<rect x="254" y="296" width="7" height="7" fill="#bc8bc7"/>
<rect x="260" y="296" width="7" height="7" fill="#c487c4"/>
<rect x="266" y="296" width="7" height="7" fill="#ca83c1"/>
<rect x="272" y="296" width="7" height="7" fill="#ce7fbe"/>
<rect x="278" y="296" width="7" height="7" fill="#d07bbc"/>
<rect x="284" y="296" width="7" height="7" fill="#d077b9"/>
<rect x="290" y="296" width="7" height="7" fill="#cf73b7"/>
<rect x="296" y="296" width="7" height="7" fill="#ce70b5"/>
<rect x="302" y="296" width="7" height="7" fill="#cc6cb3"/>
<rect x="308" y="296" width="7" height="7" fill="#ca69b1"/>
<rect x="314" y="296" width="7" height="7" fill="#c766af"/>
<rect x="320" y="296" width="7" height="7" fill="#c563ad"/>
<rect x="326" y="296" width="7" height="7" fill="#c460ab"/>
<rect x="332" y="296" width="7" height="7" fill="#c25daa"/>
<rect x="338" y="296" width="7" height="7" fill="#c15ba8"/>
<rect x="344" y="296" width="7" height="7" fill="#c058a7"/>
<rect x="350" y="296" width="7" height="7" fill="#be56a6"/>
<rect x="356" y="296" width="7" height="7" fill="#bd55a5"/>
<rect x="362" y="296" width="7" height="7" fill="#bc53a4"/>
<rect x="368" y="296" width="7" height="7" fill="#bc52a3"/>
<rect x="374" y="296" width="7" height="7" fill="#bb50a2"/>
<rect x="380" y="296" width="7" height="7" fill="#ba4fa1"/>
<rect x="386" y="296" width="7" height="7" fill="#ba4ea0"/>
<rect x="392" y="296" width="7" height="7" fill="#ba4da0"/>
<rect x="398" y="296" width="7" height="7" fill="#bc4c9f"/>
<rect x="404" y="296" width="7" height="7" fill="#bd4a9e"/>
<rect x="410" y="296" width="7" height="7" fill="#bf489d"/>
<rect x="416" y="296" width="7" height="7" fill="#c0469d"/>
<rect x="422" y="296" width="7" height="7" fill="#c1459c"/>
<rect x="428" y="296" width="7" height="7" fill="#c2439b"/>
<rect x="434" y="296" width="7" height="7" fill="#c3429b"/>
<rect x="440" y="296" width="7" height="7" fill="#c4419b"/>
<rect x="446" y="296" width="7" height="7" fill="#c53f9a"/>
<rect x="134" y="302" width="7" height="7" fill="#256ab6"/>
<rect x="140" y="302" width="7" height="7" fill="#2668b6"/>
<rect x="146" y="302" width="7" height="7" fill="#2867b5"/>
<rect x="152" y="302" width="7" height="7" fill="#2a65b4"/>
<rect x="158" y="302" width="7" height="7" fill="#2c64b3"/>
<rect x="164" y="302" width="7" height="7" fill="#2c62b2"/>
<rect x="170" y="302" width="7" height="7" fill="#2c60b1"/>
<rect x="176" y="302" width="7" height="7" fill="#2d5fb0"/>
<rect x="182" y="302" width="7" height="7" fill="#2f61b1"/>
<rect x="188" y="302" width="7" height="7" fill="#3363b3"/>
<rect x="194" y="302" width="7" height="7" fill="#3766b6"/>
<rect x="200" y="302" width="7" height="7" fill="#3c6ab8"/>
<rect x="206" y="302" width="7" height="7" fill="#436ebc"/>
<rect x="212" y="302" width="7" height="7" fill="#4d72bf"/>
<rect x="218" y="302" width="7" height="7" fill="#5a77c2"/>
<rect x="224" y="302" width="7" height="7" fill="#687cc5"/>
<rect x="230" y="302" width="7" height="7" fill="#7882c8"/>
<rect x="236" y="302" width="7" height="7" fill="#8985c8"/>
<rect x="242" y="302" width="7" height="7" fill="#9b88c8"/>
<rect x="248" y="302" width="7" height="7" fill="#ae8bc8"/>
<rect x="254" y="302" width="7" height="7" fill="#b989c6"/>
<rect x="260" y="302" width="7" height="7" fill="#c185c3"/>
<rect x="266" y="302" width="7" height="7" fill="#c881c0"/>
<rect x="272" y="302" width="7" height="7" fill="#cd7dbe"/>
<rect x="278" y="302" width="7" height="7" fill="#cf79bb"/>
<rect x="284" y="302" width="7" height="7" fill="#cf76b9"/>
<rect x="290" y="302" width="7" height="7" fill="#cf73b7"/>
<rect x="296" y="302" width="7" height="7" fill="#cd6fb5"/>
<rect x="302" y="302" width="7" height="7" fill="#cb6cb3"/>
<rect x="308" y="302" width="7" height="7" fill="#c968b1"/>
<rect x="314" y="302" width="7" height="7" fill="#c765af"/>
<rect x="320" y="302" width="7" height="7" fill="#c562ad"/>
<rect x="326" y="302" width="7" height="7" fill="#c45fab"/>
<rect x="332" y="302" width="7" height="7" fill="#c25daa"/>
<rect x="338" y="302" width="7" height="7" fill="#c15aa8"/>
<rect x="344" y="302" width="7" height="7" fill="#bf58a7"/>
<rect x="350" y="302" width="7" height="7" fill="#be56a6"/>
<rect x="356" y="302" width="7" height="7" fill="#bd54a5"/>
<rect x="362" y="302" width="7" height="7" fill="#bc53a3"/>
<rect x="368" y="302" width="7" height="7" fill="#bb51a2"/>
<rect x="374" y="302" width="7" height="7" fill="#ba50a1"/>
<rect x="380" y="302" width="7" height="7" fill="#ba4fa1"/>
<rect x="386" y="302" width="7" height="7" fill="#ba4ea0"/>
<rect x="392" y="302" width="7" height="7" fill="#ba4d9f"/>
<rect x="398" y="302" width="7" height="7" fill="#bb4b9f"/>
<rect x="404" y="302" width="7" height="7" fill="#bc4a9e"/>
<rect x="410" y="302" width="7" height="7" fill="#be489d"/>
<rect x="416" y="302" width="7" height="7" fill="#bf469d"/>
<rect x="422" y="302" width="7" height="7" fill="#c0459c"/>
<rect x="428" y="302" width="7" height="7" fill="#c1439c"/>
<rect x="434" y="302" width="7" height="7" fill="#c2429b"/>
<rect x="440" y="302" width="7" height="7" fill="#c3419b"/>
<rect x="446" y="302" width="7" height="7" fill="#c43f9b"/>
<rect x="140" y="308" width="7" height="7" fill="#2667b5"/>
<rect x="146" y="308" width="7" height="7" fill="#2866b5"/>
<rect x="152" y="308" width="7" height="7" fill="#2b65b4"/>
<rect x="158" y="308" width="7" height="7" fill="#2d63b4"/>
<rect x="164" y="308" width="7" height="7" fill="#2c61b2"/>
<rect x="170" y="308" width="7" height="7" fill="#2d60b1"/>
<rect x="176" y="308" width="7" height="7" fill="#2d60b0"/>
<rect x="182" y="308" width="7" height="7" fill="#2f60b1"/>
<rect x="188" y="308" width="7" height="7" fill="#3262b2"/>
<rect x="194" y="308" width="7" height="7" fill="#3664b4"/>
<rect x="200" y="308" width="7" height="7" fill="#3b67b6"/>
<rect x="206" y="308" width="7" height="7" fill="#416ab9"/>
<rect x="212" y="308" width="7" height="7" fill="#4a6ebc"/>
<rect x="218" y="308" width="7" height="7" fill="#5572be"/>
<rect x="224" y="308" width="7" height="7" fill="#6277c1"/>
<rect x="230" y="308" width="7" height="7" fill="#707bc3"/>
<rect x="236" y="308" width="7" height="7" fill="#817fc4"/>
<rect x="242" y="308" width="7" height="7" fill="#9282c5"/>
<rect x="248" y="308" width="7" height="7" fill="#a384c5"/>
<rect x="254" y="308" width="7" height="7" fill="#b184c4"/>
<rect x="260" y="308" width="7" height="7" fill="#bb82c2"/>
<rect x="266" y="308" width="7" height="7" fill="#c47ec0"/>
<rect x="272" y="308" width="7" height="7" fill="#ca7bbd"/>
<rect x="278" y="308" width="7" height="7" fill="#cd78bb"/>
<rect x="284" y="308" width="7" height="7" fill="#ce75b9"/>
<rect x="290" y="308" width="7" height="7" fill="#ce72b7"/>
<rect x="296" y="308" width="7" height="7" fill="#cd6eb5"/>
<rect x="302" y="308" width="7" height="7" fill="#cb6bb2"/>
<rect x="308" y="308" width="7" height="7" fill="#c967b0"/>
<rect x="314" y="308" width="7" height="7" fill="#c764af"/>
<rect x="320" y="308" width="7" height="7" fill="#c561ad"/>
<rect x="326" y="308" width="7" height="7" fill="#c45fab"/>
<rect x="332" y="308" width="7" height="7" fill="#c25caa"/>
<rect x="338" y="308" width="7" height="7" fill="#c15aa8"/>
<rect x="344" y="308" width="7" height="7" fill="#bf58a7"/>
<rect x="350" y="308" width="7" height="7" fill="#be56a6"/>
<rect x="356" y="308" width="7" height="7" fill="#bd54a4"/>
<rect x="362" y="308" width="7" height="7" fill="#bc52a3"/>
<rect x="368" y="308" width="7" height="7" fill="#bb51a2"/>
<rect x="374" y="308" width="7" height="7" fill="#ba4fa1"/>
<rect x="380" y="308" width="7" height="7" fill="#b94ea0"/>
<rect x="386" y="308" width="7" height="7" fill="#ba4da0"/>
<rect x="392" y="308" width="7" height="7" fill="#ba4c9f"/>
<rect x="398" y="308" width="7" height="7" fill="#bb4b9f"/>
<rect x="404" y="308" width="7" height="7" fill="#bc499e"/>
<rect x="410" y="308" width="7" height="7" fill="#bd489d"/>
<rect x="416" y="308" width="7" height="7" fill="#be469d"/>
<rect x="422" y="308" width="7" height="7" fill="#bf459c"/>
<rect x="428" y="308" width="7" height="7" fill="#c0439c"/>
<rect x="434" y="308" width="7" height="7" fill="#c1429c"/>
<rect x="440" y="308" width="7" height="7" fill="#c2419b"/>
<rect x="140" y="314" width="7" height="7" fill="#2666b4"/>
<rect x="146" y="314" width="7" height="7" fill="#2864b4"/>
<rect x="152" y="314" width="7" height="7" fill="#2a63b3"/>
<rect x="158" y="314" width="7" height="7" fill="#2c62b3"/>
<rect x="164" y="314" width="7" height="7" fill="#2c61b2"/>
<rect x="170" y="314" width="7" height="7" fill="#2d60b1"/>
<rect x="176" y="314" width="7" height="7" fill="#2e5fb0"/>
<rect x="182" y="314" width="7" height="7" fill="#3060b1"/>
<rect x="188" y="314" width="7" height="7" fill="#3261b1"/>
<rect x="194" y="314" width="7" height="7" fill="#3562b2"/>
<rect x="200" y="314" width="7" height="7" fill="#3a64b4"/>
<rect x="206" y="314" width="7" height="7" fill="#3f67b6"/>
<rect x="212" y="314" width="7" height="7" fill="#466ab8"/>
<rect x="218" y="314" width="7" height="7" fill="#4f6dbb"/>
<rect x="224" y="314" width="7" height="7" fill="#5a71bd"/>
<rect x="230" y="314" width="7" height="7" fill="#6774bf"/>
<rect x="236" y="314" width="7" height="7" fill="#7678c0"/>
<rect x="242" y="314" width="7" height="7" fill="#877bc1"/>
<rect x="248" y="314" width="7" height="7" fill="#987dc1"/>
<rect x="254" y="314" width="7" height="7" fill="#a77ec1"/>
<rect x="260" y="314" width="7" height="7" fill="#b47dc0"/>
<rect x="266" y="314" width="7" height="7" fill="#bf7cbe"/>
<rect x="272" y="314" width="7" height="7" fill="#c779bd"/>
<rect x="278" y="314" width="7" height="7" fill="#cb77bb"/>
<rect x="284" y="314" width="7" height="7" fill="#cd74b9"/>
<rect x="290" y="314" width="7" height="7" fill="#cd71b6"/>
<rect x="296" y="314" width="7" height="7" fill="#cc6db4"/>
<rect x="302" y="314" width="7" height="7" fill="#ca6ab2"/>
<rect x="308" y="314" width="7" height="7" fill="#c866b0"/>
<rect x="314" y="314" width="7" height="7" fill="#c663ae"/>
<rect x="320" y="314" width="7" height="7" fill="#c561ac"/>
<rect x="326" y="314" width="7" height="7" fill="#c35eab"/>
<rect x="332" y="314" width="7" height="7" fill="#c25ca9"/>
<rect x="338" y="314" width="7" height="7" fill="#c059a8"/>
<rect x="344" y="314" width="7" height="7" fill="#bf57a7"/>
<rect x="350" y="314" width="7" height="7" fill="#be55a5"/>
<rect x="356" y="314" width="7" height="7" fill="#bd54a4"/>
<rect x="362" y="314" width="7" height="7" fill="#bb52a3"/>
<rect x="368" y="314" width="7" height="7" fill="#ba50a2"/>
<rect x="374" y="314" width="7" height="7" fill="#b94fa1"/>
<rect x="380" y="314" width="7" height="7" fill="#b94ea0"/>
<rect x="386" y="314" width="7" height="7" fill="#b94d9f"/>
<rect x="392" y="314" width="7" height="7" fill="#ba4c9f"/>
<rect x="398" y="314" width="7" height="7" fill="#bb4a9e"/>
<rect x="404" y="314" width="7" height="7" fill="#bb499e"/>
<rect x="410" y="314" width="7" height="7" fill="#bc489d"/>
<rect x="416" y="314" width="7" height="7" fill="#bd469d"/>
<rect x="422" y="314" width="7" height="7" fill="#be459d"/>
<rect x="428" y="314" width="7" height="7" fill="#bf439c"/>
<rect x="434" y="314" width="7" height="7" fill="#c0429c"/>
<rect x="146" y="320" width="7" height="7" fill="#2863b3"/>
<rect x="152" y="320" width="7" height="7" fill="#2962b2"/>
<rect x="158" y="320" width="7" height="7" fill="#2b61b2"/>
<rect x="164" y="320" width="7" height="7" fill="#2c60b1"/>
<rect x="170" y="320" width="7" height="7" fill="#2d5fb0"/>
<rect x="176" y="320" width="7" height="7" fill="#2e5fb0"/>
<rect x="182" y="320" width="7" height="7" fill="#305fb0"/>
<rect x="188" y="320" width="7" height="7" fill="#325fb0"/>
<rect x="194" y="320" width="7" height="7" fill="#3560b1"/>
<rect x="200" y="320" width="7" height="7" fill="#3862b2"/>
<rect x="206" y="320" width="7" height="7" fill="#3c63b3"/>
<rect x="212" y="320" width="7" height="7" fill="#4165b5"/>
<rect x="218" y="320" width="7" height="7" fill="#4967b7"/>
<rect x="224" y="320" width="7" height="7" fill="#526ab8"/>
<rect x="230" y="320" width="7" height="7" fill="#5d6dba"/>
<rect x="236" y="320" width="7" height="7" fill="#6b70bb"/>
<rect x="242" y="320" width="7" height="7" fill="#7b73bd"/>
<rect x="248" y="320" width="7" height="7" fill="#8c76be"/>
<rect x="254" y="320" width="7" height="7" fill="#9d78be"/>
<rect x="260" y="320" width="7" height="7" fill="#ad79be"/>
<rect x="266" y="320" width="7" height="7" fill="#ba79bd"/>
<rect x="272" y="320" width="7" height="7" fill="#c478bc"/>
<rect x="278" y="320" width="7" height="7" fill="#ca76ba"/>
<rect x="284" y="320" width="7" height="7" fill="#cd73b8"/>
<rect x="290" y="320" width="7" height="7" fill="#cd70b6"/>
<rect x="296" y="320" width="7" height="7" fill="#cb6cb4"/>
<rect x="302" y="320" width="7" height="7" fill="#c968b2"/>
<rect x="308" y="320" width="7" height="7" fill="#c665b0"/>
<rect x="314" y="320" width="7" height="7" fill="#c562ae"/>
<rect x="320" y="320" width="7" height="7" fill="#c460ac"/>
<rect x="326" y="320" width="7" height="7" fill="#c35dab"/>
<rect x="332" y="320" width="7" height="7" fill="#c15ba9"/>
<rect x="338" y="320" width="7" height="7" fill="#c059a8"/>
<rect x="344" y="320" width="7" height="7" fill="#bf57a6"/>
<rect x="350" y="320" width="7" height="7" fill="#be55a5"/>
<rect x="356" y="320" width="7" height="7" fill="#bc53a4"/>
<rect x="362" y="320" width="7" height="7" fill="#bb51a2"/>
<rect x="368" y="320" width="7" height="7" fill="#ba50a1"/>
<rect x="374" y="320" width="7" height="7" fill="#b94ea0"/>
<rect x="380" y="320" width="7" height="7" fill="#b94da0"/>
<rect x="386" y="320" width="7" height="7" fill="#b94c9f"/>
<rect x="392" y="320" width="7" height="7" fill="#ba4b9f"/>
<rect x="398" y="320" width="7" height="7" fill="#ba4a9e"/>
<rect x="404" y="320" width="7" height="7" fill="#bb499e"/>
<rect x="410" y="320" width="7" height="7" fill="#bc489d"/>
<rect x="416" y="320" width="7" height="7" fill="#bd469d"/>
<rect x="422" y="320" width="7" height="7" fill="#be459d"/>
<rect x="428" y="320" width="7" height="7" fill="#be439c"/>
<rect x="146" y="326" width="7" height="7" fill="#2762b2"/>
<rect x="152" y="326" width="7" height="7" fill="#2861b2"/>
<rect x="158" y="326" width="7" height="7" fill="#2a60b1"/>
<rect x="164" y="326" width="7" height="7" fill="#2b5fb0"/>
<rect x="170" y="326" width="7" height="7" fill="#2c5eb0"/>
<rect x="176" y="326" width="7" height="7" fill="#2e5eb0"/>
<rect x="182" y="326" width="7" height="7" fill="#305eaf"/>
<rect x="188" y="326" width="7" height="7" fill="#325eb0"/>
<rect x="194" y="326" width="7" height="7" fill="#345fb0"/>
<rect x="200" y="326" width="7" height="7" fill="#365fb0"/>
<rect x="206" y="326" width="7" height="7" fill="#3960b1"/>
<rect x="212" y="326" width="7" height="7" fill="#3c61b2"/>
<rect x="218" y="326" width="7" height="7" fill="#4262b3"/>
<rect x="224" y="326" width="7" height="7" fill="#4963b4"/>
<rect x="230" y="326" width="7" height="7" fill="#5266b5"/>
<rect x="236" y="326" width="7" height="7" fill="#5e68b7"/>
<rect x="242" y="326" width="7" height="7" fill="#6d6bb8"/>
<rect x="248" y="326" width="7" height="7" fill="#806fba"/>
<rect x="254" y="326" width="7" height="7" fill="#9472bb"/>
<rect x="260" y="326" width="7" height="7" fill="#a675bc"/>
<rect x="266" y="326" width="7" height="7" fill="#b676bc"/>
<rect x="272" y="326" width="7" height="7" fill="#c276bb"/>
<rect x="278" y="326" width="7" height="7" fill="#c974ba"/>
<rect x="284" y="326" width="7" height="7" fill="#cc72b8"/>
<rect x="290" y="326" width="7" height="7" fill="#cc6fb6"/>
<rect x="296" y="326" width="7" height="7" fill="#ca6bb3"/>
<rect x="302" y="326" width="7" height="7" fill="#c767b1"/>
<rect x="308" y="326" width="7" height="7" fill="#c464af"/>
<rect x="314" y="326" width="7" height="7" fill="#c461ad"/>
<rect x="320" y="326" width="7" height="7" fill="#c35fac"/>
<rect x="326" y="326" width="7" height="7" fill="#c25daa"/>
<rect x="332" y="326" width="7" height="7" fill="#c15aa9"/>
<rect x="338" y="326" width="7" height="7" fill="#c058a7"/>
<rect x="344" y="326" width="7" height="7" fill="#bf56a6"/>
<rect x="350" y="326" width="7" height="7" fill="#bd54a5"/>
<rect x="356" y="326" width="7" height="7" fill="#bc53a3"/>
<rect x="362" y="326" width="7" height="7" fill="#bb51a2"/>
<rect x="368" y="326" width="7" height="7" fill="#ba4fa1"/>
<rect x="374" y="326" width="7" height="7" fill="#ba4ea0"/>
<rect x="380" y="326" width="7" height="7" fill="#b94da0"/>
<rect x="386" y="326" width="7" height="7" fill="#b94c9f"/>
<rect x="392" y="326" width="7" height="7" fill="#ba4b9f"/>
<rect x="398" y="326" width="7" height="7" fill="#ba4a9e"/>
<rect x="404" y="326" width="7" height="7" fill="#bb499e"/>
<rect x="410" y="326" width="7" height="7" fill="#bc479d"/>
<rect x="416" y="326" width="7" height="7" fill="#bc469d"/>
<rect x="422" y="326" width="7" height="7" fill="#bd459d"/>
<rect x="428" y="326" width="7" height="7" fill="#be439c"/>
<rect x="152" y="332" width="7" height="7" fill="#2860b1"/>
<rect x="158" y="332" width="7" height="7" fill="#295fb0"/>
<rect x="164" y="332" width="7" height="7" fill="#2b5eb0"/>
<rect x="170" y="332" width="7" height="7" fill="#2c5eaf"/>
<rect x="176" y="332" width="7" height="7" fill="#2e5daf"/>
<rect x="182" y="332" width="7" height="7" fill="#305daf"/>
<rect x="188" y="332" width="7" height="7" fill="#325daf"/>
<rect x="194" y="332" width="7" height="7" fill="#335daf"/>
<rect x="200" y="332" width="7" height="7" fill="#345daf"/>
<rect x="206" y="332" width="7" height="7" fill="#365daf"/>
<rect x="212" y="332" width="7" height="7" fill="#385daf"/>
<rect x="218" y="332" width="7" height="7" fill="#3b5caf"/>
<rect x="224" y="332" width="7" height="7" fill="#405db0"/>
<rect x="230" y="332" width="7" height="7" fill="#485fb1"/>
<rect x="236" y="332" width="7" height="7" fill="#5161b2"/>
<rect x="242" y="332" width="7" height="7" fill="#5f63b4"/>
<rect x="248" y="332" width="7" height="7" fill="#7368b6"/>
<rect x="254" y="332" width="7" height="7" fill="#8a6eb9"/>
<rect x="260" y="332" width="7" height="7" fill="#a072bb"/>
<rect x="266" y="332" width="7" height="7" fill="#b374bb"/>
<rect x="272" y="332" width="7" height="7" fill="#c174ba"/>
<rect x="278" y="332" width="7" height="7" fill="#ca73b9"/>
<rect x="284" y="332" width="7" height="7" fill="#cb71b7"/>
<rect x="290" y="332" width="7" height="7" fill="#cb6db5"/>
<rect x="296" y="332" width="7" height="7" fill="#c96ab3"/>
<rect x="302" y="332" width="7" height="7" fill="#c767b1"/>
<rect x="308" y="332" width="7" height="7" fill="#c563af"/>
<rect x="314" y="332" width="7" height="7" fill="#c461ad"/>
<rect x="320" y="332" width="7" height="7" fill="#c35eab"/>
<rect x="326" y="332" width="7" height="7" fill="#c25caa"/>
<rect x="332" y="332" width="7" height="7" fill="#c15aa8"/>
<rect x="338" y="332" width="7" height="7" fill="#c058a7"/>
<rect x="344" y="332" width="7" height="7" fill="#be56a5"/>
<rect x="350" y="332" width="7" height="7" fill="#bd54a4"/>
<rect x="356" y="332" width="7" height="7" fill="#bc52a3"/>
<rect x="362" y="332" width="7" height="7" fill="#bb51a2"/>
<rect x="368" y="332" width="7" height="7" fill="#ba4fa1"/>
<rect x="374" y="332" width="7" height="7" fill="#ba4ea0"/>
<rect x="380" y="332" width="7" height="7" fill="#ba4d9f"/>
<rect x="386" y="332" width="7" height="7" fill="#ba4c9f"/>
<rect x="392" y="332" width="7" height="7" fill="#ba4b9e"/>
<rect x="398" y="332" width="7" height="7" fill="#ba4a9e"/>
<rect x="404" y="332" width="7" height="7" fill="#bb499e"/>
<rect x="410" y="332" width="7" height="7" fill="#bb479d"/>
<rect x="416" y="332" width="7" height="7" fill="#bc469d"/>
<rect x="422" y="332" width="7" height="7" fill="#bc459d"/>
<rect x="152" y="338" width="7" height="7" fill="#275fb0"/>
<rect x="158" y="338" width="7" height="7" fill="#295eaf"/>
<rect x="164" y="338" width="7" height="7" fill="#2a5daf"/>
<rect x="170" y="338" width="7" height="7" fill="#2c5daf"/>
<rect x="176" y="338" width="7" height="7" fill="#2e5cae"/>
<rect x="182" y="338" width="7" height="7" fill="#305cae"/>
<rect x="188" y="338" width="7" height="7" fill="#325cae"/>
<rect x="194" y="338" width="7" height="7" fill="#325bae"/>
<rect x="200" y="338" width="7" height="7" fill="#325bad"/>
<rect x="206" y="338" width="7" height="7" fill="#335aad"/>
<rect x="212" y="338" width="7" height="7" fill="#3459ad"/>
<rect x="218" y="338" width="7" height="7" fill="#3558ac"/>
<rect x="224" y="338" width="7" height="7" fill="#3858ac"/>
<rect x="230" y="338" width="7" height="7" fill="#3f5aae"/>
<rect x="236" y="338" width="7" height="7" fill="#465aaf"/>
<rect x="242" y="338" width="7" height="7" fill="#4e5bb0"/>
<rect x="248" y="338" width="7" height="7" fill="#6762b3"/>
<rect x="254" y="338" width="7" height="7" fill="#8169b7"/>
<rect x="260" y="338" width="7" height="7" fill="#9a6fb9"/>
<rect x="266" y="338" width="7" height="7" fill="#ad71b9"/>
<rect x="272" y="338" width="7" height="7" fill="#c073b9"/>
<rect x="278" y="338" width="7" height="7" fill="#c972b8"/>
<rect x="284" y="338" width="7" height="7" fill="#c96fb6"/>
<rect x="290" y="338" width="7" height="7" fill="#c86cb4"/>
<rect x="296" y="338" width="7" height="7" fill="#c769b2"/>
<rect x="302" y="338" width="7" height="7" fill="#c666b0"/>
<rect x="308" y="338" width="7" height="7" fill="#c563ae"/>
<rect x="314" y="338" width="7" height="7" fill="#c460ac"/>
<rect x="320" y="338" width="7" height="7" fill="#c35eab"/>
<rect x="326" y="338" width="7" height="7" fill="#c25ba9"/>
<rect x="332" y="338" width="7" height="7" fill="#c059a8"/>
<rect x="338" y="338" width="7" height="7" fill="#bf57a6"/>
<rect x="344" y="338" width="7" height="7" fill="#be55a5"/>
<rect x="350" y="338" width="7" height="7" fill="#bd53a4"/>
<rect x="356" y="338" width="7" height="7" fill="#bc52a3"/>
<rect x="362" y="338" width="7" height="7" fill="#bb50a2"/>
<rect x="368" y="338" width="7" height="7" fill="#ba4fa1"/>
<rect x="374" y="338" width="7" height="7" fill="#ba4ea0"/>
<rect x="380" y="338" width="7" height="7" fill="#ba4d9f"/>
<rect x="386" y="338" width="7" height="7" fill="#ba4c9f"/>
<rect x="392" y="338" width="7" height="7" fill="#ba4b9e"/>
<rect x="398" y="338" width="7" height="7" fill="#ba4a9e"/>
<rect x="404" y="338" width="7" height="7" fill="#ba489e"/>
<rect x="410" y="338" width="7" height="7" fill="#bb479d"/>
<rect x="416" y="338" width="7" height="7" fill="#bb469d"/>
<rect x="158" y="344" width="7" height="7" fill="#285daf"/>
<rect x="164" y="344" width="7" height="7" fill="#2a5dae"/>
<rect x="170" y="344" width="7" height="7" fill="#2b5cae"/>
<rect x="176" y="344" width="7" height="7" fill="#2d5bae"/>
<rect x="182" y="344" width="7" height="7" fill="#2f5bad"/>
<rect x="188" y="344" width="7" height="7" fill="#315bad"/>
<rect x="194" y="344" width="7" height="7" fill="#315aad"/>
<rect x="200" y="344" width="7" height="7" fill="#3159ac"/>
<rect x="206" y="344" width="7" height="7" fill="#3158ac"/>
<rect x="212" y="344" width="7" height="7" fill="#3257ab"/>
<rect x="218" y="344" width="7" height="7" fill="#3356ab"/>
<rect x="224" y="344" width="7" height="7" fill="#3656ab"/>
<rect x="230" y="344" width="7" height="7" fill="#3b57ac"/>
<rect x="236" y="344" width="7" height="7" fill="#4158ad"/>
<rect x="242" y="344" width="7" height="7" fill="#4c5aae"/>
<rect x="248" y="344" width="7" height="7" fill="#605fb1"/>
<rect x="254" y="344" width="7" height="7" fill="#7865b4"/>
<rect x="260" y="344" width="7" height="7" fill="#8e6ab6"/>
<rect x="266" y="344" width="7" height="7" fill="#a26db7"/>
<rect x="272" y="344" width="7" height="7" fill="#b36eb7"/>
<rect x="278" y="344" width="7" height="7" fill="#be6eb7"/>
<rect x="284" y="344" width="7" height="7" fill="#c16cb5"/>
<rect x="290" y="344" width="7" height="7" fill="#c36ab3"/>
<rect x="296" y="344" width="7" height="7" fill="#c467b2"/>
<rect x="302" y="344" width="7" height="7" fill="#c565b0"/>
<rect x="308" y="344" width="7" height="7" fill="#c462ae"/>
<rect x="314" y="344" width="7" height="7" fill="#c45fac"/>
<rect x="320" y="344" width="7" height="7" fill="#c35daa"/>
<rect x="326" y="344" width="7" height="7" fill="#c15aa9"/>
<rect x="332" y="344" width="7" height="7" fill="#c058a7"/>
<rect x="338" y="344" width="7" height="7" fill="#be56a6"/>
<rect x="344" y="344" width="7" height="7" fill="#bd54a5"/>
<rect x="350" y="344" width="7" height="7" fill="#bc53a3"/>
<rect x="356" y="344" width="7" height="7" fill="#bb51a2"/>
<rect x="362" y="344" width="7" height="7" fill="#bb50a1"/>
<rect x="368" y="344" width="7" height="7" fill="#ba4ea1"/>
<rect x="374" y="344" width="7" height="7" fill="#ba4da0"/>
<rect x="380" y="344" width="7" height="7" fill="#ba4c9f"/>
<rect x="386" y="344" width="7" height="7" fill="#b94b9f"/>
<rect x="392" y="344" width="7" height="7" fill="#ba4a9e"/>
<rect x="398" y="344" width="7" height="7" fill="#ba499e"/>
<rect x="404" y="344" width="7" height="7" fill="#ba489e"/>
<rect x="410" y="344" width="7" height="7" fill="#ba479d"/>
<rect x="416" y="344" width="7" height="7" fill="#bb469d"/>
<rect x="158" y="350" width="7" height="7" fill="#285dae"/>
<rect x="164" y="350" width="7" height="7" fill="#295cae"/>
<rect x="170" y="350" width="7" height="7" fill="#2b5bad"/>
<rect x="176" y="350" width="7" height="7" fill="#2c5bad"/>
<rect x="182" y="350" width="7" height="7" fill="#2e5aac"/>
<rect x="188" y="350" width="7" height="7" fill="#2f59ac"/>
<rect x="194" y="350" width="7" height="7" fill="#3059ac"/>
<rect x="200" y="350" width="7" height="7" fill="#3058ab"/>
<rect x="206" y="350" width="7" height="7" fill="#3157ab"/>
<rect x="212" y="350" width="7" height="7" fill="#3156aa"/>
<rect x="218" y="350" width="7" height="7" fill="#3355aa"/>
<rect x="224" y="350" width="7" height="7" fill="#3555aa"/>
<rect x="230" y="350" width="7" height="7" fill="#3a56ab"/>
<rect x="236" y="350" width="7" height="7" fill="#4157ac"/>
<rect x="242" y="350" width="7" height="7" fill="#4b59ad"/>
<rect x="248" y="350" width="7" height="7" fill="#5b5caf"/>
<rect x="254" y="350" width="7" height="7" fill="#6e61b2"/>
<rect x="260" y="350" width="7" height="7" fill="#8165b3"/>
<rect x="266" y="350" width="7" height="7" fill="#9367b4"/>
<rect x="272" y="350" width="7" height="7" fill="#a369b5"/>
<rect x="278" y="350" width="7" height="7" fill="#af6ab4"/>
<rect x="284" y="350" width="7" height="7" fill="#b769b4"/>
<rect x="290" y="350" width="7" height="7" fill="#bc68b2"/>
<rect x="296" y="350" width="7" height="7" fill="#c066b1"/>
<rect x="302" y="350" width="7" height="7" fill="#c364af"/>
<rect x="308" y="350" width="7" height="7" fill="#c461ad"/>
<rect x="314" y="350" width="7" height="7" fill="#c35fac"/>
<rect x="320" y="350" width="7" height="7" fill="#c25caa"/>
<rect x="326" y="350" width="7" height="7" fill="#c15aa8"/>
<rect x="332" y="350" width="7" height="7" fill="#bf57a7"/>
<rect x="338" y="350" width="7" height="7" fill="#bd55a5"/>
<rect x="344" y="350" width="7" height="7" fill="#bc54a4"/>
<rect x="350" y="350" width="7" height="7" fill="#bc52a3"/>
<rect x="356" y="350" width="7" height="7" fill="#bb51a2"/>
<rect x="362" y="350" width="7" height="7" fill="#ba4fa1"/>
<rect x="368" y="350" width="7" height="7" fill="#ba4ea0"/>
<rect x="374" y="350" width="7" height="7" fill="#ba4da0"/>
<rect x="380" y="350" width="7" height="7" fill="#b94c9f"/>
<rect x="386" y="350" width="7" height="7" fill="#b94b9f"/>
<rect x="392" y="350" width="7" height="7" fill="#b94a9e"/>
<rect x="398" y="350" width="7" height="7" fill="#b9499e"/>
<rect x="404" y="350" width="7" height="7" fill="#ba489d"/>
<rect x="410" y="350" width="7" height="7" fill="#ba469d"/>
<rect x="164" y="356" width="7" height="7" fill="#295bad"/>
<rect x="170" y="356" width="7" height="7" fill="#2a5aad"/>
<rect x="176" y="356" width="7" height="7" fill="#2c5aac"/>
<rect x="182" y="356" width="7" height="7" fill="#2d59ac"/>
<rect x="188" y="356" width="7" height="7" fill="#2e58ab"/>
<rect x="194" y="356" width="7" height="7" fill="#2f58ab"/>
<rect x="200" y="356" width="7" height="7" fill="#3057aa"/>
<rect x="206" y="356" width="7" height="7" fill="#3056aa"/>
<rect x="212" y="356" width="7" height="7" fill="#3155aa"/>
<rect x="218" y="356" width="7" height="7" fill="#3355a9"/>
<rect x="224" y="356" width="7" height="7" fill="#3555aa"/>
<rect x="230" y="356" width="7" height="7" fill="#3955aa"/>
<rect x="236" y="356" width="7" height="7" fill="#4056ab"/>
<rect x="242" y="356" width="7" height="7" fill="#4958ac"/>
<rect x="248" y="356" width="7" height="7" fill="#555aae"/>
<rect x="254" y="356" width="7" height="7" fill="#645daf"/>
<rect x="260" y="356" width="7" height="7" fill="#7360b1"/>
<rect x="266" y="356" width="7" height="7" fill="#8362b2"/>
<rect x="272" y="356" width="7" height="7" fill="#9264b2"/>
<rect x="278" y="356" width="7" height="7" fill="#a065b2"/>
<rect x="284" y="356" width="7" height="7" fill="#ab66b2"/>
<rect x="290" y="356" width="7" height="7" fill="#b565b1"/>
<rect x="296" y="356" width="7" height="7" fill="#bc64b0"/>
<rect x="302" y="356" width="7" height="7" fill="#c062af"/>
<rect x="308" y="356" width="7" height="7" fill="#c360ad"/>
<rect x="314" y="356" width="7" height="7" fill="#c35eab"/>
<rect x="320" y="356" width="7" height="7" fill="#c25ba9"/>
<rect x="326" y="356" width="7" height="7" fill="#c059a7"/>
<rect x="332" y="356" width="7" height="7" fill="#bd56a6"/>
<rect x="338" y="356" width="7" height="7" fill="#bc54a4"/>
<rect x="344" y="356" width="7" height="7" fill="#bc53a3"/>
<rect x="350" y="356" width="7" height="7" fill="#bb51a2"/>
<rect x="356" y="356" width="7" height="7" fill="#ba50a2"/>
<rect x="362" y="356" width="7" height="7" fill="#ba4fa1"/>
<rect x="368" y="356" width="7" height="7" fill="#b94ea0"/>
<rect x="374" y="356" width="7" height="7" fill="#b94ca0"/>
<rect x="380" y="356" width="7" height="7" fill="#b94b9f"/>
<rect x="386" y="356" width="7" height="7" fill="#b94a9f"/>
<rect x="392" y="356" width="7" height="7" fill="#b9499e"/>
<rect x="398" y="356" width="7" height="7" fill="#b9489e"/>
<rect x="404" y="356" width="7" height="7" fill="#b9479d"/>
<rect x="164" y="362" width="7" height="7" fill="#285aac"/>
<rect x="170" y="362" width="7" height="7" fill="#2a5aac"/>
<rect x="176" y="362" width="7" height="7" fill="#2b59ab"/>
<rect x="182" y="362" width="7" height="7" fill="#2d58ab"/>
<rect x="188" y="362" width="7" height="7" fill="#2e57aa"/>
<rect x="194" y="362" width="7" height="7" fill="#2f57aa"/>
<rect x="200" y="362" width="7" height="7" fill="#3056aa"/>
<rect x="206" y="362" width="7" height="7" fill="#3056a9"/>
<rect x="212" y="362" width="7" height="7" fill="#3155a9"/>
<rect x="218" y="362" width="7" height="7" fill="#3355a9"/>
<rect x="224" y="362" width="7" height="7" fill="#3555a9"/>
<rect x="230" y="362" width="7" height="7" fill="#3955aa"/>
<rect x="236" y="362" width="7" height="7" fill="#3e56aa"/>
<rect x="242" y="362" width="7" height="7" fill="#4657ab"/>
<rect x="248" y="362" width="7" height="7" fill="#4f58ac"/>
<rect x="254" y="362" width="7" height="7" fill="#5a5aad"/>
<rect x="260" y="362" width="7" height="7" fill="#665cae"/>
<rect x="266" y="362" width="7" height="7" fill="#735eaf"/>
<rect x="272" y="362" width="7" height="7" fill="#825fb0"/>
<rect x="278" y="362" width="7" height="7" fill="#9161b0"/>
<rect x="284" y="362" width="7" height="7" fill="#a062b0"/>
<rect x="290" y="362" width="7" height="7" fill="#ad63b0"/>
<rect x="296" y="362" width="7" height="7" fill="#b863af"/>
<rect x="302" y="362" width="7" height="7" fill="#bf61ae"/>
<rect x="308" y="362" width="7" height="7" fill="#c25fac"/>
<rect x="314" y="362" width="7" height="7" fill="#c35dab"/>
<rect x="320" y="362" width="7" height="7" fill="#c25ba9"/>
<rect x="326" y="362" width="7" height="7" fill="#bf58a7"/>
<rect x="332" y="362" width="7" height="7" fill="#bd55a5"/>
<rect x="338" y="362" width="7" height="7" fill="#bc54a4"/>
<rect x="344" y="362" width="7" height="7" fill="#bb52a3"/>
<rect x="350" y="362" width="7" height="7" fill="#ba51a2"/>
<rect x="356" y="362" width="7" height="7" fill="#ba4fa1"/>
<rect x="362" y="362" width="7" height="7" fill="#b94ea0"/>
<rect x="368" y="362" width="7" height="7" fill="#b94da0"/>
<rect x="374" y="362" width="7" height="7" fill="#b94c9f"/>
<rect x="380" y="362" width="7" height="7" fill="#b84b9f"/>
<rect x="386" y="362" width="7" height="7" fill="#b84a9e"/>
<rect x="392" y="362" width="7" height="7" fill="#b8499e"/>
<rect x="398" y="362" width="7" height="7" fill="#b8489e"/>
<rect x="170" y="368" width="7" height="7" fill="#2a59ab"/>
<rect x="176" y="368" width="7" height="7" fill="#2b58ab"/>
<rect x="182" y="368" width="7" height="7" fill="#2d57aa"/>
<rect x="188" y="368" width="7" height="7" fill="#2e57aa"/>
<rect x="194" y="368" width="7" height="7" fill="#2f56a9"/>
<rect x="200" y="368" width="7" height="7" fill="#3056a9"/>
<rect x="206" y="368" width="7" height="7" fill="#3155a9"/>
<rect x="212" y="368" width="7" height="7" fill="#3255a9"/>
<rect x="218" y="368" width="7" height="7" fill="#3355a9"/>
<rect x="224" y="368" width="7" height="7" fill="#3555a9"/>
<rect x="230" y="368" width="7" height="7" fill="#3855a9"/>
<rect x="236" y="368" width="7" height="7" fill="#3c55a9"/>
<rect x="242" y="368" width="7" height="7" fill="#4256aa"/>
<rect x="248" y="368" width="7" height="7" fill="#4856ab"/>
<rect x="254" y="368" width="7" height="7" fill="#5057ab"/>
<rect x="260" y="368" width="7" height="7" fill="#5858ac"/>
<rect x="266" y="368" width="7" height="7" fill="#6359ad"/>
<rect x="272" y="368" width="7" height="7" fill="#705bad"/>
<rect x="278" y="368" width="7" height="7" fill="#825dae"/>
<rect x="284" y="368" width="7" height="7" fill="#9660af"/>
<rect x="290" y="368" width="7" height="7" fill="#a761af"/>
<rect x="296" y="368" width="7" height="7" fill="#b561af"/>
<rect x="302" y="368" width="7" height="7" fill="#be60ad"/>
<rect x="308" y="368" width="7" height="7" fill="#c25fac"/>
<rect x="314" y="368" width="7" height="7" fill="#c35caa"/>
<rect x="320" y="368" width="7" height="7" fill="#c15aa8"/>
<rect x="326" y="368" width="7" height="7" fill="#bf57a7"/>
<rect x="332" y="368" width="7" height="7" fill="#bd55a5"/>
<rect x="338" y="368" width="7" height="7" fill="#bb53a4"/>
<rect x="344" y="368" width="7" height="7" fill="#ba52a3"/>
<rect x="350" y="368" width="7" height="7" fill="#b950a2"/>
<rect x="356" y="368" width="7" height="7" fill="#b94fa1"/>
<rect x="362" y="368" width="7" height="7" fill="#b84ea0"/>
<rect x="368" y="368" width="7" height="7" fill="#b84da0"/>
<rect x="374" y="368" width="7" height="7" fill="#b84c9f"/>
<rect x="380" y="368" width="7" height="7" fill="#b84a9f"/>
<rect x="386" y="368" width="7" height="7" fill="#b8499e"/>
<rect x="392" y="368" width="7" height="7" fill="#b8489e"/>
<rect x="398" y="368" width="7" height="7" fill="#b8479e"/>
<rect x="170" y="374" width="7" height="7" fill="#2958ab"/>
<rect x="176" y="374" width="7" height="7" fill="#2b58aa"/>
<rect x="182" y="374" width="7" height="7" fill="#2d57aa"/>
<rect x="188" y="374" width="7" height="7" fill="#2e56a9"/>
<rect x="194" y="374" width="7" height="7" fill="#3056a9"/>
<rect x="200" y="374" width="7" height="7" fill="#3155a8"/>
<rect x="206" y="374" width="7" height="7" fill="#3255a8"/>
<rect x="212" y="374" width="7" height="7" fill="#3255a8"/>
<rect x="218" y="374" width="7" height="7" fill="#3355a8"/>
<rect x="224" y="374" width="7" height="7" fill="#3555a8"/>
<rect x="230" y="374" width="7" height="7" fill="#3855a9"/>
<rect x="236" y="374" width="7" height="7" fill="#3a55a9"/>
<rect x="242" y="374" width="7" height="7" fill="#3e55a9"/>
<rect x="248" y="374" width="7" height="7" fill="#4255aa"/>
<rect x="254" y="374" width="7" height="7" fill="#4755aa"/>
<rect x="260" y="374" width="7" height="7" fill="#4c55aa"/>
<rect x="266" y="374" width="7" height="7" fill="#5255aa"/>
<rect x="272" y="374" width="7" height="7" fill="#5e56ab"/>
<rect x="278" y="374" width="7" height="7" fill="#745aad"/>
<rect x="284" y="374" width="7" height="7" fill="#8c5eae"/>
<rect x="290" y="374" width="7" height="7" fill="#a260af"/>
<rect x="296" y="374" width="7" height="7" fill="#b360ae"/>
<rect x="302" y="374" width="7" height="7" fill="#bf60ad"/>
<rect x="308" y="374" width="7" height="7" fill="#c25eab"/>
<rect x="314" y="374" width="7" height="7" fill="#c25ca9"/>
<rect x="320" y="374" width="7" height="7" fill="#c059a8"/>
<rect x="326" y="374" width="7" height="7" fill="#bf57a6"/>
<rect x="332" y="374" width="7" height="7" fill="#bd55a5"/>
<rect x="338" y="374" width="7" height="7" fill="#bb53a3"/>
<rect x="344" y="374" width="7" height="7" fill="#ba51a2"/>
<rect x="350" y="374" width="7" height="7" fill="#b850a1"/>
<rect x="356" y="374" width="7" height="7" fill="#b84ea0"/>
<rect x="362" y="374" width="7" height="7" fill="#b74da0"/>
<rect x="368" y="374" width="7" height="7" fill="#b74c9f"/>
<rect x="374" y="374" width="7" height="7" fill="#b74b9f"/>
<rect x="380" y="374" width="7" height="7" fill="#b74a9e"/>
<rect x="386" y="374" width="7" height="7" fill="#b7499e"/>
<rect x="392" y="374" width="7" height="7" fill="#b7489e"/>
<rect x="176" y="380" width="7" height="7" fill="#2b57aa"/>
<rect x="182" y="380" width="7" height="7" fill="#2d56a9"/>
<rect x="188" y="380" width="7" height="7" fill="#2f56a9"/>
<rect x="194" y="380" width="7" height="7" fill="#3155a8"/>
<rect x="200" y="380" width="7" height="7" fill="#3255a8"/>
<rect x="206" y="380" width="7" height="7" fill="#3255a8"/>
<rect x="212" y="380" width="7" height="7" fill="#3354a8"/>
<rect x="218" y="380" width="7" height="7" fill="#3354a8"/>
<rect x="224" y="380" width="7" height="7" fill="#3555a8"/>
<rect x="230" y="380" width="7" height="7" fill="#3755a8"/>
<rect x="236" y="380" width="7" height="7" fill="#3954a8"/>
<rect x="242" y="380" width="7" height="7" fill="#3b54a8"/>
<rect x="248" y="380" width="7" height="7" fill="#3d54a9"/>
<rect x="254" y="380" width="7" height="7" fill="#4053a9"/>
<rect x="260" y="380" width="7" height="7" fill="#4352a9"/>
<rect x="266" y="380" width="7" height="7" fill="#4551a8"/>
<rect x="272" y="380" width="7" height="7" fill="#4b51a8"/>
<rect x="278" y="380" width="7" height="7" fill="#6856ab"/>
<rect x="284" y="380" width="7" height="7" fill="#845cad"/>
<rect x="290" y="380" width="7" height="7" fill="#9c5faf"/>
<rect x="296" y="380" width="7" height="7" fill="#ae5fad"/>
<rect x="302" y="380" width="7" height="7" fill="#c05fac"/>
<rect x="308" y="380" width="7" height="7" fill="#bf5daa"/>
<rect x="314" y="380" width="7" height="7" fill="#bf5aa9"/>
<rect x="320" y="380" width="7" height="7" fill="#be58a7"/>
<rect x="326" y="380" width="7" height="7" fill="#bd56a6"/>
<rect x="332" y="380" width="7" height="7" fill="#bc54a4"/>
<rect x="338" y="380" width="7" height="7" fill="#ba52a3"/>
<rect x="344" y="380" width="7" height="7" fill="#b950a2"/>
<rect x="350" y="380" width="7" height="7" fill="#b74fa1"/>
<rect x="356" y="380" width="7" height="7" fill="#b64ea0"/>
<rect x="362" y="380" width="7" height="7" fill="#b64d9f"/>
<rect x="368" y="380" width="7" height="7" fill="#b64c9f"/>
<rect x="374" y="380" width="7" height="7" fill="#b64b9f"/>
<rect x="380" y="380" width="7" height="7" fill="#b64a9e"/>
<rect x="386" y="380" width="7" height="7" fill="#b6499e"/>
<rect x="182" y="386" width="7" height="7" fill="#2c56a9"/>
<rect x="188" y="386" width="7" height="7" fill="#2e55a9"/>
<rect x="194" y="386" width="7" height="7" fill="#3055a8"/>
<rect x="200" y="386" width="7" height="7" fill="#3255a8"/>
<rect x="206" y="386" width="7" height="7" fill="#3254a8"/>
<rect x="212" y="386" width="7" height="7" fill="#3254a7"/>
<rect x="218" y="386" width="7" height="7" fill="#3354a7"/>
<rect x="224" y="386" width="7" height="7" fill="#3554a8"/>
<rect x="230" y="386" width="7" height="7" fill="#3654a8"/>
<rect x="236" y="386" width="7" height="7" fill="#3754a8"/>
<rect x="242" y="386" width="7" height="7" fill="#3953a8"/>
<rect x="248" y="386" width="7" height="7" fill="#3a53a8"/>
<rect x="254" y="386" width="7" height="7" fill="#3c52a8"/>
<rect x="260" y="386" width="7" height="7" fill="#3e51a8"/>
<rect x="266" y="386" width="7" height="7" fill="#4251a8"/>
<rect x="272" y="386" width="7" height="7" fill="#4c51a8"/>
<rect x="278" y="386" width="7" height="7" fill="#6155aa"/>
<rect x="284" y="386" width="7" height="7" fill="#7959ac"/>
<rect x="290" y="386" width="7" height="7" fill="#8f5bac"/>
<rect x="296" y="386" width="7" height="7" fill="#a25cac"/>
<rect x="302" y="386" width="7" height="7" fill="#b05cab"/>
<rect x="308" y="386" width="7" height="7" fill="#b65ba9"/>
<rect x="314" y="386" width="7" height="7" fill="#b859a8"/>
<rect x="320" y="386" width="7" height="7" fill="#ba57a7"/>
<rect x="326" y="386" width="7" height="7" fill="#ba55a5"/>
<rect x="332" y="386" width="7" height="7" fill="#ba53a4"/>
<rect x="338" y="386" width="7" height="7" fill="#b951a2"/>
<rect x="344" y="386" width="7" height="7" fill="#b850a1"/>
<rect x="350" y="386" width="7" height="7" fill="#b74ea0"/>
<rect x="356" y="386" width="7" height="7" fill="#b64da0"/>
<rect x="362" y="386" width="7" height="7" fill="#b64c9f"/>
<rect x="368" y="386" width="7" height="7" fill="#b64b9f"/>
<rect x="374" y="386" width="7" height="7" fill="#b64a9e"/>
<rect x="380" y="386" width="7" height="7" fill="#b5499e"/>
<rect x="182" y="392" width="7" height="7" fill="#2c55a9"/>
<rect x="188" y="392" width="7" height="7" fill="#2e55a8"/>
<rect x="194" y="392" width="7" height="7" fill="#2f55a8"/>
<rect x="200" y="392" width="7" height="7" fill="#3154a8"/>
<rect x="206" y="392" width="7" height="7" fill="#3154a7"/>
<rect x="212" y="392" width="7" height="7" fill="#3254a7"/>
<rect x="218" y="392" width="7" height="7" fill="#3354a7"/>
<rect x="224" y="392" width="7" height="7" fill="#3454a7"/>
<rect x="230" y="392" width="7" height="7" fill="#3553a7"/>
<rect x="236" y="392" width="7" height="7" fill="#3653a7"/>
<rect x="242" y="392" width="7" height="7" fill="#3753a7"/>
<rect x="248" y="392" width="7" height="7" fill="#3852a7"/>
<rect x="254" y="392" width="7" height="7" fill="#3a52a7"/>
<rect x="260" y="392" width="7" height="7" fill="#3d51a7"/>
<rect x="266" y="392" width="7" height="7" fill="#4351a7"/>
<rect x="272" y="392" width="7" height="7" fill="#4d52a8"/>
<rect x="278" y="392" width="7" height="7" fill="#5d54a9"/>
<rect x="284" y="392" width="7" height="7" fill="#6f56aa"/>
<rect x="290" y="392" width="7" height="7" fill="#8258aa"/>
<rect x="296" y="392" width="7" height="7" fill="#9259aa"/>
<rect x="302" y="392" width="7" height="7" fill="#a059a9"/>
<rect x="308" y="392" width="7" height="7" fill="#a958a8"/>
<rect x="314" y="392" width="7" height="7" fill="#b057a7"/>
<rect x="320" y="392" width="7" height="7" fill="#b455a6"/>
<rect x="326" y="392" width="7" height="7" fill="#b754a4"/>
<rect x="332" y="392" width="7" height="7" fill="#b852a3"/>
<rect x="338" y="392" width="7" height="7" fill="#b750a2"/>
<rect x="344" y="392" width="7" height="7" fill="#b74fa1"/>
<rect x="350" y="392" width="7" height="7" fill="#b64ea0"/>
<rect x="356" y="392" width="7" height="7" fill="#b54d9f"/>
<rect x="362" y="392" width="7" height="7" fill="#b54c9f"/>
<rect x="368" y="392" width="7" height="7" fill="#b54b9f"/>
<rect x="374" y="392" width="7" height="7" fill="#b54a9e"/>
<rect x="380" y="392" width="7" height="7" fill="#b4499e"/>
<rect x="188" y="398" width="7" height="7" fill="#2d55a8"/>
<rect x="194" y="398" width="7" height="7" fill="#2f54a8"/>
<rect x="200" y="398" width="7" height="7" fill="#3054a7"/>
<rect x="206" y="398" width="7" height="7" fill="#3153a7"/>
<rect x="212" y="398" width="7" height="7" fill="#3253a7"/>
<rect x="218" y="398" width="7" height="7" fill="#3353a7"/>
<rect x="224" y="398" width="7" height="7" fill="#3453a7"/>
<rect x="230" y="398" width="7" height="7" fill="#3553a7"/>
<rect x="236" y="398" width="7" height="7" fill="#3552a7"/>
<rect x="242" y="398" width="7" height="7" fill="#3652a7"/>
<rect x="248" y="398" width="7" height="7" fill="#3852a7"/>
<rect x="254" y="398" width="7" height="7" fill="#3a52a7"/>
<rect x="260" y="398" width="7" height="7" fill="#3d51a7"/>
<rect x="266" y="398" width="7" height="7" fill="#4351a7"/>
<rect x="272" y="398" width="7" height="7" fill="#4b51a8"/>
<rect x="278" y="398" width="7" height="7" fill="#5853a8"/>
<rect x="284" y="398" width="7" height="7" fill="#6654a8"/>
<rect x="290" y="398" width="7" height="7" fill="#7555a9"/>
<rect x="296" y="398" width="7" height="7" fill="#8356a8"/>
<rect x="302" y="398" width="7" height="7" fill="#9156a8"/>
<rect x="308" y="398" width="7" height="7" fill="#9c55a7"/>
<rect x="314" y="398" width="7" height="7" fill="#a655a6"/>
<rect x="320" y="398" width="7" height="7" fill="#ae54a5"/>
<rect x="326" y="398" width="7" height="7" fill="#b353a4"/>
<rect x="332" y="398" width="7" height="7" fill="#b651a3"/>
<rect x="338" y="398" width="7" height="7" fill="#b650a1"/>
<rect x="344" y="398" width="7" height="7" fill="#b54ea0"/>
<rect x="350" y="398" width="7" height="7" fill="#b54da0"/>
<rect x="356" y="398" width="7" height="7" fill="#b54c9f"/>
<rect x="362" y="398" width="7" height="7" fill="#b44b9f"/>
<rect x="368" y="398" width="7" height="7" fill="#b44a9e"/>
<rect x="374" y="398" width="7" height="7" fill="#b4499e"/>
<rect x="188" y="404" width="7" height="7" fill="#2c54a8"/>
<rect x="194" y="404" width="7" height="7" fill="#2e54a8"/>
<rect x="200" y="404" width="7" height="7" fill="#2f53a7"/>
<rect x="206" y="404" width="7" height="7" fill="#3053a7"/>
<rect x="212" y="404" width="7" height="7" fill="#3253a7"/>
<rect x="218" y="404" width="7" height="7" fill="#3352a7"/>
<rect x="224" y="404" width="7" height="7" fill="#3452a7"/>
<rect x="230" y="404" width="7" height="7" fill="#3552a7"/>
<rect x="236" y="404" width="7" height="7" fill="#3552a7"/>
<rect x="242" y="404" width="7" height="7" fill="#3652a7"/>
<rect x="248" y="404" width="7" height="7" fill="#3851a7"/>
<rect x="254" y="404" width="7" height="7" fill="#3a51a7"/>
<rect x="260" y="404" width="7" height="7" fill="#3d51a7"/>
<rect x="266" y="404" width="7" height="7" fill="#4251a7"/>
<rect x="272" y="404" width="7" height="7" fill="#4951a7"/>
<rect x="278" y="404" width="7" height="7" fill="#5251a7"/>
<rect x="284" y="404" width="7" height="7" fill="#5d52a7"/>
<rect x="290" y="404" width="7" height="7" fill="#6953a7"/>
<rect x="296" y="404" width="7" height="7" fill="#7553a7"/>
<rect x="302" y="404" width="7" height="7" fill="#8253a6"/>
<rect x="308" y="404" width="7" height="7" fill="#9053a6"/>
<rect x="314" y="404" width="7" height="7" fill="#9d53a5"/>
<rect x="320" y="404" width="7" height="7" fill="#a952a5"/>
<rect x="326" y="404" width="7" height="7" fill="#b152a4"/>
<rect x="332" y="404" width="7" height="7" fill="#b550a2"/>
<rect x="338" y="404" width="7" height="7" fill="#b54fa1"/>
<rect x="344" y="404" width="7" height="7" fill="#b44ea0"/>
<rect x="350" y="404" width="7" height="7" fill="#b44d9f"/>
<rect x="356" y="404" width="7" height="7" fill="#b44c9f"/>
<rect x="362" y="404" width="7" height="7" fill="#b34b9f"/>
<rect x="368" y="404" width="7" height="7" fill="#b34a9e"/>
<rect x="194" y="410" width="7" height="7" fill="#2d53a8"/>
<rect x="200" y="410" width="7" height="7" fill="#2f53a7"/>
<rect x="206" y="410" width="7" height="7" fill="#3053a7"/>
<rect x="212" y="410" width="7" height="7" fill="#3152a7"/>
<rect x="218" y="410" width="7" height="7" fill="#3352a7"/>
<rect x="224" y="410" width="7" height="7" fill="#3452a7"/>
<rect x="230" y="410" width="7" height="7" fill="#3551a6"/>
<rect x="236" y="410" width="7" height="7" fill="#3651a6"/>
<rect x="242" y="410" width="7" height="7" fill="#3751a6"/>
<rect x="248" y="410" width="7" height="7" fill="#3851a6"/>
<rect x="254" y="410" width="7" height="7" fill="#3951a6"/>
<rect x="260" y="410" width="7" height="7" fill="#3c50a7"/>
<rect x="266" y="410" width="7" height="7" fill="#4050a7"/>
<rect x="272" y="410" width="7" height="7" fill="#4550a7"/>
<rect x="278" y="410" width="7" height="7" fill="#4c50a7"/>
<rect x="284" y="410" width="7" height="7" fill="#5450a6"/>
<rect x="290" y="410" width="7" height="7" fill="#5c51a6"/>
<rect x="296" y="410" width="7" height="7" fill="#6650a6"/>
<rect x="302" y="410" width="7" height="7" fill="#7250a5"/>
<rect x="308" y="410" width="7" height="7" fill="#8251a5"/>
<rect x="314" y="410" width="7" height="7" fill="#9551a5"/>
<rect x="320" y="410" width="7" height="7" fill="#a551a4"/>
<rect x="326" y="410" width="7" height="7" fill="#b051a4"/>
<rect x="332" y="410" width="7" height="7" fill="#b550a2"/>
<rect x="338" y="410" width="7" height="7" fill="#b64fa1"/>
<rect x="344" y="410" width="7" height="7" fill="#b54da0"/>
<rect x="350" y="410" width="7" height="7" fill="#b44c9f"/>
<rect x="356" y="410" width="7" height="7" fill="#b34b9f"/>
<rect x="362" y="410" width="7" height="7" fill="#b24b9f"/>
<rect x="200" y="416" width="7" height="7" fill="#2e53a7"/>
<rect x="206" y="416" width="7" height="7" fill="#3052a7"/>
<rect x="212" y="416" width="7" height="7" fill="#3152a7"/>
<rect x="218" y="416" width="7" height="7" fill="#3352a7"/>
<rect x="224" y="416" width="7" height="7" fill="#3451a6"/>
<rect x="230" y="416" width="7" height="7" fill="#3651a6"/>
<rect x="236" y="416" width="7" height="7" fill="#3651a6"/>
<rect x="242" y="416" width="7" height="7" fill="#3751a6"/>
<rect x="248" y="416" width="7" height="7" fill="#3850a6"/>
<rect x="254" y="416" width="7" height="7" fill="#3950a6"/>
<rect x="260" y="416" width="7" height="7" fill="#3b50a6"/>
<rect x="266" y="416" width="7" height="7" fill="#3e50a6"/>
<rect x="272" y="416" width="7" height="7" fill="#4250a6"/>
<rect x="278" y="416" width="7" height="7" fill="#464fa6"/>
<rect x="284" y="416" width="7" height="7" fill="#4c4fa6"/>
<rect x="290" y="416" width="7" height="7" fill="#514fa5"/>
<rect x="296" y="416" width="7" height="7" fill="#574ea4"/>
<rect x="302" y="416" width="7" height="7" fill="#614ea4"/>
<rect x="308" y="416" width="7" height="7" fill="#744ea4"/>
<rect x="314" y="416" width="7" height="7" fill="#8d50a5"/>
<rect x="320" y="416" width="7" height="7" fill="#a251a4"/>
<rect x="326" y="416" width="7" height="7" fill="#b050a4"/>
<rect x="332" y="416" width="7" height="7" fill="#b650a2"/>
<rect x="338" y="416" width="7" height="7" fill="#b64ea1"/>
<rect x="344" y="416" width="7" height="7" fill="#b44da0"/>
<rect x="350" y="416" width="7" height="7" fill="#b24c9f"/>
<rect x="356" y="416" width="7" height="7" fill="#b14b9f"/>
<rect x="362" y="416" width="7" height="7" fill="#b04a9f"/>
<rect x="200" y="422" width="7" height="7" fill="#2e52a7"/>
<rect x="206" y="422" width="7" height="7" fill="#2f52a7"/>
<rect x="212" y="422" width="7" height="7" fill="#3151a7"/>
<rect x="218" y="422" width="7" height="7" fill="#3351a6"/>
<rect x="224" y="422" width="7" height="7" fill="#3551a6"/>
<rect x="230" y="422" width="7" height="7" fill="#3750a6"/>
<rect x="236" y="422" width="7" height="7" fill="#3750a6"/>
<rect x="242" y="422" width="7" height="7" fill="#3750a6"/>
<rect x="248" y="422" width="7" height="7" fill="#3850a6"/>
<rect x="254" y="422" width="7" height="7" fill="#3950a6"/>
<rect x="260" y="422" width="7" height="7" fill="#3a50a6"/>
<rect x="266" y="422" width="7" height="7" fill="#3c4fa6"/>
<rect x="272" y="422" width="7" height="7" fill="#3f4fa6"/>
<rect x="278" y="422" width="7" height="7" fill="#424fa6"/>
<rect x="284" y="422" width="7" height="7" fill="#454ea5"/>
<rect x="290" y="422" width="7" height="7" fill="#484ea5"/>
<rect x="296" y="422" width="7" height="7" fill="#4b4da4"/>
<rect x="302" y="422" width="7" height="7" fill="#4f4ba2"/>
<rect x="308" y="422" width="7" height="7" fill="#654da3"/>
<rect x="314" y="422" width="7" height="7" fill="#864fa4"/>
<rect x="320" y="422" width="7" height="7" fill="#9e50a4"/>
<rect x="326" y="422" width="7" height="7" fill="#ab50a3"/>
<rect x="332" y="422" width="7" height="7" fill="#b24fa2"/>
<rect x="338" y="422" width="7" height="7" fill="#b24ea1"/>
<rect x="344" y="422" width="7" height="7" fill="#b14da0"/>
<rect x="350" y="422" width="7" height="7" fill="#af4c9f"/>
<rect x="356" y="422" width="7" height="7" fill="#ae4b9f"/>
<rect x="206" y="428" width="7" height="7" fill="#2f52a7"/>
<rect x="212" y="428" width="7" height="7" fill="#3151a7"/>
<rect x="218" y="428" width="7" height="7" fill="#3351a6"/>
<rect x="224" y="428" width="7" height="7" fill="#3550a6"/>
<rect x="230" y="428" width="7" height="7" fill="#3750a6"/>
<rect x="236" y="428" width="7" height="7" fill="#3850a6"/>
<rect x="242" y="428" width="7" height="7" fill="#3750a6"/>
<rect x="248" y="428" width="7" height="7" fill="#3750a6"/>
<rect x="254" y="428" width="7" height="7" fill="#3850a6"/>
<rect x="260" y="428" width="7" height="7" fill="#394fa6"/>
<rect x="266" y="428" width="7" height="7" fill="#3a4fa6"/>
<rect x="272" y="428" width="7" height="7" fill="#3c4fa6"/>
<rect x="278" y="428" width="7" height="7" fill="#3e4ea6"/>
<rect x="284" y="428" width="7" height="7" fill="#404ea5"/>
<rect x="290" y="428" width="7" height="7" fill="#424da4"/>
<rect x="296" y="428" width="7" height="7" fill="#454ca4"/>
<rect x="302" y="428" width="7" height="7" fill="#4c4ca3"/>
<rect x="308" y="428" width="7" height="7" fill="#5f4ca3"/>
<rect x="314" y="428" width="7" height="7" fill="#794ea3"/>
<rect x="320" y="428" width="7" height="7" fill="#914fa3"/>
<rect x="326" y="428" width="7" height="7" fill="#a14fa2"/>
<rect x="332" y="428" width="7" height="7" fill="#a94ea1"/>
<rect x="338" y="428" width="7" height="7" fill="#ab4ea0"/>
<rect x="344" y="428" width="7" height="7" fill="#ab4da0"/>
<rect x="350" y="428" width="7" height="7" fill="#aa4c9f"/>
<rect x="212" y="434" width="7" height="7" fill="#3051a7"/>
<rect x="218" y="434" width="7" height="7" fill="#3251a7"/>
<rect x="224" y="434" width="7" height="7" fill="#3450a6"/>
<rect x="230" y="434" width="7" height="7" fill="#3550a6"/>
<rect x="236" y="434" width="7" height="7" fill="#3650a6"/>
<rect x="242" y="434" width="7" height="7" fill="#3650a6"/>
<rect x="248" y="434" width="7" height="7" fill="#374fa6"/>
<rect x="254" y="434" width="7" height="7" fill="#374fa7"/>
<rect x="260" y="434" width="7" height="7" fill="#384fa7"/>
<rect x="266" y="434" width="7" height="7" fill="#394fa7"/>
<rect x="272" y="434" width="7" height="7" fill="#3a4fa6"/>
<rect x="278" y="434" width="7" height="7" fill="#3b4ea6"/>
<rect x="284" y="434" width="7" height="7" fill="#3c4ea5"/>
<rect x="290" y="434" width="7" height="7" fill="#3e4da5"/>
<rect x="296" y="434" width="7" height="7" fill="#424ca4"/>
<rect x="302" y="434" width="7" height="7" fill="#494ca3"/>
<rect x="308" y="434" width="7" height="7" fill="#574ca3"/>
<rect x="314" y="434" width="7" height="7" fill="#6c4da3"/>
<rect x="320" y="434" width="7" height="7" fill="#824ea2"/>
<rect x="326" y="434" width="7" height="7" fill="#974ea1"/>
<rect x="332" y="434" width="7" height="7" fill="#a04ea0"/>
<rect x="338" y="434" width="7" height="7" fill="#a24da0"/>
<rect x="344" y="434" width="7" height="7" fill="#a34ca0"/>
<rect x="212" y="440" width="7" height="7" fill="#2f51a7"/>
<rect x="218" y="440" width="7" height="7" fill="#3150a7"/>
<rect x="224" y="440" width="7" height="7" fill="#3350a7"/>
<rect x="230" y="440" width="7" height="7" fill="#3450a6"/>
<rect x="236" y="440" width="7" height="7" fill="#3550a6"/>
<rect x="242" y="440" width="7" height="7" fill="#354fa6"/>
<rect x="248" y="440" width="7" height="7" fill="#364fa7"/>
<rect x="254" y="440" width="7" height="7" fill="#364fa7"/>
<rect x="260" y="440" width="7" height="7" fill="#374fa7"/>
<rect x="266" y="440" width="7" height="7" fill="#384fa7"/>
<rect x="272" y="440" width="7" height="7" fill="#394fa7"/>
<rect x="278" y="440" width="7" height="7" fill="#3a4ea6"/>
<rect x="284" y="440" width="7" height="7" fill="#3a4da5"/>
<rect x="290" y="440" width="7" height="7" fill="#3b4da5"/>
<rect x="296" y="440" width="7" height="7" fill="#3e4ca4"/>
<rect x="302" y="440" width="7" height="7" fill="#444ca4"/>
<rect x="308" y="440" width="7" height="7" fill="#4d4ca4"/>
<rect x="314" y="440" width="7" height="7" fill="#5c4da3"/>
<rect x="320" y="440" width="7" height="7" fill="#714da2"/>
<rect x="326" y="440" width="7" height="7" fill="#874da1"/>
<rect x="332" y="440" width="7" height="7" fill="#924da0"/>
<rect x="338" y="440" width="7" height="7" fill="#964ca0"/>
<rect x="344" y="440" width="7" height="7" fill="#994ca0"/>
<rect x="218" y="446" width="7" height="7" fill="#3050a7"/>
<rect x="224" y="446" width="7" height="7" fill="#3150a7"/>
<rect x="230" y="446" width="7" height="7" fill="#3350a7"/>
<rect x="236" y="446" width="7" height="7" fill="#334fa7"/>
<rect x="242" y="446" width="7" height="7" fill="#344fa7"/>
<rect x="248" y="446" width="7" height="7" fill="#354fa7"/>
<rect x="254" y="446" width="7" height="7" fill="#364fa7"/>
<rect x="260" y="446" width="7" height="7" fill="#364fa7"/>
<rect x="266" y="446" width="7" height="7" fill="#374fa7"/>
<rect x="272" y="446" width="7" height="7" fill="#384fa7"/>
<rect x="278" y="446" width="7" height="7" fill="#384ea6"/>
<rect x="284" y="446" width="7" height="7" fill="#384da6"/>
<rect x="290" y="446" width="7" height="7" fill="#394da5"/>
<rect x="296" y="446" width="7" height="7" fill="#3b4ca5"/>
<rect x="302" y="446" width="7" height="7" fill="#3e4ca4"/>
<rect x="308" y="446" width="7" height="7" fill="#424ca4"/>
<rect x="314" y="446" width="7" height="7" fill="#494ca4"/>
<rect x="320" y="446" width="7" height="7" fill="#5d4ca3"/>
<rect x="326" y="446" width="7" height="7" fill="#724ca1"/>
<rect x="332" y="446" width="7" height="7" fill="#804ca1"/>
<rect x="338" y="446" width="7" height="7" fill="#894ca0"/>
<rect x="224" y="452" width="7" height="7" fill="#3050a7"/>
<rect x="230" y="452" width="7" height="7" fill="#314fa7"/>
<rect x="236" y="452" width="7" height="7" fill="#324fa7"/>
<rect x="242" y="452" width="7" height="7" fill="#334fa7"/>
<rect x="248" y="452" width="7" height="7" fill="#344fa7"/>
<rect x="254" y="452" width="7" height="7" fill="#354fa7"/>
<rect x="260" y="452" width="7" height="7" fill="#354fa7"/>
<rect x="266" y="452" width="7" height="7" fill="#364fa7"/>
<rect x="272" y="452" width="7" height="7" fill="#374ea7"/>
<rect x="278" y="452" width="7" height="7" fill="#374ea6"/>
<rect x="284" y="452" width="7" height="7" fill="#374da6"/>
<rect x="290" y="452" width="7" height="7" fill="#384da5"/>
<rect x="296" y="452" width="7" height="7" fill="#394ca5"/>
<rect x="302" y="452" width="7" height="7" fill="#3a4ca4"/>
<rect x="308" y="452" width="7" height="7" fill="#3c4ca4"/>
<rect x="314" y="452" width="7" height="7" fill="#404ca4"/>
<rect x="320" y="452" width="7" height="7" fill="#514ca3"/>
<rect x="326" y="452" width="7" height="7" fill="#644ca2"/>
<rect x="332" y="452" width="7" height="7" fill="#734ba1"/>
<rect x="230" y="458" width="7" height="7" fill="#304fa7"/>
<rect x="236" y="458" width="7" height="7" fill="#314fa7"/>
<rect x="242" y="458" width="7" height="7" fill="#324fa7"/>
<rect x="248" y="458" width="7" height="7" fill="#334fa7"/>
<rect x="254" y="458" width="7" height="7" fill="#344fa7"/>
<rect x="260" y="458" width="7" height="7" fill="#354fa7"/>
<rect x="266" y="458" width="7" height="7" fill="#364ea7"/>
<rect x="272" y="458" width="7" height="7" fill="#364ea6"/>
<rect x="278" y="458" width="7" height="7" fill="#374ea6"/>
<rect x="284" y="458" width="7" height="7" fill="#374da6"/>
<rect x="290" y="458" width="7" height="7" fill="#384da5"/>
<rect x="296" y="458" width="7" height="7" fill="#394ca5"/>
<rect x="302" y="458" width="7" height="7" fill="#3a4ca5"/>
<rect x="308" y="458" width="7" height="7" fill="#3d4ca4"/>
<rect x="314" y="458" width="7" height="7" fill="#424ba4"/>
<rect x="320" y="458" width="7" height="7" fill="#4e4ba3"/>
<rect x="326" y="458" width="7" height="7" fill="#5c4ba2"/>
<rect x="230" y="464" width="7" height="7" fill="#2f4fa7"/>
<rect x="236" y="464" width="7" height="7" fill="#314fa7"/>
<rect x="242" y="464" width="7" height="7" fill="#324fa7"/>
<rect x="248" y="464" width="7" height="7" fill="#324fa7"/>
<rect x="254" y="464" width="7" height="7" fill="#334ea7"/>
<rect x="260" y="464" width="7" height="7" fill="#344ea7"/>
<rect x="266" y="464" width="7" height="7" fill="#354ea7"/>
<rect x="272" y="464" width="7" height="7" fill="#364ea6"/>
<rect x="278" y="464" width="7" height="7" fill="#374da6"/>
<rect x="284" y="464" width="7" height="7" fill="#384da6"/>
<rect x="290" y="464" width="7" height="7" fill="#394ca5"/>
<rect x="296" y="464" width="7" height="7" fill="#3a4ca5"/>
<rect x="302" y="464" width="7" height="7" fill="#3b4ca5"/>
<rect x="308" y="464" width="7" height="7" fill="#3f4ba4"/>
<rect x="314" y="464" width="7" height="7" fill="#444ba4"/>
<rect x="320" y="464" width="7" height="7" fill="#4d4ba3"/>
<rect x="326" y="464" width="7" height="7" fill="#584aa2"/>
<rect x="236" y="470" width="7" height="7" fill="#304fa7"/>
<rect x="242" y="470" width="7" height="7" fill="#314fa7"/>
<rect x="248" y="470" width="7" height="7" fill="#324ea7"/>
<rect x="254" y="470" width="7" height="7" fill="#334ea7"/>
<rect x="260" y="470" width="7" height="7" fill="#344ea7"/>
<rect x="266" y="470" width="7" height="7" fill="#354ea7"/>
<rect x="272" y="470" width="7" height="7" fill="#364ea6"/>
<rect x="278" y="470" width="7" height="7" fill="#374da6"/>
<rect x="284" y="470" width="7" height="7" fill="#384da6"/>
<rect x="290" y="470" width="7" height="7" fill="#3a4ca5"/>
<rect x="296" y="470" width="7" height="7" fill="#3b4ca5"/>
<rect x="302" y="470" width="7" height="7" fill="#3d4ba5"/>
<rect x="308" y="470" width="7" height="7" fill="#414ba4"/>
<rect x="314" y="470" width="7" height="7" fill="#464ba4"/>
<rect x="320" y="470" width="7" height="7" fill="#4d4aa3"/>
<rect x="242" y="476" width="7" height="7" fill="#314ea7"/>
<rect x="248" y="476" width="7" height="7" fill="#324ea7"/>
<rect x="254" y="476" width="7" height="7" fill="#334ea7"/>
<rect x="260" y="476" width="7" height="7" fill="#344ea7"/>
<rect x="266" y="476" width="7" height="7" fill="#354ea6"/>
<rect x="272" y="476" width="7" height="7" fill="#374da6"/>
<rect x="278" y="476" width="7" height="7" fill="#384da6"/>
<rect x="284" y="476" width="7" height="7" fill="#394da6"/>
<rect x="290" y="476" width="7" height="7" fill="#3b4ca5"/>
<rect x="296" y="476" width="7" height="7" fill="#3c4ca5"/>
<rect x="302" y="476" width="7" height="7" fill="#3f4ba5"/>
<rect x="308" y="476" width="7" height="7" fill="#424ba4"/>
<rect x="314" y="476" width="7" height="7" fill="#474aa4"/>
<rect x="248" y="482" width="7" height="7" fill="#314ea7"/>
<rect x="254" y="482" width="7" height="7" fill="#334ea7"/>
<rect x="260" y="482" width="7" height="7" fill="#344ea7"/>
<rect x="266" y="482" width="7" height="7" fill="#364da6"/>
<rect x="272" y="482" width="7" height="7" fill="#374da6"/>
<rect x="278" y="482" width="7" height="7" fill="#394da6"/>
<rect x="284" y="482" width="7" height="7" fill="#3b4da6"/>
<rect x="290" y="482" width="7" height="7" fill="#3c4ca5"/>
<rect x="296" y="482" width="7" height="7" fill="#3e4ba5"/>
<rect x="302" y="482" width="7" height="7" fill="#404ba5"/>
<rect x="308" y="482" width="7" height="7" fill="#434aa4"/>
<rect x="254" y="488" width="7" height="7" fill="#334da7"/>
<rect x="260" y="488" width="7" height="7" fill="#344da7"/>
<rect x="266" y="488" width="7" height="7" fill="#364da6"/>
<rect x="272" y="488" width="7" height="7" fill="#384da6"/>
<rect x="278" y="488" width="7" height="7" fill="#3a4da6"/>
<rect x="284" y="488" width="7" height="7" fill="#3b4ca6"/>
<rect x="290" y="488" width="7" height="7" fill="#3d4ca5"/>
<rect x="296" y="488" width="7" height="7" fill="#3f4ba5"/>
<rect x="302" y="488" width="7" height="7" fill="#414ba5"/>
<rect x="308" y="488" width="7" height="7" fill="#444aa4"/>
<rect x="260" y="494" width="7" height="7" fill="#344da7"/>
<rect x="266" y="494" width="7" height="7" fill="#364da6"/>
<rect x="272" y="494" width="7" height="7" fill="#384da6"/>
<rect x="278" y="494" width="7" height="7" fill="#3a4ca6"/>
<rect x="284" y="494" width="7" height="7" fill="#3b4ca6"/>
<rect x="290" y="494" width="7" height="7" fill="#3d4ba5"/>
<rect x="296" y="494" width="7" height="7" fill="#3f4ba5"/>
<rect x="302" y="494" width="7" height="7" fill="#424aa5"/>
<rect x="260" y="500" width="7" height="7" fill="#344da7"/>
<rect x="266" y="500" width="7" height="7" fill="#364ca6"/>
<rect x="272" y="500" width="7" height="7" fill="#384ca6"/>
<rect x="278" y="500" width="7" height="7" fill="#394ca6"/>
<rect x="284" y="500" width="7" height="7" fill="#3b4ba6"/>
<rect x="290" y="500" width="7" height="7" fill="#3d4ba5"/>
<rect x="296" y="500" width="7" height="7" fill="#404aa5"/>
<rect x="266" y="506" width="7" height="7" fill="#364ca6"/>
<rect x="272" y="506" width="7" height="7" fill="#384ca6"/>
<rect x="278" y="506" width="7" height="7" fill="#394ba6"/>
<rect x="284" y="506" width="7" height="7" fill="#3b4ba6"/>
<rect x="290" y="506" width="7" height="7" fill="#3e4aa5"/>
<rect x="278" y="512" width="7" height="7" fill="#3a4ba6"/>
</g></g>
<path d="M78.8 65.3V513H567.2" fill="none" stroke="#5f5f5f" stroke-width="2.1"/>
<path d="M77.8 66.2H566.4V514" fill="none" stroke="#626262" stroke-width="2.0"/>
<line x1="110.0" y1="89.0" x2="110.0" y2="93.0" stroke="#111" stroke-width="1.4"/>
<line x1="122.6" y1="83.4" x2="122.6" y2="87.0" stroke="#111" stroke-width="1.4"/>
<line x1="148.8" y1="84.4" x2="148.8" y2="87.6" stroke="#111" stroke-width="1.4"/>
<line x1="155.3" y1="84.2" x2="155.3" y2="88.4" stroke="#111" stroke-width="1.4"/>
<line x1="189.7" y1="89.6" x2="189.7" y2="93.2" stroke="#111" stroke-width="1.4"/>
<line x1="230.4" y1="95.1" x2="230.4" y2="99.2" stroke="#111" stroke-width="1.4"/>
<line x1="267.9" y1="99.6" x2="267.9" y2="104.2" stroke="#111" stroke-width="1.4"/>
<line x1="295.7" y1="103.8" x2="295.7" y2="108.2" stroke="#111" stroke-width="1.4"/>
<line x1="328.5" y1="108.4" x2="328.5" y2="113.0" stroke="#111" stroke-width="1.4"/>
<line x1="359.2" y1="112.0" x2="359.2" y2="117.0" stroke="#111" stroke-width="1.4"/>
<line x1="394.6" y1="118.4" x2="394.6" y2="122.6" stroke="#111" stroke-width="1.4"/>
<line x1="427.5" y1="122.2" x2="427.5" y2="127.0" stroke="#111" stroke-width="1.4"/>
<line x1="452.9" y1="124.6" x2="452.9" y2="130.0" stroke="#111" stroke-width="1.4"/>
<line x1="489.8" y1="132.2" x2="489.8" y2="136.6" stroke="#111" stroke-width="1.4"/>
<line x1="516.2" y1="135.2" x2="516.2" y2="139.8" stroke="#111" stroke-width="1.4"/>
<line x1="95.1" y1="106.3" x2="99.4" y2="108.6" stroke="#111" stroke-width="1.4"/>
<line x1="91.6" y1="131.3" x2="96.4" y2="130.5" stroke="#111" stroke-width="1.4"/>
<line x1="110.2" y1="209.4" x2="115.0" y2="208.6" stroke="#111" stroke-width="1.4"/>
<line x1="132.5" y1="270.6" x2="138.2" y2="269.6" stroke="#111" stroke-width="1.4"/>
<line x1="177.6" y1="360.3" x2="181.8" y2="356.7" stroke="#111" stroke-width="1.4"/>
<line x1="218.8" y1="427.4" x2="222.4" y2="424.1" stroke="#111" stroke-width="1.4"/>
<line x1="232.6" y1="448.7" x2="236.8" y2="445.3" stroke="#111" stroke-width="1.4"/>
<line x1="245.6" y1="462.7" x2="249.3" y2="459.1" stroke="#111" stroke-width="1.4"/>
<path d="M174.4 91.1C171.2 90.6 160.0 88.9 155.0 88.3C150.0 87.7 148.6 87.4 144.6 87.2C140.6 87.0 134.9 86.8 131.2 87.0C127.5 87.2 125.0 87.5 122.3 88.1C119.6 88.7 117.3 89.2 114.8 90.4C112.3 91.6 109.6 93.3 107.4 95.5C105.2 97.7 102.9 100.8 101.4 103.7C99.9 106.6 99.2 109.7 98.4 112.7C97.7 115.7 97.2 118.6 96.9 121.6C96.6 124.6 96.5 127.0 96.6 130.5C96.6 134.0 96.7 138.8 97.2 142.5C97.7 146.2 98.7 149.5 99.6 153.0C100.5 156.5 101.2 158.3 102.8 163.5C104.4 168.7 107.0 176.6 109.1 184.0C111.2 191.4 113.7 201.4 115.5 207.9C117.3 214.4 118.4 217.8 120.0 222.8C121.6 227.8 123.3 232.7 125.2 237.7C127.1 242.7 128.8 246.9 131.2 252.6C133.6 258.3 137.0 265.7 139.7 271.9C142.4 278.1 144.7 283.4 147.6 289.7C150.5 296.0 153.9 303.1 157.0 309.6C160.1 316.1 162.7 321.7 166.3 328.9C169.9 336.1 174.3 345.3 178.4 352.8C182.5 360.3 186.4 366.4 190.8 373.7C195.2 381.0 200.2 389.2 205.0 396.5C209.8 403.8 214.4 409.9 219.4 417.3C224.4 424.7 230.3 434.1 235.2 441.1C240.1 448.1 243.7 453.0 248.6 459.2C253.5 465.4 258.7 471.4 264.4 478.1C270.1 484.8 279.6 495.9 282.6 499.5L547.7 145.2Z" fill="none" stroke="#050505" stroke-width="2.25" stroke-linejoin="miter" stroke-miterlimit="10"/>
<path d="M178.8 114.8L388.1 138.1L210.6 368.3Z" fill="none" stroke="#e42d2b" stroke-width="1.35" stroke-linejoin="miter"/>
<path d="M193.8 111.3L373.1 131.4L206.2 379.3Z" fill="none" stroke="#40848a" stroke-width="1.35" stroke-linejoin="miter"/>
<line x1="408" y1="17" x2="478.8" y2="17" stroke="#e0503f" stroke-width="1.4"/>
<line x1="408" y1="38.4" x2="478.8" y2="38.4" stroke="#5e9299" stroke-width="1.4"/>
<text x="491.6" y="22.3" font-size="14.5" fill="#3a3a3a" stroke="#3a3a3a" stroke-width="0.25" textLength="34.8" lengthAdjust="spacingAndGlyphs">sRGB</text>
<text x="491.6" y="40.2" font-size="14.5" fill="#3a3a3a" stroke="#3a3a3a" stroke-width="0.25" textLength="69.4" lengthAdjust="spacingAndGlyphs">PJ LU300N</text>
<text x="41.2" y="74.7" font-size="21.5" fill="#555" stroke="#555" stroke-width="0.50" textLength="27.9" lengthAdjust="spacingAndGlyphs">0.6</text>
<text x="41.2" y="146.5" font-size="21.5" fill="#555" stroke="#555" stroke-width="0.50" textLength="27.9" lengthAdjust="spacingAndGlyphs">0.5</text>
<text x="41.2" y="225.1" font-size="21.5" fill="#555" stroke="#555" stroke-width="0.50" textLength="28.2" lengthAdjust="spacingAndGlyphs">0.4</text>
<text x="41.2" y="297.4" font-size="21.5" fill="#555" stroke="#555" stroke-width="0.50" textLength="27.9" lengthAdjust="spacingAndGlyphs">0.3</text>
<text x="41.2" y="371.4" font-size="21.5" fill="#555" stroke="#555" stroke-width="0.50" textLength="27.9" lengthAdjust="spacingAndGlyphs">0.2</text>
<text x="41.2" y="441.9" font-size="21.5" fill="#555" stroke="#555" stroke-width="0.50" textLength="27.7" lengthAdjust="spacingAndGlyphs">0.1</text>
<text x="41.2" y="513.1" font-size="21.5" fill="#555" stroke="#555" stroke-width="0.50" textLength="27.9" lengthAdjust="spacingAndGlyphs">0.0</text>
<text x="71.0" y="542.7" font-size="21.5" fill="#555" stroke="#555" stroke-width="0.50" textLength="27.8" lengthAdjust="spacingAndGlyphs">0.0</text>
<text x="143.1" y="542.7" font-size="21.5" fill="#555" stroke="#555" stroke-width="0.50" textLength="27.8" lengthAdjust="spacingAndGlyphs">0.1</text>
<text x="213.3" y="542.7" font-size="21.5" fill="#555" stroke="#555" stroke-width="0.50" textLength="28.4" lengthAdjust="spacingAndGlyphs">0.2</text>
<text x="291.7" y="542.7" font-size="21.5" fill="#555" stroke="#555" stroke-width="0.50" textLength="27.8" lengthAdjust="spacingAndGlyphs">0.3</text>
<text x="366.7" y="542.7" font-size="21.5" fill="#555" stroke="#555" stroke-width="0.50" textLength="28.3" lengthAdjust="spacingAndGlyphs">0.4</text>
<text x="439.8" y="542.7" font-size="21.5" fill="#555" stroke="#555" stroke-width="0.50" textLength="28.1" lengthAdjust="spacingAndGlyphs">0.5</text>
<text x="519.5" y="542.7" font-size="21.5" fill="#555" stroke="#555" stroke-width="0.50" textLength="27.9" lengthAdjust="spacingAndGlyphs">0.6</text>
<text x="95.4" y="83.2" font-size="12.9" fill="#555" stroke="#555" stroke-width="0.28" textLength="21.3" lengthAdjust="spacingAndGlyphs">528</text>
<text x="118.1" y="78.4" font-size="12.9" fill="#555" stroke="#555" stroke-width="0.28" textLength="21.3" lengthAdjust="spacingAndGlyphs">530</text>
<text x="142.4" y="78.6" font-size="12.9" fill="#555" stroke="#555" stroke-width="0.28" textLength="20.9" lengthAdjust="spacingAndGlyphs">540</text>
<text x="179.2" y="83.4" font-size="12.9" fill="#555" stroke="#555" stroke-width="0.28" textLength="21.4" lengthAdjust="spacingAndGlyphs">550</text>
<text x="219.0" y="86.4" font-size="12.9" fill="#555" stroke="#555" stroke-width="0.28" textLength="21.3" lengthAdjust="spacingAndGlyphs">560</text>
<text x="253.2" y="91.5" font-size="12.9" fill="#555" stroke="#555" stroke-width="0.28" textLength="21.3" lengthAdjust="spacingAndGlyphs">570</text>
<text x="286.8" y="96.8" font-size="12.9" fill="#555" stroke="#555" stroke-width="0.28" textLength="21.4" lengthAdjust="spacingAndGlyphs">580</text>
<text x="319.9" y="100.6" font-size="12.9" fill="#555" stroke="#555" stroke-width="0.28" textLength="21.4" lengthAdjust="spacingAndGlyphs">590</text>
<text x="352.4" y="105.9" font-size="12.9" fill="#555" stroke="#555" stroke-width="0.28" textLength="21.0" lengthAdjust="spacingAndGlyphs">600</text>
<text x="385.5" y="109.5" font-size="12.9" fill="#555" stroke="#555" stroke-width="0.28" textLength="21.2" lengthAdjust="spacingAndGlyphs">610</text>
<text x="417.6" y="112.8" font-size="12.9" fill="#555" stroke="#555" stroke-width="0.28" textLength="21.2" lengthAdjust="spacingAndGlyphs">620</text>
<text x="446.4" y="116.4" font-size="12.9" fill="#555" stroke="#555" stroke-width="0.28" textLength="20.8" lengthAdjust="spacingAndGlyphs">630</text>
<text x="477.9" y="125.4" font-size="12.9" fill="#555" stroke="#555" stroke-width="0.28" textLength="20.8" lengthAdjust="spacingAndGlyphs">640</text>
<text x="507.3" y="128.4" font-size="12.9" fill="#555" stroke="#555" stroke-width="0.28" textLength="20.8" lengthAdjust="spacingAndGlyphs">660</text>
<text x="80.9" y="99.0" font-size="12.9" fill="#555" stroke="#555" stroke-width="0.28" textLength="20.9" lengthAdjust="spacingAndGlyphs">510</text>
<text x="68.3" y="130.9" font-size="12.9" fill="#555" stroke="#555" stroke-width="0.28" textLength="20.9" lengthAdjust="spacingAndGlyphs">500</text>
<text x="86.8" y="213.8" font-size="12.9" fill="#555" stroke="#555" stroke-width="0.28" textLength="21.2" lengthAdjust="spacingAndGlyphs">490</text>
<text x="107.9" y="276.8" font-size="12.9" fill="#555" stroke="#555" stroke-width="0.28" textLength="21.4" lengthAdjust="spacingAndGlyphs">480</text>
<text x="155.9" y="376.0" font-size="12.9" fill="#555" stroke="#555" stroke-width="0.28" textLength="21.2" lengthAdjust="spacingAndGlyphs">470</text>
<text x="194.4" y="435.3" font-size="12.9" fill="#555" stroke="#555" stroke-width="0.28" textLength="21.3" lengthAdjust="spacingAndGlyphs">460</text>
<text x="206.2" y="456.9" font-size="12.9" fill="#555" stroke="#555" stroke-width="0.28" textLength="21.2" lengthAdjust="spacingAndGlyphs">450</text>
<text x="219.4" y="475.4" font-size="12.9" fill="#555" stroke="#555" stroke-width="0.28" textLength="21.2" lengthAdjust="spacingAndGlyphs">440</text>
</svg>
</body></html>
